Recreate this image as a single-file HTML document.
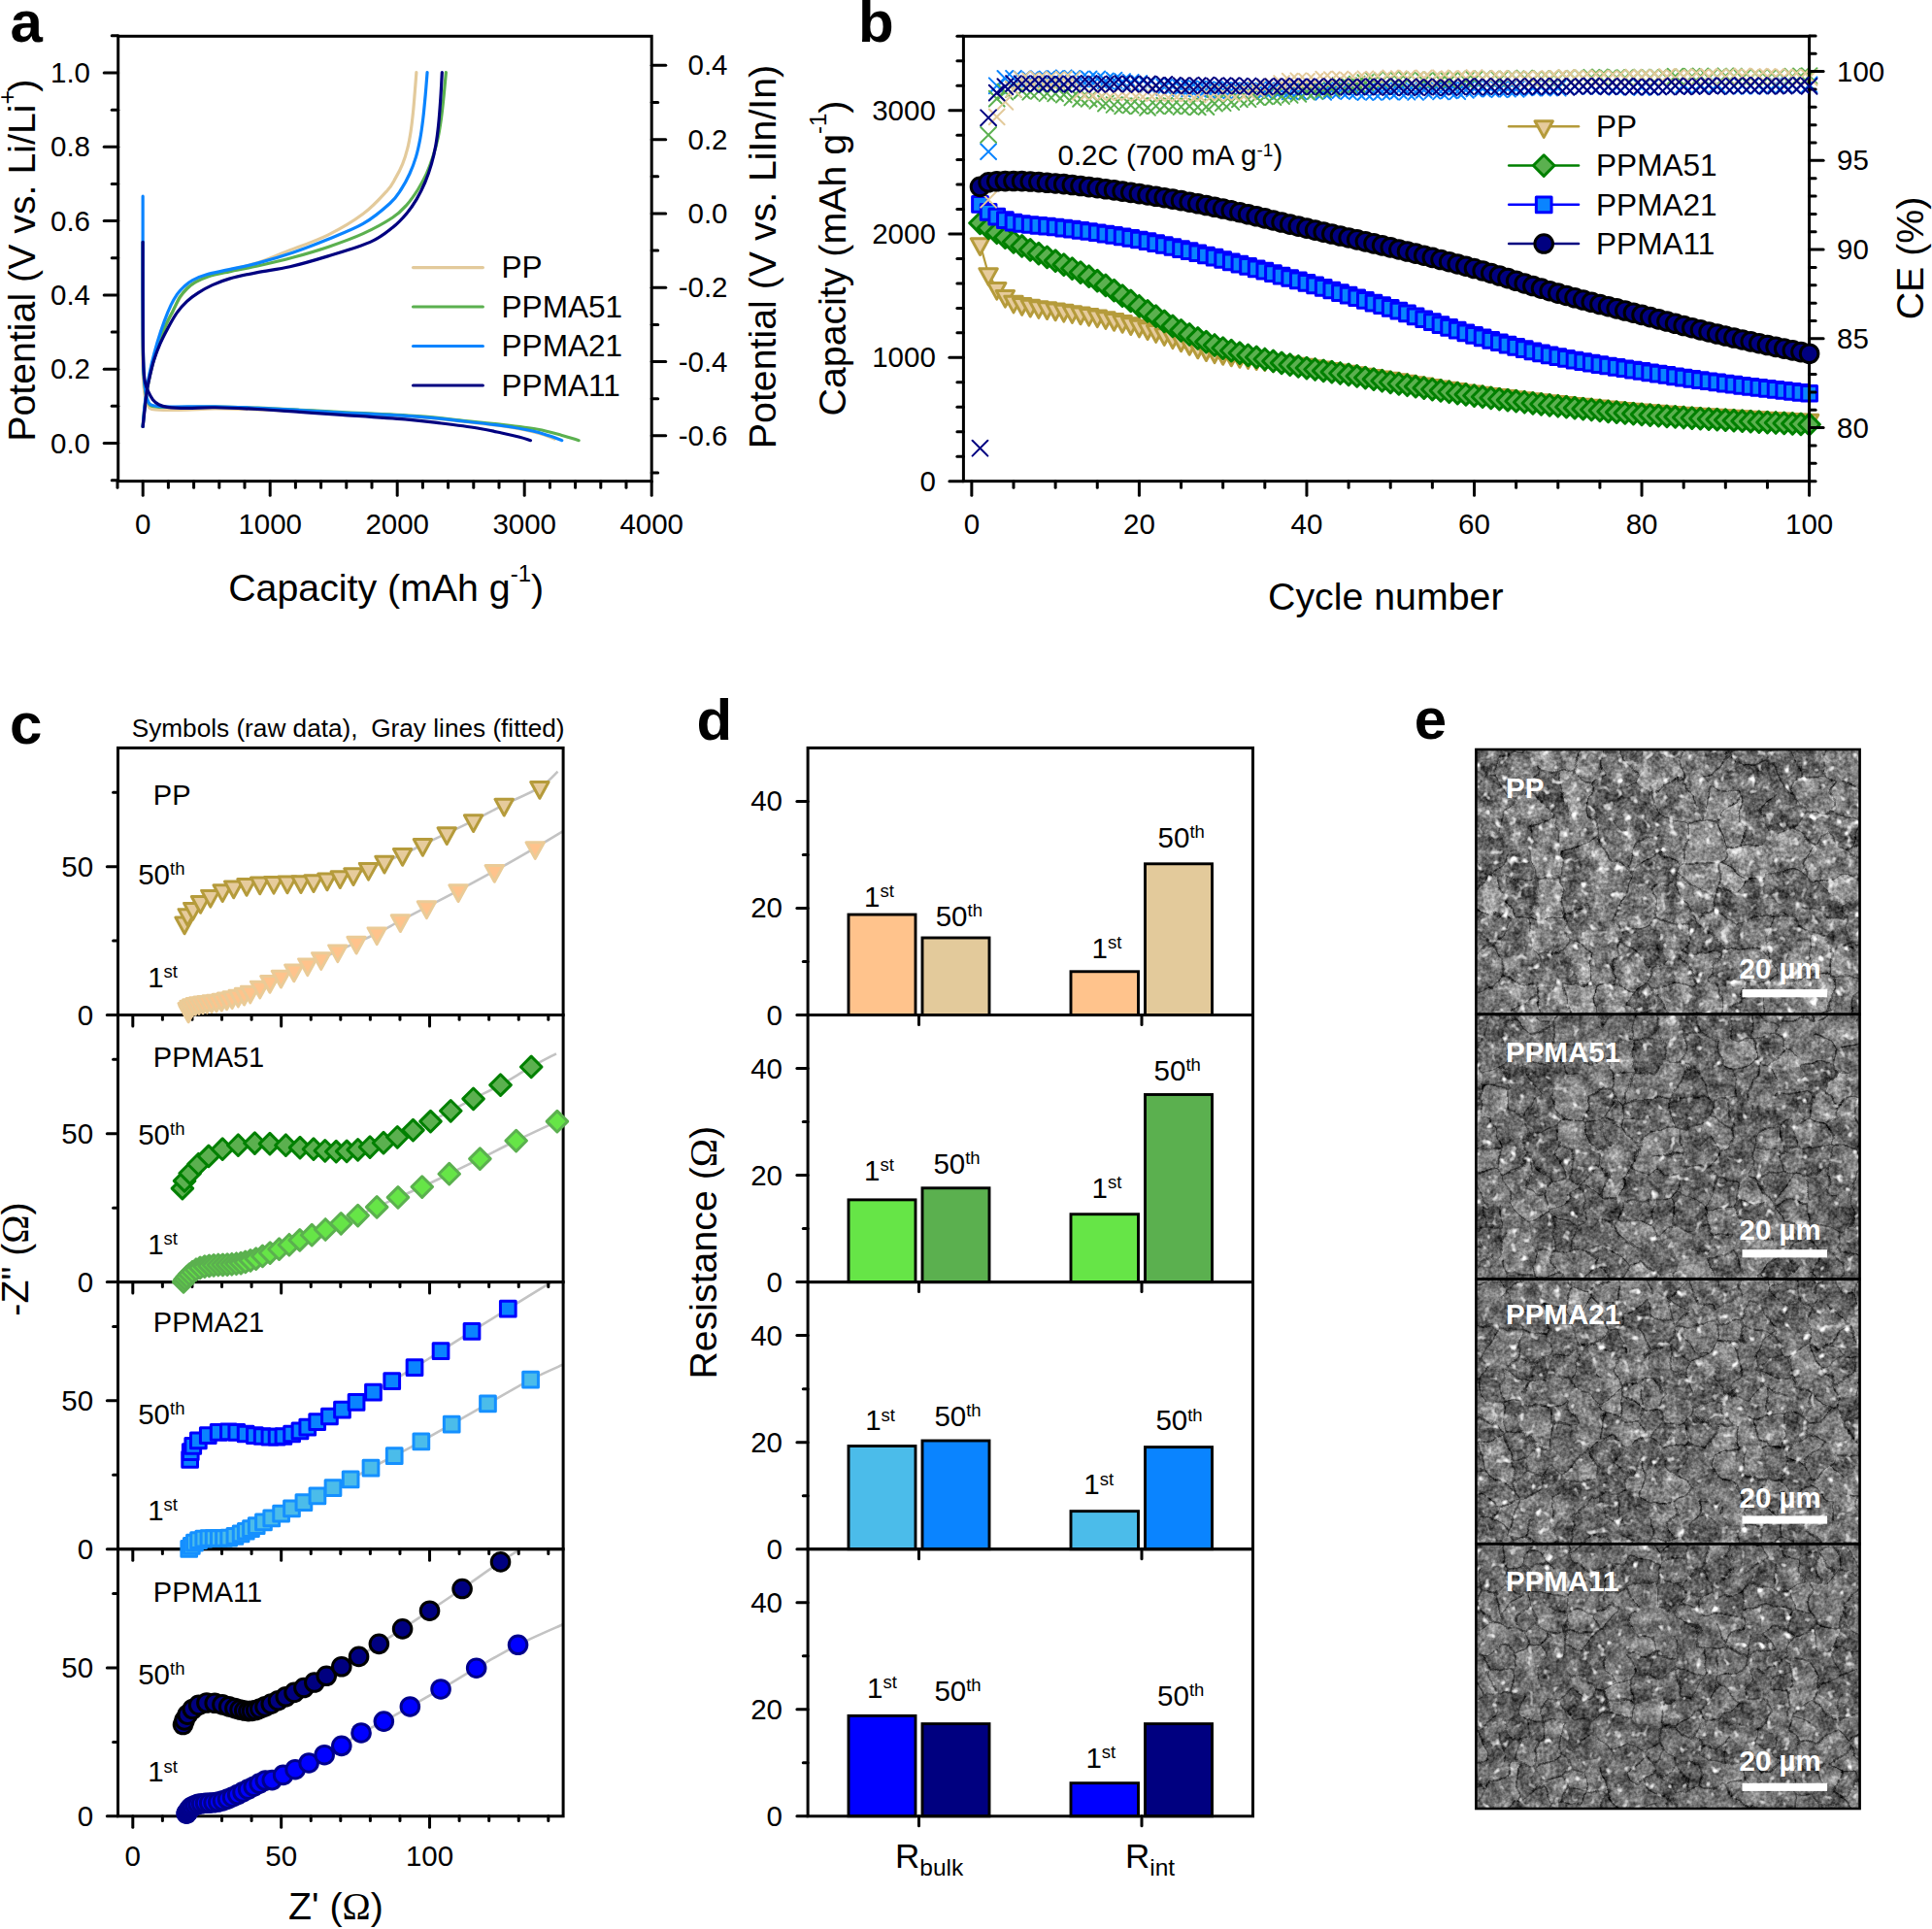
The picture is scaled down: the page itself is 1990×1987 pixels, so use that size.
<!DOCTYPE html>
<html lang="en"><head><meta charset="utf-8"><title>Figure</title>
<style>html,body{margin:0;padding:0;background:#fff}svg{display:block}text{font-family:"Liberation Sans", Arial, Helvetica, sans-serif}</style>
</head><body>
<svg width="1990" height="1987" viewBox="0 0 1990 1987">
<rect width="1990" height="1987" fill="#fff"/>
<g id="pa">
<path d="M147.14 249.35C147.14 258.06 147.17 285.64 147.14 301.61C147.12 317.58 147.02 333.55 147 345.16C146.98 356.77 146.9 363.79 147 371.29C147.1 378.79 147.17 383.87 147.58 390.16C147.99 396.45 148.38 404 149.47 409.03C150.56 414.06 151.77 418.17 154.11 420.35C156.46 422.53 157.14 421.8 163.55 422.09C169.96 422.38 182.9 422.29 192.58 422.09C202.26 421.9 209.51 420.98 221.61 420.93C233.71 420.88 250.64 421.37 265.16 421.8C279.67 422.24 294.19 422.92 308.71 423.54C323.22 424.17 332.09 424.62 352.25 425.58C372.42 426.54 408.5 427.87 429.69 429.32C450.88 430.77 464.89 432.73 479.38 434.29C493.87 435.84 506.29 437.2 516.65 438.63C527 440.06 534.24 441.33 541.49 442.86C548.74 444.39 555.16 446.27 560.12 447.83C565.09 449.38 569.44 451.45 571.3 452.17" fill="none" stroke="#E3CA9B" stroke-width="3.2" stroke-linecap="round" stroke-linejoin="round"/>
<path d="M147.14 439.51C147.46 436.13 148.19 426.21 149.03 419.19C149.88 412.17 150.89 404.67 152.23 397.42C153.56 390.16 155.13 382.9 157.02 375.64C158.9 368.38 161.25 360.64 163.55 353.87C165.85 347.09 168.39 340.56 170.81 335C173.22 329.43 175.64 325.2 178.06 320.48C180.48 315.76 182.9 310.51 185.32 306.69C187.74 302.87 189.92 300.28 192.58 297.55C195.24 294.81 197.66 292.56 201.29 290.29C204.92 288.01 208.55 285.93 214.35 283.9C220.16 281.87 227.66 280.27 236.13 278.1C244.59 275.92 255.48 273.93 265.16 270.84C274.84 267.74 282.09 264.31 294.19 259.52C306.29 254.72 324.43 248.63 337.74 242.1C351.04 235.56 363.87 227.93 374.03 220.32C384.19 212.71 393.14 202.61 398.71 196.45C404.27 190.29 404.76 187.98 407.42 183.39C410.08 178.79 412.62 173.95 414.68 168.87C416.73 163.79 418.35 158.47 419.76 152.9C421.16 147.34 422.13 141.77 423.1 135.48C424.06 129.19 424.86 121.93 425.56 115.16C426.27 108.39 426.75 101.61 427.31 94.84C427.86 88.06 428.64 77.9 428.9 74.52" fill="none" stroke="#E3CA9B" stroke-width="3.2" stroke-linecap="round" stroke-linejoin="round"/>
<path d="M147.14 249.35C147.14 258.06 147.12 285.64 147.14 301.61C147.17 317.58 147.22 333.55 147.29 345.16C147.36 356.77 147.39 363.79 147.58 371.29C147.77 378.79 147.97 384.23 148.45 390.16C148.94 396.09 149.54 402.38 150.48 406.85C151.43 411.33 152.18 414.96 154.11 417.01C156.05 419.07 158.1 418.78 162.1 419.19C166.09 419.6 168.14 419.5 178.06 419.48C187.98 419.46 207.1 418.92 221.61 419.04C236.13 419.17 250.64 419.67 265.16 420.21C279.67 420.74 294.19 421.51 308.71 422.24C323.22 422.96 332.09 423.48 352.25 424.56C372.42 425.64 408.5 427.2 429.69 428.7C450.88 430.19 464.89 432.11 479.38 433.54C493.87 434.97 504.22 435.82 516.65 437.27C529.07 438.72 543.56 440.37 553.91 442.24C564.27 444.1 571.72 446.54 578.76 448.45C585.8 450.35 593.25 452.8 596.15 453.66" fill="none" stroke="#5BB04F" stroke-width="3.2" stroke-linecap="round" stroke-linejoin="round"/>
<path d="M147.14 439.51C147.46 436.13 148.19 426.21 149.03 419.19C149.88 412.17 150.89 404.67 152.23 397.42C153.56 390.16 155.13 382.9 157.02 375.64C158.9 368.38 161.25 360.64 163.55 353.87C165.85 347.09 168.39 340.56 170.81 335C173.22 329.43 175.64 325.32 178.06 320.48C180.48 315.64 182.9 309.84 185.32 305.97C187.74 302.1 189.92 299.8 192.58 297.26C195.24 294.72 197.66 292.78 201.29 290.72C204.92 288.67 208.55 286.73 214.35 284.92C220.16 283.1 227.66 281.65 236.13 279.84C244.59 278.02 254.27 276.45 265.16 274.03C276.05 271.61 289.35 268.59 301.45 265.32C313.55 262.06 325.64 258.55 337.74 254.43C349.84 250.32 362.9 245.71 374.03 240.64C385.16 235.58 397.02 228.98 404.52 224.03C412.02 219.08 414.68 215.8 419.03 210.97C423.39 206.13 427.26 200.32 430.64 195C434.03 189.68 436.81 184.59 439.35 179.03C441.89 173.47 443.95 167.66 445.89 161.61C447.82 155.56 449.52 149.51 450.97 142.74C452.42 135.97 453.56 128.47 454.6 120.97C455.64 113.47 456.41 105.48 457.21 97.74C458.01 90 459.02 78.39 459.39 74.52" fill="none" stroke="#5BB04F" stroke-width="3.2" stroke-linecap="round" stroke-linejoin="round"/>
<path d="M147.14 202.18C147.14 218.75 147.12 277.78 147.14 301.61C147.17 325.44 147.22 333.55 147.29 345.16C147.36 356.77 147.39 363.79 147.58 371.29C147.77 378.79 147.97 384.35 148.45 390.16C148.94 395.96 149.54 401.82 150.48 406.13C151.43 410.43 152.18 413.94 154.11 416C156.05 418.05 158.1 417.96 162.1 418.46C166.09 418.97 168.14 418.97 178.06 419.04C187.98 419.12 207.1 418.68 221.61 418.9C236.13 419.12 250.64 419.75 265.16 420.35C279.67 420.96 294.19 421.75 308.71 422.53C323.22 423.3 332.09 423.89 352.25 425C372.42 426.11 408.5 427.67 429.69 429.19C450.88 430.72 464.89 432.61 479.38 434.16C493.87 435.71 505.26 436.92 516.65 438.51C528.03 440.1 539.42 441.97 547.7 443.73C555.98 445.49 561.16 447.41 566.34 449.07C571.51 450.72 576.69 452.9 578.76 453.66" fill="none" stroke="#0A84FF" stroke-width="3.2" stroke-linecap="round" stroke-linejoin="round"/>
<path d="M147.14 439.51C147.46 435.88 148.23 425 149.03 417.74C149.83 410.48 150.73 403.22 151.93 395.96C153.14 388.71 154.6 381.45 156.29 374.19C157.98 366.93 159.92 359.67 162.1 352.42C164.27 345.16 167.06 336.93 169.35 330.64C171.65 324.35 173.71 319.27 175.89 314.68C178.06 310.08 180.12 306.33 182.42 303.06C184.72 299.8 187.02 297.5 189.68 295.08C192.34 292.66 194.51 290.6 198.39 288.55C202.26 286.49 206.61 284.56 212.9 282.74C219.19 280.93 227.42 279.6 236.13 277.66C244.84 275.72 254.27 274.03 265.16 271.13C276.05 268.22 289.35 264.35 301.45 260.24C313.55 256.13 325.64 251.41 337.74 246.45C349.84 241.49 363.38 236.64 374.03 230.48C384.67 224.33 395.08 215.43 401.61 209.51C408.15 203.6 409.84 200.08 413.23 195C416.61 189.92 419.39 184.59 421.93 179.03C424.48 173.47 426.65 167.66 428.47 161.61C430.28 155.56 431.61 149.27 432.82 142.74C434.03 136.21 434.83 129.92 435.73 122.42C436.62 114.92 437.47 105.73 438.19 97.74C438.92 89.76 439.77 78.39 440.08 74.52" fill="none" stroke="#0A84FF" stroke-width="3.2" stroke-linecap="round" stroke-linejoin="round"/>
<path d="M147.14 249.35C147.14 258.06 147.12 285.64 147.14 301.61C147.17 317.58 147.22 334.27 147.29 345.16C147.36 356.05 147.44 360.64 147.58 366.93C147.73 373.22 147.85 378.42 148.16 382.9C148.48 387.38 148.72 390.4 149.47 393.79C150.22 397.17 151.33 400.25 152.66 403.22C153.99 406.2 155.64 409.39 157.45 411.64C159.27 413.89 161.08 415.44 163.55 416.72C166.02 418 167.42 418.73 172.26 419.34C177.1 419.94 184.35 420.28 192.58 420.35C200.81 420.42 209.51 419.58 221.61 419.77C233.71 419.96 250.64 420.74 265.16 421.51C279.67 422.29 294.19 423.45 308.71 424.42C323.22 425.38 334.16 426.07 352.25 427.32C370.35 428.57 400.22 430.47 417.27 431.93C434.31 433.38 442.11 434.51 454.53 436.02C466.96 437.54 481.45 439.34 491.8 440.99C502.15 442.65 509.4 444.41 516.65 445.96C523.89 447.52 530.31 449.03 535.28 450.31C540.25 451.59 544.6 453.11 546.46 453.66" fill="none" stroke="#000080" stroke-width="3.2" stroke-linecap="round" stroke-linejoin="round"/>
<path d="M147.14 439.51C147.46 436.61 148.35 428.14 149.03 422.09C149.71 416.04 150.36 408.79 151.21 403.22C152.06 397.66 152.9 394.03 154.11 388.71C155.32 383.38 156.65 377.09 158.47 371.29C160.28 365.48 162.58 359.43 165 353.87C167.42 348.3 170.08 343.22 172.98 337.9C175.89 332.58 179.15 326.53 182.42 321.93C185.68 317.34 188.95 313.71 192.58 310.32C196.21 306.93 199.84 304.39 204.19 301.61C208.55 298.83 213.39 296.05 218.71 293.63C224.03 291.21 228.39 289.27 236.13 287.1C243.87 284.92 254.76 282.62 265.16 280.56C275.56 278.51 286.45 277.54 298.55 274.76C310.64 271.97 323.95 268.1 337.74 263.87C351.53 259.64 370.16 254.3 381.29 249.35C392.42 244.41 398.22 239.14 404.52 234.19C410.81 229.24 414.92 224.51 419.03 219.67C423.14 214.84 426.05 210.48 429.19 205.16C432.34 199.84 435.36 193.79 437.9 187.74C440.44 181.69 442.62 175.16 444.43 168.87C446.25 162.58 447.58 156.77 448.79 150C450 143.22 450.85 136.45 451.69 128.22C452.54 120 453.27 109.6 453.87 100.64C454.47 91.69 455.08 78.87 455.32 74.52" fill="none" stroke="#000080" stroke-width="3.2" stroke-linecap="round" stroke-linejoin="round"/>
<rect x="121.7" y="37.3" width="549.5" height="458.35" fill="none" stroke="#000" stroke-width="3"/>
<line x1="107.2" y1="456.5" x2="121.7" y2="456.5" stroke="#000" stroke-width="3" stroke-linecap="round"/>
<text x="93" y="466.6" font-size="29.5" text-anchor="end">0.0</text>
<line x1="107.2" y1="380.2" x2="121.7" y2="380.2" stroke="#000" stroke-width="3" stroke-linecap="round"/>
<text x="93" y="390.3" font-size="29.5" text-anchor="end">0.2</text>
<line x1="107.2" y1="303.9" x2="121.7" y2="303.9" stroke="#000" stroke-width="3" stroke-linecap="round"/>
<text x="93" y="314" font-size="29.5" text-anchor="end">0.4</text>
<line x1="107.2" y1="227.6" x2="121.7" y2="227.6" stroke="#000" stroke-width="3" stroke-linecap="round"/>
<text x="93" y="237.7" font-size="29.5" text-anchor="end">0.6</text>
<line x1="107.2" y1="151.3" x2="121.7" y2="151.3" stroke="#000" stroke-width="3" stroke-linecap="round"/>
<text x="93" y="161.4" font-size="29.5" text-anchor="end">0.8</text>
<line x1="107.2" y1="75" x2="121.7" y2="75" stroke="#000" stroke-width="3" stroke-linecap="round"/>
<text x="93" y="85.1" font-size="29.5" text-anchor="end">1.0</text>
<line x1="115.2" y1="494.65" x2="121.7" y2="494.65" stroke="#000" stroke-width="3" stroke-linecap="round"/>
<line x1="115.2" y1="418.35" x2="121.7" y2="418.35" stroke="#000" stroke-width="3" stroke-linecap="round"/>
<line x1="115.2" y1="342.05" x2="121.7" y2="342.05" stroke="#000" stroke-width="3" stroke-linecap="round"/>
<line x1="115.2" y1="265.75" x2="121.7" y2="265.75" stroke="#000" stroke-width="3" stroke-linecap="round"/>
<line x1="115.2" y1="189.45" x2="121.7" y2="189.45" stroke="#000" stroke-width="3" stroke-linecap="round"/>
<line x1="115.2" y1="113.15" x2="121.7" y2="113.15" stroke="#000" stroke-width="3" stroke-linecap="round"/>
<line x1="115.2" y1="36.85" x2="121.7" y2="36.85" stroke="#000" stroke-width="3" stroke-linecap="round"/>
<line x1="147.2" y1="495.65" x2="147.2" y2="510.15" stroke="#000" stroke-width="3" stroke-linecap="round"/>
<text x="147.2" y="550" font-size="29.5" text-anchor="middle">0</text>
<line x1="278.2" y1="495.65" x2="278.2" y2="510.15" stroke="#000" stroke-width="3" stroke-linecap="round"/>
<text x="278.2" y="550" font-size="29.5" text-anchor="middle">1000</text>
<line x1="409.2" y1="495.65" x2="409.2" y2="510.15" stroke="#000" stroke-width="3" stroke-linecap="round"/>
<text x="409.2" y="550" font-size="29.5" text-anchor="middle">2000</text>
<line x1="540.2" y1="495.65" x2="540.2" y2="510.15" stroke="#000" stroke-width="3" stroke-linecap="round"/>
<text x="540.2" y="550" font-size="29.5" text-anchor="middle">3000</text>
<line x1="671.2" y1="495.65" x2="671.2" y2="510.15" stroke="#000" stroke-width="3" stroke-linecap="round"/>
<text x="671.2" y="550" font-size="29.5" text-anchor="middle">4000</text>
<line x1="121" y1="495.65" x2="121" y2="502.15" stroke="#000" stroke-width="3" stroke-linecap="round"/>
<line x1="173.4" y1="495.65" x2="173.4" y2="502.15" stroke="#000" stroke-width="3" stroke-linecap="round"/>
<line x1="199.6" y1="495.65" x2="199.6" y2="502.15" stroke="#000" stroke-width="3" stroke-linecap="round"/>
<line x1="225.8" y1="495.65" x2="225.8" y2="502.15" stroke="#000" stroke-width="3" stroke-linecap="round"/>
<line x1="252" y1="495.65" x2="252" y2="502.15" stroke="#000" stroke-width="3" stroke-linecap="round"/>
<line x1="304.4" y1="495.65" x2="304.4" y2="502.15" stroke="#000" stroke-width="3" stroke-linecap="round"/>
<line x1="330.6" y1="495.65" x2="330.6" y2="502.15" stroke="#000" stroke-width="3" stroke-linecap="round"/>
<line x1="356.8" y1="495.65" x2="356.8" y2="502.15" stroke="#000" stroke-width="3" stroke-linecap="round"/>
<line x1="383" y1="495.65" x2="383" y2="502.15" stroke="#000" stroke-width="3" stroke-linecap="round"/>
<line x1="435.4" y1="495.65" x2="435.4" y2="502.15" stroke="#000" stroke-width="3" stroke-linecap="round"/>
<line x1="461.6" y1="495.65" x2="461.6" y2="502.15" stroke="#000" stroke-width="3" stroke-linecap="round"/>
<line x1="487.8" y1="495.65" x2="487.8" y2="502.15" stroke="#000" stroke-width="3" stroke-linecap="round"/>
<line x1="514" y1="495.65" x2="514" y2="502.15" stroke="#000" stroke-width="3" stroke-linecap="round"/>
<line x1="566.4" y1="495.65" x2="566.4" y2="502.15" stroke="#000" stroke-width="3" stroke-linecap="round"/>
<line x1="592.6" y1="495.65" x2="592.6" y2="502.15" stroke="#000" stroke-width="3" stroke-linecap="round"/>
<line x1="618.8" y1="495.65" x2="618.8" y2="502.15" stroke="#000" stroke-width="3" stroke-linecap="round"/>
<line x1="645" y1="495.65" x2="645" y2="502.15" stroke="#000" stroke-width="3" stroke-linecap="round"/>
<line x1="671.2" y1="67.37" x2="685.7" y2="67.37" stroke="#000" stroke-width="3" stroke-linecap="round"/>
<text x="749.5" y="77.47" font-size="29.5" text-anchor="end">0.4</text>
<line x1="671.2" y1="143.67" x2="685.7" y2="143.67" stroke="#000" stroke-width="3" stroke-linecap="round"/>
<text x="749.5" y="153.77" font-size="29.5" text-anchor="end">0.2</text>
<line x1="671.2" y1="219.97" x2="685.7" y2="219.97" stroke="#000" stroke-width="3" stroke-linecap="round"/>
<text x="749.5" y="230.07" font-size="29.5" text-anchor="end">0.0</text>
<line x1="671.2" y1="296.27" x2="685.7" y2="296.27" stroke="#000" stroke-width="3" stroke-linecap="round"/>
<text x="749.5" y="306.37" font-size="29.5" text-anchor="end">-0.2</text>
<line x1="671.2" y1="372.57" x2="685.7" y2="372.57" stroke="#000" stroke-width="3" stroke-linecap="round"/>
<text x="749.5" y="382.67" font-size="29.5" text-anchor="end">-0.4</text>
<line x1="671.2" y1="448.87" x2="685.7" y2="448.87" stroke="#000" stroke-width="3" stroke-linecap="round"/>
<text x="749.5" y="458.97" font-size="29.5" text-anchor="end">-0.6</text>
<line x1="671.2" y1="105.52" x2="677.7" y2="105.52" stroke="#000" stroke-width="3" stroke-linecap="round"/>
<line x1="671.2" y1="181.82" x2="677.7" y2="181.82" stroke="#000" stroke-width="3" stroke-linecap="round"/>
<line x1="671.2" y1="258.12" x2="677.7" y2="258.12" stroke="#000" stroke-width="3" stroke-linecap="round"/>
<line x1="671.2" y1="334.42" x2="677.7" y2="334.42" stroke="#000" stroke-width="3" stroke-linecap="round"/>
<line x1="671.2" y1="410.72" x2="677.7" y2="410.72" stroke="#000" stroke-width="3" stroke-linecap="round"/>
<line x1="671.2" y1="487.02" x2="677.7" y2="487.02" stroke="#000" stroke-width="3" stroke-linecap="round"/>
<text x="397.7" y="618.7" font-size="39.3" text-anchor="middle">Capacity (mAh g<tspan font-size="24" dy="-19.6">-1</tspan><tspan dy="19.6" font-size="39.3">)</tspan></text>
<text x="36.1" y="268.2" font-size="39.3" text-anchor="middle" transform="rotate(-90 36.1 268.2)">Potential (V vs. Li/Li<tspan font-size="25" dy="-20.2">+</tspan><tspan dy="20.2" dx="-1.8" font-size="39.3">)</tspan></text>
<text x="799.3" y="264.5" font-size="39.3" text-anchor="middle" transform="rotate(-90 799.3 264.5)">Potential (V vs. LiIn/In)</text>
<line x1="425.5" y1="275.6" x2="497.4" y2="275.6" stroke="#E3CA9B" stroke-width="3.1" stroke-linecap="round"/>
<text x="516.5" y="286.4" font-size="31.6">PP</text>
<line x1="425.5" y1="316.05" x2="497.4" y2="316.05" stroke="#5BB04F" stroke-width="3.1" stroke-linecap="round"/>
<text x="516.5" y="326.85" font-size="31.6">PPMA51</text>
<line x1="425.5" y1="356.5" x2="497.4" y2="356.5" stroke="#0A84FF" stroke-width="3.1" stroke-linecap="round"/>
<text x="516.5" y="367.3" font-size="31.6">PPMA21</text>
<line x1="425.5" y1="396.95" x2="497.4" y2="396.95" stroke="#000080" stroke-width="3.1" stroke-linecap="round"/>
<text x="516.5" y="407.75" font-size="31.6">PPMA11</text>
<text x="10.6" y="42.7" font-size="60" font-weight="bold">a</text>
</g>
<defs>
<path id="mT" d="M-9.2 -5.6H9.2L0 11.1Z" fill="#E6CB9C" stroke="#B59B3B" stroke-width="3" stroke-linejoin="round"/>
<path id="mD" d="M0 -10.8L10.8 0L0 10.8L-10.8 0Z" fill="#5BB04F" stroke="#008000" stroke-width="3" stroke-linejoin="round"/>
<rect id="mS" x="-7.85" y="-7.85" width="15.7" height="15.7" fill="#0A84FF" stroke="#0000FF" stroke-width="3" stroke-linejoin="round"/>
<circle id="mC" r="9.3" fill="#000080" stroke="#000" stroke-width="3"/>
<path id="xT" d="M-7.9 -7.9L7.9 7.9M-7.9 7.9L7.9 -7.9" fill="none" stroke="#E3CA9B" stroke-width="2" stroke-linecap="round"/>
<path id="xG" d="M-7.9 -7.9L7.9 7.9M-7.9 7.9L7.9 -7.9" fill="none" stroke="#5BB04F" stroke-width="2" stroke-linecap="round"/>
<path id="xB" d="M-7.9 -7.9L7.9 7.9M-7.9 7.9L7.9 -7.9" fill="none" stroke="#0A84FF" stroke-width="2" stroke-linecap="round"/>
<path id="xN" d="M-7.9 -7.9L7.9 7.9M-7.9 7.9L7.9 -7.9" fill="none" stroke="#000080" stroke-width="2" stroke-linecap="round"/>
</defs>
<g id="pb">
<polyline points="1009.48,251.45 1018.11,282.26 1026.73,297.03 1035.36,305.05 1043.99,310.78 1052.62,313.21 1061.24,314.86 1069.87,316.26 1078.5,317.45 1087.12,318.68 1095.75,319.97 1104.38,321.26 1113.01,322.58 1121.63,324 1130.26,325.55 1138.89,327.27 1147.52,329.16 1156.14,331.2 1164.77,333.39 1173.4,335.74 1182.03,338.33 1190.65,341.22 1199.28,344.3 1207.91,347.47 1216.54,350.63 1225.16,354.07 1233.79,357.6 1242.42,360.44 1251.05,362.48 1259.67,364.2 1268.3,365.69 1276.93,367.06 1285.56,368.29 1294.18,369.39 1302.81,370.44 1311.44,371.51 1320.07,372.6 1328.69,373.68 1337.32,374.79 1345.95,375.97 1354.58,377.26 1363.2,378.65 1371.83,380.09 1380.46,381.54 1389.09,382.97 1397.71,384.37 1406.34,385.78 1414.97,387.18 1423.6,388.58 1432.22,389.97 1440.85,391.38 1449.48,392.8 1458.11,394.24 1466.74,395.68 1475.36,397.1 1483.99,398.51 1492.62,399.89 1501.24,401.22 1509.87,402.5 1518.5,403.72 1527.13,404.89 1535.76,406.03 1544.38,407.14 1553.01,408.22 1561.64,409.26 1570.26,410.29 1578.89,411.29 1587.52,412.27 1596.15,413.23 1604.78,414.17 1613.4,415.09 1622.03,416.01 1630.66,416.91 1639.28,417.8 1647.91,418.67 1656.54,419.51 1665.17,420.33 1673.8,421.11 1682.42,421.86 1691.05,422.57 1699.68,423.25 1708.3,423.9 1716.93,424.53 1725.56,425.14 1734.19,425.73 1742.82,426.3 1751.44,426.85 1760.07,427.39 1768.7,427.91 1777.32,428.43 1785.95,428.93 1794.58,429.42 1803.21,429.89 1811.84,430.36 1820.46,430.82 1829.09,431.26 1837.72,431.69 1846.35,432.1 1854.97,432.5 1863.6,432.88" fill="none" stroke="#B59B3B" stroke-width="2.2"/>
<use href="#mT" x="1009.48" y="251.45"/>
<use href="#mT" x="1018.11" y="282.26"/>
<use href="#mT" x="1026.73" y="297.03"/>
<use href="#mT" x="1035.36" y="305.05"/>
<use href="#mT" x="1043.99" y="310.78"/>
<use href="#mT" x="1052.62" y="313.21"/>
<use href="#mT" x="1061.24" y="314.86"/>
<use href="#mT" x="1069.87" y="316.26"/>
<use href="#mT" x="1078.5" y="317.45"/>
<use href="#mT" x="1087.12" y="318.68"/>
<use href="#mT" x="1095.75" y="319.97"/>
<use href="#mT" x="1104.38" y="321.26"/>
<use href="#mT" x="1113.01" y="322.58"/>
<use href="#mT" x="1121.63" y="324"/>
<use href="#mT" x="1130.26" y="325.55"/>
<use href="#mT" x="1138.89" y="327.27"/>
<use href="#mT" x="1147.52" y="329.16"/>
<use href="#mT" x="1156.14" y="331.2"/>
<use href="#mT" x="1164.77" y="333.39"/>
<use href="#mT" x="1173.4" y="335.74"/>
<use href="#mT" x="1182.03" y="338.33"/>
<use href="#mT" x="1190.65" y="341.22"/>
<use href="#mT" x="1199.28" y="344.3"/>
<use href="#mT" x="1207.91" y="347.47"/>
<use href="#mT" x="1216.54" y="350.63"/>
<use href="#mT" x="1225.16" y="354.07"/>
<use href="#mT" x="1233.79" y="357.6"/>
<use href="#mT" x="1242.42" y="360.44"/>
<use href="#mT" x="1251.05" y="362.48"/>
<use href="#mT" x="1259.67" y="364.2"/>
<use href="#mT" x="1268.3" y="365.69"/>
<use href="#mT" x="1276.93" y="367.06"/>
<use href="#mT" x="1285.56" y="368.29"/>
<use href="#mT" x="1294.18" y="369.39"/>
<use href="#mT" x="1302.81" y="370.44"/>
<use href="#mT" x="1311.44" y="371.51"/>
<use href="#mT" x="1320.07" y="372.6"/>
<use href="#mT" x="1328.69" y="373.68"/>
<use href="#mT" x="1337.32" y="374.79"/>
<use href="#mT" x="1345.95" y="375.97"/>
<use href="#mT" x="1354.58" y="377.26"/>
<use href="#mT" x="1363.2" y="378.65"/>
<use href="#mT" x="1371.83" y="380.09"/>
<use href="#mT" x="1380.46" y="381.54"/>
<use href="#mT" x="1389.09" y="382.97"/>
<use href="#mT" x="1397.71" y="384.37"/>
<use href="#mT" x="1406.34" y="385.78"/>
<use href="#mT" x="1414.97" y="387.18"/>
<use href="#mT" x="1423.6" y="388.58"/>
<use href="#mT" x="1432.22" y="389.97"/>
<use href="#mT" x="1440.85" y="391.38"/>
<use href="#mT" x="1449.48" y="392.8"/>
<use href="#mT" x="1458.11" y="394.24"/>
<use href="#mT" x="1466.74" y="395.68"/>
<use href="#mT" x="1475.36" y="397.1"/>
<use href="#mT" x="1483.99" y="398.51"/>
<use href="#mT" x="1492.62" y="399.89"/>
<use href="#mT" x="1501.24" y="401.22"/>
<use href="#mT" x="1509.87" y="402.5"/>
<use href="#mT" x="1518.5" y="403.72"/>
<use href="#mT" x="1527.13" y="404.89"/>
<use href="#mT" x="1535.76" y="406.03"/>
<use href="#mT" x="1544.38" y="407.14"/>
<use href="#mT" x="1553.01" y="408.22"/>
<use href="#mT" x="1561.64" y="409.26"/>
<use href="#mT" x="1570.26" y="410.29"/>
<use href="#mT" x="1578.89" y="411.29"/>
<use href="#mT" x="1587.52" y="412.27"/>
<use href="#mT" x="1596.15" y="413.23"/>
<use href="#mT" x="1604.78" y="414.17"/>
<use href="#mT" x="1613.4" y="415.09"/>
<use href="#mT" x="1622.03" y="416.01"/>
<use href="#mT" x="1630.66" y="416.91"/>
<use href="#mT" x="1639.28" y="417.8"/>
<use href="#mT" x="1647.91" y="418.67"/>
<use href="#mT" x="1656.54" y="419.51"/>
<use href="#mT" x="1665.17" y="420.33"/>
<use href="#mT" x="1673.8" y="421.11"/>
<use href="#mT" x="1682.42" y="421.86"/>
<use href="#mT" x="1691.05" y="422.57"/>
<use href="#mT" x="1699.68" y="423.25"/>
<use href="#mT" x="1708.3" y="423.9"/>
<use href="#mT" x="1716.93" y="424.53"/>
<use href="#mT" x="1725.56" y="425.14"/>
<use href="#mT" x="1734.19" y="425.73"/>
<use href="#mT" x="1742.82" y="426.3"/>
<use href="#mT" x="1751.44" y="426.85"/>
<use href="#mT" x="1760.07" y="427.39"/>
<use href="#mT" x="1768.7" y="427.91"/>
<use href="#mT" x="1777.32" y="428.43"/>
<use href="#mT" x="1785.95" y="428.93"/>
<use href="#mT" x="1794.58" y="429.42"/>
<use href="#mT" x="1803.21" y="429.89"/>
<use href="#mT" x="1811.84" y="430.36"/>
<use href="#mT" x="1820.46" y="430.82"/>
<use href="#mT" x="1829.09" y="431.26"/>
<use href="#mT" x="1837.72" y="431.69"/>
<use href="#mT" x="1846.35" y="432.1"/>
<use href="#mT" x="1854.97" y="432.5"/>
<use href="#mT" x="1863.6" y="432.88"/>
<polyline points="1009.48,229.81 1018.11,234.82 1026.73,239.74 1035.36,244.64 1043.99,249.29 1052.62,253.44 1061.24,257.31 1069.87,261.04 1078.5,264.77 1087.12,268.64 1095.75,272.58 1104.38,276.52 1113.01,280.53 1121.63,284.7 1130.26,289.14 1138.89,293.97 1147.52,299.18 1156.14,304.57 1164.77,309.98 1173.4,315.24 1182.03,320.45 1190.65,325.72 1199.28,330.91 1207.91,335.83 1216.54,340.32 1225.16,344.46 1233.79,348.42 1242.42,352.12 1251.05,355.51 1259.67,358.53 1268.3,361.2 1276.93,363.62 1285.56,365.85 1294.18,367.95 1302.81,369.99 1311.44,371.97 1320.07,373.87 1328.69,375.69 1337.32,377.41 1345.95,379.02 1354.58,380.5 1363.2,381.86 1371.83,383.17 1380.46,384.49 1389.09,385.9 1397.71,387.42 1406.34,389.03 1414.97,390.65 1423.6,392.26 1432.22,393.79 1440.85,395.27 1449.48,396.74 1458.11,398.18 1466.74,399.61 1475.36,401.02 1483.99,402.39 1492.62,403.74 1501.24,405.05 1509.87,406.32 1518.5,407.54 1527.13,408.73 1535.76,409.89 1544.38,411.02 1553.01,412.12 1561.64,413.2 1570.26,414.25 1578.89,415.28 1587.52,416.29 1596.15,417.27 1604.78,418.24 1613.4,419.19 1622.03,420.14 1630.66,421.08 1639.28,422 1647.91,422.9 1656.54,423.78 1665.17,424.62 1673.8,425.42 1682.42,426.18 1691.05,426.9 1699.68,427.57 1708.3,428.21 1716.93,428.83 1725.56,429.42 1734.19,429.99 1742.82,430.54 1751.44,431.07 1760.07,431.6 1768.7,432.12 1777.32,432.63 1785.95,433.13 1794.58,433.63 1803.21,434.11 1811.84,434.59 1820.46,435.05 1829.09,435.51 1837.72,435.95 1846.35,436.38 1854.97,436.8 1863.6,437.21" fill="none" stroke="#008000" stroke-width="2.2"/>
<use href="#mD" x="1009.48" y="229.81"/>
<use href="#mD" x="1018.11" y="234.82"/>
<use href="#mD" x="1026.73" y="239.74"/>
<use href="#mD" x="1035.36" y="244.64"/>
<use href="#mD" x="1043.99" y="249.29"/>
<use href="#mD" x="1052.62" y="253.44"/>
<use href="#mD" x="1061.24" y="257.31"/>
<use href="#mD" x="1069.87" y="261.04"/>
<use href="#mD" x="1078.5" y="264.77"/>
<use href="#mD" x="1087.12" y="268.64"/>
<use href="#mD" x="1095.75" y="272.58"/>
<use href="#mD" x="1104.38" y="276.52"/>
<use href="#mD" x="1113.01" y="280.53"/>
<use href="#mD" x="1121.63" y="284.7"/>
<use href="#mD" x="1130.26" y="289.14"/>
<use href="#mD" x="1138.89" y="293.97"/>
<use href="#mD" x="1147.52" y="299.18"/>
<use href="#mD" x="1156.14" y="304.57"/>
<use href="#mD" x="1164.77" y="309.98"/>
<use href="#mD" x="1173.4" y="315.24"/>
<use href="#mD" x="1182.03" y="320.45"/>
<use href="#mD" x="1190.65" y="325.72"/>
<use href="#mD" x="1199.28" y="330.91"/>
<use href="#mD" x="1207.91" y="335.83"/>
<use href="#mD" x="1216.54" y="340.32"/>
<use href="#mD" x="1225.16" y="344.46"/>
<use href="#mD" x="1233.79" y="348.42"/>
<use href="#mD" x="1242.42" y="352.12"/>
<use href="#mD" x="1251.05" y="355.51"/>
<use href="#mD" x="1259.67" y="358.53"/>
<use href="#mD" x="1268.3" y="361.2"/>
<use href="#mD" x="1276.93" y="363.62"/>
<use href="#mD" x="1285.56" y="365.85"/>
<use href="#mD" x="1294.18" y="367.95"/>
<use href="#mD" x="1302.81" y="369.99"/>
<use href="#mD" x="1311.44" y="371.97"/>
<use href="#mD" x="1320.07" y="373.87"/>
<use href="#mD" x="1328.69" y="375.69"/>
<use href="#mD" x="1337.32" y="377.41"/>
<use href="#mD" x="1345.95" y="379.02"/>
<use href="#mD" x="1354.58" y="380.5"/>
<use href="#mD" x="1363.2" y="381.86"/>
<use href="#mD" x="1371.83" y="383.17"/>
<use href="#mD" x="1380.46" y="384.49"/>
<use href="#mD" x="1389.09" y="385.9"/>
<use href="#mD" x="1397.71" y="387.42"/>
<use href="#mD" x="1406.34" y="389.03"/>
<use href="#mD" x="1414.97" y="390.65"/>
<use href="#mD" x="1423.6" y="392.26"/>
<use href="#mD" x="1432.22" y="393.79"/>
<use href="#mD" x="1440.85" y="395.27"/>
<use href="#mD" x="1449.48" y="396.74"/>
<use href="#mD" x="1458.11" y="398.18"/>
<use href="#mD" x="1466.74" y="399.61"/>
<use href="#mD" x="1475.36" y="401.02"/>
<use href="#mD" x="1483.99" y="402.39"/>
<use href="#mD" x="1492.62" y="403.74"/>
<use href="#mD" x="1501.24" y="405.05"/>
<use href="#mD" x="1509.87" y="406.32"/>
<use href="#mD" x="1518.5" y="407.54"/>
<use href="#mD" x="1527.13" y="408.73"/>
<use href="#mD" x="1535.76" y="409.89"/>
<use href="#mD" x="1544.38" y="411.02"/>
<use href="#mD" x="1553.01" y="412.12"/>
<use href="#mD" x="1561.64" y="413.2"/>
<use href="#mD" x="1570.26" y="414.25"/>
<use href="#mD" x="1578.89" y="415.28"/>
<use href="#mD" x="1587.52" y="416.29"/>
<use href="#mD" x="1596.15" y="417.27"/>
<use href="#mD" x="1604.78" y="418.24"/>
<use href="#mD" x="1613.4" y="419.19"/>
<use href="#mD" x="1622.03" y="420.14"/>
<use href="#mD" x="1630.66" y="421.08"/>
<use href="#mD" x="1639.28" y="422"/>
<use href="#mD" x="1647.91" y="422.9"/>
<use href="#mD" x="1656.54" y="423.78"/>
<use href="#mD" x="1665.17" y="424.62"/>
<use href="#mD" x="1673.8" y="425.42"/>
<use href="#mD" x="1682.42" y="426.18"/>
<use href="#mD" x="1691.05" y="426.9"/>
<use href="#mD" x="1699.68" y="427.57"/>
<use href="#mD" x="1708.3" y="428.21"/>
<use href="#mD" x="1716.93" y="428.83"/>
<use href="#mD" x="1725.56" y="429.42"/>
<use href="#mD" x="1734.19" y="429.99"/>
<use href="#mD" x="1742.82" y="430.54"/>
<use href="#mD" x="1751.44" y="431.07"/>
<use href="#mD" x="1760.07" y="431.6"/>
<use href="#mD" x="1768.7" y="432.12"/>
<use href="#mD" x="1777.32" y="432.63"/>
<use href="#mD" x="1785.95" y="433.13"/>
<use href="#mD" x="1794.58" y="433.63"/>
<use href="#mD" x="1803.21" y="434.11"/>
<use href="#mD" x="1811.84" y="434.59"/>
<use href="#mD" x="1820.46" y="435.05"/>
<use href="#mD" x="1829.09" y="435.51"/>
<use href="#mD" x="1837.72" y="435.95"/>
<use href="#mD" x="1846.35" y="436.38"/>
<use href="#mD" x="1854.97" y="436.8"/>
<use href="#mD" x="1863.6" y="437.21"/>
<polyline points="1009.48,210.45 1018.11,218.47 1026.73,223.06 1035.36,226.65 1043.99,229.17 1052.62,230.52 1061.24,231.51 1069.87,232.31 1078.5,233.09 1087.12,234.01 1095.75,235.07 1104.38,236.16 1113.01,237.3 1121.63,238.49 1130.26,239.74 1138.89,241.05 1147.52,242.42 1156.14,243.87 1164.77,245.39 1173.4,246.99 1182.03,248.72 1190.65,250.56 1199.28,252.5 1207.91,254.51 1216.54,256.54 1225.16,258.62 1233.79,260.77 1242.42,262.98 1251.05,265.22 1259.67,267.49 1268.3,269.78 1276.93,272.1 1285.56,274.44 1294.18,276.8 1302.81,279.19 1311.44,281.6 1320.07,284.03 1328.69,286.48 1337.32,288.95 1345.95,291.43 1354.58,293.93 1363.2,296.46 1371.83,299 1380.46,301.57 1389.09,304.16 1397.71,306.77 1406.34,309.4 1414.97,312.05 1423.6,314.72 1432.22,317.4 1440.85,320.15 1449.48,322.97 1458.11,325.85 1466.74,328.76 1475.36,331.67 1483.99,334.57 1492.62,337.41 1501.24,340.18 1509.87,342.86 1518.5,345.41 1527.13,347.89 1535.76,350.34 1544.38,352.75 1553.01,355.12 1561.64,357.43 1570.26,359.68 1578.89,361.83 1587.52,363.9 1596.15,365.85 1604.78,367.69 1613.4,369.42 1622.03,371.07 1630.66,372.64 1639.28,374.14 1647.91,375.6 1656.54,377.01 1665.17,378.39 1673.8,379.75 1682.42,381.11 1691.05,382.46 1699.68,383.82 1708.3,385.15 1716.93,386.47 1725.56,387.78 1734.19,389.06 1742.82,390.31 1751.44,391.55 1760.07,392.75 1768.7,393.92 1777.32,395.07 1785.95,396.18 1794.58,397.28 1803.21,398.36 1811.84,399.41 1820.46,400.45 1829.09,401.46 1837.72,402.44 1846.35,403.41 1854.97,404.34 1863.6,405.25" fill="none" stroke="#0000FF" stroke-width="2.2"/>
<use href="#mS" x="1009.48" y="210.45"/>
<use href="#mS" x="1018.11" y="218.47"/>
<use href="#mS" x="1026.73" y="223.06"/>
<use href="#mS" x="1035.36" y="226.65"/>
<use href="#mS" x="1043.99" y="229.17"/>
<use href="#mS" x="1052.62" y="230.52"/>
<use href="#mS" x="1061.24" y="231.51"/>
<use href="#mS" x="1069.87" y="232.31"/>
<use href="#mS" x="1078.5" y="233.09"/>
<use href="#mS" x="1087.12" y="234.01"/>
<use href="#mS" x="1095.75" y="235.07"/>
<use href="#mS" x="1104.38" y="236.16"/>
<use href="#mS" x="1113.01" y="237.3"/>
<use href="#mS" x="1121.63" y="238.49"/>
<use href="#mS" x="1130.26" y="239.74"/>
<use href="#mS" x="1138.89" y="241.05"/>
<use href="#mS" x="1147.52" y="242.42"/>
<use href="#mS" x="1156.14" y="243.87"/>
<use href="#mS" x="1164.77" y="245.39"/>
<use href="#mS" x="1173.4" y="246.99"/>
<use href="#mS" x="1182.03" y="248.72"/>
<use href="#mS" x="1190.65" y="250.56"/>
<use href="#mS" x="1199.28" y="252.5"/>
<use href="#mS" x="1207.91" y="254.51"/>
<use href="#mS" x="1216.54" y="256.54"/>
<use href="#mS" x="1225.16" y="258.62"/>
<use href="#mS" x="1233.79" y="260.77"/>
<use href="#mS" x="1242.42" y="262.98"/>
<use href="#mS" x="1251.05" y="265.22"/>
<use href="#mS" x="1259.67" y="267.49"/>
<use href="#mS" x="1268.3" y="269.78"/>
<use href="#mS" x="1276.93" y="272.1"/>
<use href="#mS" x="1285.56" y="274.44"/>
<use href="#mS" x="1294.18" y="276.8"/>
<use href="#mS" x="1302.81" y="279.19"/>
<use href="#mS" x="1311.44" y="281.6"/>
<use href="#mS" x="1320.07" y="284.03"/>
<use href="#mS" x="1328.69" y="286.48"/>
<use href="#mS" x="1337.32" y="288.95"/>
<use href="#mS" x="1345.95" y="291.43"/>
<use href="#mS" x="1354.58" y="293.93"/>
<use href="#mS" x="1363.2" y="296.46"/>
<use href="#mS" x="1371.83" y="299"/>
<use href="#mS" x="1380.46" y="301.57"/>
<use href="#mS" x="1389.09" y="304.16"/>
<use href="#mS" x="1397.71" y="306.77"/>
<use href="#mS" x="1406.34" y="309.4"/>
<use href="#mS" x="1414.97" y="312.05"/>
<use href="#mS" x="1423.6" y="314.72"/>
<use href="#mS" x="1432.22" y="317.4"/>
<use href="#mS" x="1440.85" y="320.15"/>
<use href="#mS" x="1449.48" y="322.97"/>
<use href="#mS" x="1458.11" y="325.85"/>
<use href="#mS" x="1466.74" y="328.76"/>
<use href="#mS" x="1475.36" y="331.67"/>
<use href="#mS" x="1483.99" y="334.57"/>
<use href="#mS" x="1492.62" y="337.41"/>
<use href="#mS" x="1501.24" y="340.18"/>
<use href="#mS" x="1509.87" y="342.86"/>
<use href="#mS" x="1518.5" y="345.41"/>
<use href="#mS" x="1527.13" y="347.89"/>
<use href="#mS" x="1535.76" y="350.34"/>
<use href="#mS" x="1544.38" y="352.75"/>
<use href="#mS" x="1553.01" y="355.12"/>
<use href="#mS" x="1561.64" y="357.43"/>
<use href="#mS" x="1570.26" y="359.68"/>
<use href="#mS" x="1578.89" y="361.83"/>
<use href="#mS" x="1587.52" y="363.9"/>
<use href="#mS" x="1596.15" y="365.85"/>
<use href="#mS" x="1604.78" y="367.69"/>
<use href="#mS" x="1613.4" y="369.42"/>
<use href="#mS" x="1622.03" y="371.07"/>
<use href="#mS" x="1630.66" y="372.64"/>
<use href="#mS" x="1639.28" y="374.14"/>
<use href="#mS" x="1647.91" y="375.6"/>
<use href="#mS" x="1656.54" y="377.01"/>
<use href="#mS" x="1665.17" y="378.39"/>
<use href="#mS" x="1673.8" y="379.75"/>
<use href="#mS" x="1682.42" y="381.11"/>
<use href="#mS" x="1691.05" y="382.46"/>
<use href="#mS" x="1699.68" y="383.82"/>
<use href="#mS" x="1708.3" y="385.15"/>
<use href="#mS" x="1716.93" y="386.47"/>
<use href="#mS" x="1725.56" y="387.78"/>
<use href="#mS" x="1734.19" y="389.06"/>
<use href="#mS" x="1742.82" y="390.31"/>
<use href="#mS" x="1751.44" y="391.55"/>
<use href="#mS" x="1760.07" y="392.75"/>
<use href="#mS" x="1768.7" y="393.92"/>
<use href="#mS" x="1777.32" y="395.07"/>
<use href="#mS" x="1785.95" y="396.18"/>
<use href="#mS" x="1794.58" y="397.28"/>
<use href="#mS" x="1803.21" y="398.36"/>
<use href="#mS" x="1811.84" y="399.41"/>
<use href="#mS" x="1820.46" y="400.45"/>
<use href="#mS" x="1829.09" y="401.46"/>
<use href="#mS" x="1837.72" y="402.44"/>
<use href="#mS" x="1846.35" y="403.41"/>
<use href="#mS" x="1854.97" y="404.34"/>
<use href="#mS" x="1863.6" y="405.25"/>
<use href="#xB" x="1018.11" y="156.18"/>
<use href="#xB" x="1026.73" y="88.28"/>
<use href="#xB" x="1035.36" y="80.97"/>
<use href="#xB" x="1043.99" y="80.75"/>
<use href="#xB" x="1052.62" y="81.49"/>
<use href="#xB" x="1061.24" y="82.09"/>
<use href="#xB" x="1069.87" y="81.23"/>
<use href="#xB" x="1078.5" y="81.4"/>
<use href="#xB" x="1087.12" y="81.04"/>
<use href="#xB" x="1095.75" y="80.29"/>
<use href="#xB" x="1104.38" y="80.98"/>
<use href="#xB" x="1113.01" y="81.5"/>
<use href="#xB" x="1121.63" y="81.43"/>
<use href="#xB" x="1130.26" y="81.47"/>
<use href="#xB" x="1138.89" y="83.43"/>
<use href="#xB" x="1147.52" y="82.65"/>
<use href="#xB" x="1156.14" y="83.99"/>
<use href="#xB" x="1164.77" y="84.76"/>
<use href="#xB" x="1173.4" y="85.93"/>
<use href="#xB" x="1182.03" y="87.76"/>
<use href="#xB" x="1190.65" y="88.5"/>
<use href="#xB" x="1199.28" y="89.77"/>
<use href="#xB" x="1207.91" y="89.18"/>
<use href="#xB" x="1216.54" y="90.98"/>
<use href="#xB" x="1225.16" y="91.47"/>
<use href="#xB" x="1233.79" y="91.6"/>
<use href="#xB" x="1242.42" y="92.09"/>
<use href="#xB" x="1251.05" y="92.03"/>
<use href="#xB" x="1259.67" y="92.94"/>
<use href="#xB" x="1268.3" y="93.28"/>
<use href="#xB" x="1276.93" y="93.18"/>
<use href="#xB" x="1285.56" y="93.51"/>
<use href="#xB" x="1294.18" y="93.14"/>
<use href="#xB" x="1302.81" y="94.09"/>
<use href="#xB" x="1311.44" y="92.41"/>
<use href="#xB" x="1320.07" y="93.16"/>
<use href="#xB" x="1328.69" y="94.34"/>
<use href="#xB" x="1337.32" y="94.26"/>
<use href="#xB" x="1345.95" y="94.18"/>
<use href="#xB" x="1354.58" y="94.25"/>
<use href="#xB" x="1363.2" y="94.87"/>
<use href="#xB" x="1371.83" y="93.33"/>
<use href="#xB" x="1380.46" y="93.05"/>
<use href="#xB" x="1389.09" y="94.23"/>
<use href="#xB" x="1397.71" y="94.18"/>
<use href="#xB" x="1406.34" y="95.05"/>
<use href="#xB" x="1414.97" y="94.99"/>
<use href="#xB" x="1423.6" y="94.43"/>
<use href="#xB" x="1432.22" y="94.57"/>
<use href="#xB" x="1440.85" y="93.29"/>
<use href="#xB" x="1449.48" y="94.71"/>
<use href="#xB" x="1458.11" y="94.96"/>
<use href="#xB" x="1466.74" y="92.86"/>
<use href="#xB" x="1475.36" y="93.72"/>
<use href="#xB" x="1483.99" y="94.44"/>
<use href="#xB" x="1492.62" y="93.36"/>
<use href="#xB" x="1501.24" y="94.22"/>
<use href="#xB" x="1509.87" y="92.8"/>
<use href="#xB" x="1518.5" y="91.48"/>
<use href="#xB" x="1527.13" y="91.42"/>
<use href="#xB" x="1535.76" y="91.52"/>
<use href="#xB" x="1544.38" y="92.22"/>
<use href="#xB" x="1553.01" y="91.73"/>
<use href="#xB" x="1561.64" y="91.9"/>
<use href="#xB" x="1570.26" y="90.31"/>
<use href="#xB" x="1578.89" y="90.6"/>
<use href="#xB" x="1587.52" y="89.83"/>
<use href="#xB" x="1596.15" y="90.64"/>
<use href="#xB" x="1604.78" y="90.72"/>
<use href="#xB" x="1613.4" y="89.31"/>
<use href="#xB" x="1622.03" y="88.8"/>
<use href="#xB" x="1630.66" y="88.98"/>
<use href="#xB" x="1639.28" y="88.96"/>
<use href="#xB" x="1647.91" y="88.82"/>
<use href="#xB" x="1656.54" y="88.88"/>
<use href="#xB" x="1665.17" y="89.9"/>
<use href="#xB" x="1673.8" y="89.16"/>
<use href="#xB" x="1682.42" y="89.41"/>
<use href="#xB" x="1691.05" y="90.03"/>
<use href="#xB" x="1699.68" y="89.94"/>
<use href="#xB" x="1708.3" y="89.29"/>
<use href="#xB" x="1716.93" y="89.25"/>
<use href="#xB" x="1725.56" y="88.21"/>
<use href="#xB" x="1734.19" y="87.55"/>
<use href="#xB" x="1742.82" y="88.59"/>
<use href="#xB" x="1751.44" y="87.44"/>
<use href="#xB" x="1760.07" y="87.26"/>
<use href="#xB" x="1768.7" y="87.27"/>
<use href="#xB" x="1777.32" y="88.51"/>
<use href="#xB" x="1785.95" y="88.77"/>
<use href="#xB" x="1794.58" y="88.71"/>
<use href="#xB" x="1803.21" y="88.73"/>
<use href="#xB" x="1811.84" y="88.67"/>
<use href="#xB" x="1820.46" y="87.72"/>
<use href="#xB" x="1829.09" y="87.08"/>
<use href="#xB" x="1837.72" y="87.19"/>
<use href="#xB" x="1846.35" y="87.97"/>
<use href="#xB" x="1854.97" y="87.58"/>
<use href="#xB" x="1863.6" y="87.25"/>
<use href="#xG" x="1018.11" y="138.93"/>
<use href="#xG" x="1026.73" y="101.68"/>
<use href="#xG" x="1035.36" y="94.7"/>
<use href="#xG" x="1043.99" y="92.22"/>
<use href="#xG" x="1052.62" y="93.37"/>
<use href="#xG" x="1061.24" y="94.76"/>
<use href="#xG" x="1069.87" y="93.96"/>
<use href="#xG" x="1078.5" y="96.2"/>
<use href="#xG" x="1087.12" y="96.41"/>
<use href="#xG" x="1095.75" y="97.52"/>
<use href="#xG" x="1104.38" y="100.48"/>
<use href="#xG" x="1113.01" y="101.87"/>
<use href="#xG" x="1121.63" y="101.9"/>
<use href="#xG" x="1130.26" y="103.86"/>
<use href="#xG" x="1138.89" y="106.56"/>
<use href="#xG" x="1147.52" y="108"/>
<use href="#xG" x="1156.14" y="109.32"/>
<use href="#xG" x="1164.77" y="108.46"/>
<use href="#xG" x="1173.4" y="109.15"/>
<use href="#xG" x="1182.03" y="110.83"/>
<use href="#xG" x="1190.65" y="109.05"/>
<use href="#xG" x="1199.28" y="108.6"/>
<use href="#xG" x="1207.91" y="109.36"/>
<use href="#xG" x="1216.54" y="110.04"/>
<use href="#xG" x="1225.16" y="109.41"/>
<use href="#xG" x="1233.79" y="110.33"/>
<use href="#xG" x="1242.42" y="110.1"/>
<use href="#xG" x="1251.05" y="106.61"/>
<use href="#xG" x="1259.67" y="106.25"/>
<use href="#xG" x="1268.3" y="105.12"/>
<use href="#xG" x="1276.93" y="102.38"/>
<use href="#xG" x="1285.56" y="102.21"/>
<use href="#xG" x="1294.18" y="100.04"/>
<use href="#xG" x="1302.81" y="99.28"/>
<use href="#xG" x="1311.44" y="100.05"/>
<use href="#xG" x="1320.07" y="99.09"/>
<use href="#xG" x="1328.69" y="97.99"/>
<use href="#xG" x="1337.32" y="96.9"/>
<use href="#xG" x="1345.95" y="94.61"/>
<use href="#xG" x="1354.58" y="93.99"/>
<use href="#xG" x="1363.2" y="92.16"/>
<use href="#xG" x="1371.83" y="91.47"/>
<use href="#xG" x="1380.46" y="88.01"/>
<use href="#xG" x="1389.09" y="88.04"/>
<use href="#xG" x="1397.71" y="86.55"/>
<use href="#xG" x="1406.34" y="85.07"/>
<use href="#xG" x="1414.97" y="83.12"/>
<use href="#xG" x="1423.6" y="83.45"/>
<use href="#xG" x="1432.22" y="81.7"/>
<use href="#xG" x="1440.85" y="82.6"/>
<use href="#xG" x="1449.48" y="82.39"/>
<use href="#xG" x="1458.11" y="82.3"/>
<use href="#xG" x="1466.74" y="83.5"/>
<use href="#xG" x="1475.36" y="82.35"/>
<use href="#xG" x="1483.99" y="82.95"/>
<use href="#xG" x="1492.62" y="83.35"/>
<use href="#xG" x="1501.24" y="81.24"/>
<use href="#xG" x="1509.87" y="82.78"/>
<use href="#xG" x="1518.5" y="81.93"/>
<use href="#xG" x="1527.13" y="81.19"/>
<use href="#xG" x="1535.76" y="81.52"/>
<use href="#xG" x="1544.38" y="82.02"/>
<use href="#xG" x="1553.01" y="81.42"/>
<use href="#xG" x="1561.64" y="81.23"/>
<use href="#xG" x="1570.26" y="80.54"/>
<use href="#xG" x="1578.89" y="82.18"/>
<use href="#xG" x="1587.52" y="80.91"/>
<use href="#xG" x="1596.15" y="81.61"/>
<use href="#xG" x="1604.78" y="81.44"/>
<use href="#xG" x="1613.4" y="80.07"/>
<use href="#xG" x="1622.03" y="80.65"/>
<use href="#xG" x="1630.66" y="80.42"/>
<use href="#xG" x="1639.28" y="79.82"/>
<use href="#xG" x="1647.91" y="79.34"/>
<use href="#xG" x="1656.54" y="80.46"/>
<use href="#xG" x="1665.17" y="79.94"/>
<use href="#xG" x="1673.8" y="80.14"/>
<use href="#xG" x="1682.42" y="80.06"/>
<use href="#xG" x="1691.05" y="79.53"/>
<use href="#xG" x="1699.68" y="80.08"/>
<use href="#xG" x="1708.3" y="79.82"/>
<use href="#xG" x="1716.93" y="79.9"/>
<use href="#xG" x="1725.56" y="78.65"/>
<use href="#xG" x="1734.19" y="79.22"/>
<use href="#xG" x="1742.82" y="78.71"/>
<use href="#xG" x="1751.44" y="78.48"/>
<use href="#xG" x="1760.07" y="80.19"/>
<use href="#xG" x="1768.7" y="79.36"/>
<use href="#xG" x="1777.32" y="78.33"/>
<use href="#xG" x="1785.95" y="78.55"/>
<use href="#xG" x="1794.58" y="80.31"/>
<use href="#xG" x="1803.21" y="80.31"/>
<use href="#xG" x="1811.84" y="79.44"/>
<use href="#xG" x="1820.46" y="80.35"/>
<use href="#xG" x="1829.09" y="79.89"/>
<use href="#xG" x="1837.72" y="80.28"/>
<use href="#xG" x="1846.35" y="78.72"/>
<use href="#xG" x="1854.97" y="78.4"/>
<use href="#xG" x="1863.6" y="78.09"/>
<use href="#xT" x="1018.11" y="205.72"/>
<use href="#xT" x="1026.73" y="120.39"/>
<use href="#xT" x="1035.36" y="104.8"/>
<use href="#xT" x="1043.99" y="91.95"/>
<use href="#xT" x="1052.62" y="81.75"/>
<use href="#xT" x="1061.24" y="83.39"/>
<use href="#xT" x="1069.87" y="81.78"/>
<use href="#xT" x="1078.5" y="83"/>
<use href="#xT" x="1087.12" y="82.8"/>
<use href="#xT" x="1095.75" y="81.7"/>
<use href="#xT" x="1104.38" y="82.04"/>
<use href="#xT" x="1113.01" y="94.53"/>
<use href="#xT" x="1121.63" y="94.31"/>
<use href="#xT" x="1130.26" y="94.4"/>
<use href="#xT" x="1138.89" y="94.97"/>
<use href="#xT" x="1147.52" y="95.42"/>
<use href="#xT" x="1156.14" y="95.24"/>
<use href="#xT" x="1164.77" y="94.42"/>
<use href="#xT" x="1173.4" y="96.05"/>
<use href="#xT" x="1182.03" y="94.98"/>
<use href="#xT" x="1190.65" y="95.38"/>
<use href="#xT" x="1199.28" y="96.54"/>
<use href="#xT" x="1207.91" y="96.12"/>
<use href="#xT" x="1216.54" y="95.76"/>
<use href="#xT" x="1225.16" y="96.26"/>
<use href="#xT" x="1233.79" y="97.43"/>
<use href="#xT" x="1242.42" y="95.47"/>
<use href="#xT" x="1251.05" y="95.75"/>
<use href="#xT" x="1259.67" y="94.94"/>
<use href="#xT" x="1268.3" y="96.23"/>
<use href="#xT" x="1276.93" y="95.13"/>
<use href="#xT" x="1285.56" y="94.8"/>
<use href="#xT" x="1294.18" y="91.78"/>
<use href="#xT" x="1302.81" y="90.77"/>
<use href="#xT" x="1311.44" y="88.73"/>
<use href="#xT" x="1320.07" y="86.03"/>
<use href="#xT" x="1328.69" y="83.7"/>
<use href="#xT" x="1337.32" y="83.28"/>
<use href="#xT" x="1345.95" y="83.96"/>
<use href="#xT" x="1354.58" y="83.73"/>
<use href="#xT" x="1363.2" y="81.64"/>
<use href="#xT" x="1371.83" y="82.09"/>
<use href="#xT" x="1380.46" y="81.57"/>
<use href="#xT" x="1389.09" y="82.76"/>
<use href="#xT" x="1397.71" y="82.72"/>
<use href="#xT" x="1406.34" y="81.24"/>
<use href="#xT" x="1414.97" y="81.73"/>
<use href="#xT" x="1423.6" y="82.43"/>
<use href="#xT" x="1432.22" y="80.45"/>
<use href="#xT" x="1440.85" y="81.06"/>
<use href="#xT" x="1449.48" y="80.64"/>
<use href="#xT" x="1458.11" y="82.17"/>
<use href="#xT" x="1466.74" y="80.43"/>
<use href="#xT" x="1475.36" y="82.12"/>
<use href="#xT" x="1483.99" y="80.32"/>
<use href="#xT" x="1492.62" y="81.18"/>
<use href="#xT" x="1501.24" y="81.39"/>
<use href="#xT" x="1509.87" y="80.87"/>
<use href="#xT" x="1518.5" y="80"/>
<use href="#xT" x="1527.13" y="81.4"/>
<use href="#xT" x="1535.76" y="81.65"/>
<use href="#xT" x="1544.38" y="80.73"/>
<use href="#xT" x="1553.01" y="81.31"/>
<use href="#xT" x="1561.64" y="81.55"/>
<use href="#xT" x="1570.26" y="81.39"/>
<use href="#xT" x="1578.89" y="81.59"/>
<use href="#xT" x="1587.52" y="81.21"/>
<use href="#xT" x="1596.15" y="80.92"/>
<use href="#xT" x="1604.78" y="80.89"/>
<use href="#xT" x="1613.4" y="79.85"/>
<use href="#xT" x="1622.03" y="80.84"/>
<use href="#xT" x="1630.66" y="80.33"/>
<use href="#xT" x="1639.28" y="81"/>
<use href="#xT" x="1647.91" y="80.58"/>
<use href="#xT" x="1656.54" y="81.26"/>
<use href="#xT" x="1665.17" y="80.71"/>
<use href="#xT" x="1673.8" y="81.18"/>
<use href="#xT" x="1682.42" y="79.55"/>
<use href="#xT" x="1691.05" y="79.91"/>
<use href="#xT" x="1699.68" y="80.66"/>
<use href="#xT" x="1708.3" y="79.99"/>
<use href="#xT" x="1716.93" y="78.93"/>
<use href="#xT" x="1725.56" y="80.71"/>
<use href="#xT" x="1734.19" y="79.09"/>
<use href="#xT" x="1742.82" y="79.9"/>
<use href="#xT" x="1751.44" y="79.71"/>
<use href="#xT" x="1760.07" y="78.92"/>
<use href="#xT" x="1768.7" y="79.85"/>
<use href="#xT" x="1777.32" y="79.55"/>
<use href="#xT" x="1785.95" y="79.1"/>
<use href="#xT" x="1794.58" y="78.41"/>
<use href="#xT" x="1803.21" y="79.77"/>
<use href="#xT" x="1811.84" y="78.65"/>
<use href="#xT" x="1820.46" y="78.88"/>
<use href="#xT" x="1829.09" y="78.99"/>
<use href="#xT" x="1837.72" y="79.45"/>
<use href="#xT" x="1846.35" y="79.53"/>
<use href="#xT" x="1854.97" y="80.13"/>
<use href="#xT" x="1863.6" y="79.92"/>
<rect x="992.4" y="37.3" width="871.2" height="458.35" fill="none" stroke="#000" stroke-width="3"/>
<line x1="1863.6" y1="440.6" x2="1878.1" y2="440.6" stroke="#000" stroke-width="3" stroke-linecap="round"/>
<text x="1892" y="450.7" font-size="29.5">80</text>
<line x1="1863.6" y1="348.85" x2="1878.1" y2="348.85" stroke="#000" stroke-width="3" stroke-linecap="round"/>
<text x="1892" y="358.95" font-size="29.5">85</text>
<line x1="1863.6" y1="257.1" x2="1878.1" y2="257.1" stroke="#000" stroke-width="3" stroke-linecap="round"/>
<text x="1892" y="267.2" font-size="29.5">90</text>
<line x1="1863.6" y1="165.35" x2="1878.1" y2="165.35" stroke="#000" stroke-width="3" stroke-linecap="round"/>
<text x="1892" y="175.45" font-size="29.5">95</text>
<line x1="1863.6" y1="73.6" x2="1878.1" y2="73.6" stroke="#000" stroke-width="3" stroke-linecap="round"/>
<text x="1892" y="83.7" font-size="29.5">100</text>
<line x1="1863.6" y1="495.65" x2="1870.1" y2="495.65" stroke="#000" stroke-width="3" stroke-linecap="round"/>
<line x1="1863.6" y1="477.3" x2="1870.1" y2="477.3" stroke="#000" stroke-width="3" stroke-linecap="round"/>
<line x1="1863.6" y1="458.95" x2="1870.1" y2="458.95" stroke="#000" stroke-width="3" stroke-linecap="round"/>
<line x1="1863.6" y1="422.25" x2="1870.1" y2="422.25" stroke="#000" stroke-width="3" stroke-linecap="round"/>
<line x1="1863.6" y1="403.9" x2="1870.1" y2="403.9" stroke="#000" stroke-width="3" stroke-linecap="round"/>
<line x1="1863.6" y1="385.55" x2="1870.1" y2="385.55" stroke="#000" stroke-width="3" stroke-linecap="round"/>
<line x1="1863.6" y1="367.2" x2="1870.1" y2="367.2" stroke="#000" stroke-width="3" stroke-linecap="round"/>
<line x1="1863.6" y1="330.5" x2="1870.1" y2="330.5" stroke="#000" stroke-width="3" stroke-linecap="round"/>
<line x1="1863.6" y1="312.15" x2="1870.1" y2="312.15" stroke="#000" stroke-width="3" stroke-linecap="round"/>
<line x1="1863.6" y1="293.8" x2="1870.1" y2="293.8" stroke="#000" stroke-width="3" stroke-linecap="round"/>
<line x1="1863.6" y1="275.45" x2="1870.1" y2="275.45" stroke="#000" stroke-width="3" stroke-linecap="round"/>
<line x1="1863.6" y1="238.75" x2="1870.1" y2="238.75" stroke="#000" stroke-width="3" stroke-linecap="round"/>
<line x1="1863.6" y1="220.4" x2="1870.1" y2="220.4" stroke="#000" stroke-width="3" stroke-linecap="round"/>
<line x1="1863.6" y1="202.05" x2="1870.1" y2="202.05" stroke="#000" stroke-width="3" stroke-linecap="round"/>
<line x1="1863.6" y1="183.7" x2="1870.1" y2="183.7" stroke="#000" stroke-width="3" stroke-linecap="round"/>
<line x1="1863.6" y1="147" x2="1870.1" y2="147" stroke="#000" stroke-width="3" stroke-linecap="round"/>
<line x1="1863.6" y1="128.65" x2="1870.1" y2="128.65" stroke="#000" stroke-width="3" stroke-linecap="round"/>
<line x1="1863.6" y1="110.3" x2="1870.1" y2="110.3" stroke="#000" stroke-width="3" stroke-linecap="round"/>
<line x1="1863.6" y1="91.95" x2="1870.1" y2="91.95" stroke="#000" stroke-width="3" stroke-linecap="round"/>
<line x1="1863.6" y1="55.25" x2="1870.1" y2="55.25" stroke="#000" stroke-width="3" stroke-linecap="round"/>
<line x1="1863.6" y1="36.9" x2="1870.1" y2="36.9" stroke="#000" stroke-width="3" stroke-linecap="round"/>
<polyline points="1009.48,192.37 1018.11,187.79 1026.73,186.77 1035.36,186.58 1043.99,186.52 1052.62,186.67 1061.24,187.06 1069.87,187.62 1078.5,188.28 1087.12,188.94 1095.75,189.67 1104.38,190.55 1113.01,191.54 1121.63,192.58 1130.26,193.65 1138.89,194.74 1147.52,195.89 1156.14,197.1 1164.77,198.35 1173.4,199.63 1182.03,200.94 1190.65,202.29 1199.28,203.69 1207.91,205.13 1216.54,206.63 1225.16,208.2 1233.79,209.82 1242.42,211.51 1251.05,213.25 1259.67,215.04 1268.3,216.89 1276.93,218.81 1285.56,220.79 1294.18,222.82 1302.81,224.87 1311.44,226.94 1320.07,229.02 1328.69,231.09 1337.32,233.14 1345.95,235.15 1354.58,237.13 1363.2,239.1 1371.83,241.04 1380.46,242.99 1389.09,244.93 1397.71,246.88 1406.34,248.85 1414.97,250.83 1423.6,252.84 1432.22,254.89 1440.85,256.96 1449.48,259.03 1458.11,261.12 1466.74,263.23 1475.36,265.36 1483.99,267.52 1492.62,269.71 1501.24,271.94 1509.87,274.21 1518.5,276.53 1527.13,278.93 1535.76,281.43 1544.38,284.01 1553.01,286.63 1561.64,289.28 1570.26,291.94 1578.89,294.57 1587.52,297.16 1596.15,299.69 1604.78,302.12 1613.4,304.48 1622.03,306.79 1630.66,309.05 1639.28,311.29 1647.91,313.5 1656.54,315.69 1665.17,317.86 1673.8,320.04 1682.42,322.22 1691.05,324.4 1699.68,326.61 1708.3,328.83 1716.93,331.06 1725.56,333.29 1734.19,335.5 1742.82,337.69 1751.44,339.85 1760.07,341.97 1768.7,344.04 1777.32,346.05 1785.95,348.01 1794.58,349.95 1803.21,351.85 1811.84,353.72 1820.46,355.56 1829.09,357.37 1837.72,359.15 1846.35,360.88 1854.97,362.59 1863.6,364.26" fill="none" stroke="#000080" stroke-width="2.2"/>
<use href="#mC" x="1009.48" y="192.37"/>
<use href="#mC" x="1018.11" y="187.79"/>
<use href="#mC" x="1026.73" y="186.77"/>
<use href="#mC" x="1035.36" y="186.58"/>
<use href="#mC" x="1043.99" y="186.52"/>
<use href="#mC" x="1052.62" y="186.67"/>
<use href="#mC" x="1061.24" y="187.06"/>
<use href="#mC" x="1069.87" y="187.62"/>
<use href="#mC" x="1078.5" y="188.28"/>
<use href="#mC" x="1087.12" y="188.94"/>
<use href="#mC" x="1095.75" y="189.67"/>
<use href="#mC" x="1104.38" y="190.55"/>
<use href="#mC" x="1113.01" y="191.54"/>
<use href="#mC" x="1121.63" y="192.58"/>
<use href="#mC" x="1130.26" y="193.65"/>
<use href="#mC" x="1138.89" y="194.74"/>
<use href="#mC" x="1147.52" y="195.89"/>
<use href="#mC" x="1156.14" y="197.1"/>
<use href="#mC" x="1164.77" y="198.35"/>
<use href="#mC" x="1173.4" y="199.63"/>
<use href="#mC" x="1182.03" y="200.94"/>
<use href="#mC" x="1190.65" y="202.29"/>
<use href="#mC" x="1199.28" y="203.69"/>
<use href="#mC" x="1207.91" y="205.13"/>
<use href="#mC" x="1216.54" y="206.63"/>
<use href="#mC" x="1225.16" y="208.2"/>
<use href="#mC" x="1233.79" y="209.82"/>
<use href="#mC" x="1242.42" y="211.51"/>
<use href="#mC" x="1251.05" y="213.25"/>
<use href="#mC" x="1259.67" y="215.04"/>
<use href="#mC" x="1268.3" y="216.89"/>
<use href="#mC" x="1276.93" y="218.81"/>
<use href="#mC" x="1285.56" y="220.79"/>
<use href="#mC" x="1294.18" y="222.82"/>
<use href="#mC" x="1302.81" y="224.87"/>
<use href="#mC" x="1311.44" y="226.94"/>
<use href="#mC" x="1320.07" y="229.02"/>
<use href="#mC" x="1328.69" y="231.09"/>
<use href="#mC" x="1337.32" y="233.14"/>
<use href="#mC" x="1345.95" y="235.15"/>
<use href="#mC" x="1354.58" y="237.13"/>
<use href="#mC" x="1363.2" y="239.1"/>
<use href="#mC" x="1371.83" y="241.04"/>
<use href="#mC" x="1380.46" y="242.99"/>
<use href="#mC" x="1389.09" y="244.93"/>
<use href="#mC" x="1397.71" y="246.88"/>
<use href="#mC" x="1406.34" y="248.85"/>
<use href="#mC" x="1414.97" y="250.83"/>
<use href="#mC" x="1423.6" y="252.84"/>
<use href="#mC" x="1432.22" y="254.89"/>
<use href="#mC" x="1440.85" y="256.96"/>
<use href="#mC" x="1449.48" y="259.03"/>
<use href="#mC" x="1458.11" y="261.12"/>
<use href="#mC" x="1466.74" y="263.23"/>
<use href="#mC" x="1475.36" y="265.36"/>
<use href="#mC" x="1483.99" y="267.52"/>
<use href="#mC" x="1492.62" y="269.71"/>
<use href="#mC" x="1501.24" y="271.94"/>
<use href="#mC" x="1509.87" y="274.21"/>
<use href="#mC" x="1518.5" y="276.53"/>
<use href="#mC" x="1527.13" y="278.93"/>
<use href="#mC" x="1535.76" y="281.43"/>
<use href="#mC" x="1544.38" y="284.01"/>
<use href="#mC" x="1553.01" y="286.63"/>
<use href="#mC" x="1561.64" y="289.28"/>
<use href="#mC" x="1570.26" y="291.94"/>
<use href="#mC" x="1578.89" y="294.57"/>
<use href="#mC" x="1587.52" y="297.16"/>
<use href="#mC" x="1596.15" y="299.69"/>
<use href="#mC" x="1604.78" y="302.12"/>
<use href="#mC" x="1613.4" y="304.48"/>
<use href="#mC" x="1622.03" y="306.79"/>
<use href="#mC" x="1630.66" y="309.05"/>
<use href="#mC" x="1639.28" y="311.29"/>
<use href="#mC" x="1647.91" y="313.5"/>
<use href="#mC" x="1656.54" y="315.69"/>
<use href="#mC" x="1665.17" y="317.86"/>
<use href="#mC" x="1673.8" y="320.04"/>
<use href="#mC" x="1682.42" y="322.22"/>
<use href="#mC" x="1691.05" y="324.4"/>
<use href="#mC" x="1699.68" y="326.61"/>
<use href="#mC" x="1708.3" y="328.83"/>
<use href="#mC" x="1716.93" y="331.06"/>
<use href="#mC" x="1725.56" y="333.29"/>
<use href="#mC" x="1734.19" y="335.5"/>
<use href="#mC" x="1742.82" y="337.69"/>
<use href="#mC" x="1751.44" y="339.85"/>
<use href="#mC" x="1760.07" y="341.97"/>
<use href="#mC" x="1768.7" y="344.04"/>
<use href="#mC" x="1777.32" y="346.05"/>
<use href="#mC" x="1785.95" y="348.01"/>
<use href="#mC" x="1794.58" y="349.95"/>
<use href="#mC" x="1803.21" y="351.85"/>
<use href="#mC" x="1811.84" y="353.72"/>
<use href="#mC" x="1820.46" y="355.56"/>
<use href="#mC" x="1829.09" y="357.37"/>
<use href="#mC" x="1837.72" y="359.15"/>
<use href="#mC" x="1846.35" y="360.88"/>
<use href="#mC" x="1854.97" y="362.59"/>
<use href="#mC" x="1863.6" y="364.26"/>
<use href="#xN" x="1009.48" y="461.7"/>
<use href="#xN" x="1018.11" y="121.31"/>
<use href="#xN" x="1026.73" y="95.62"/>
<use href="#xN" x="1035.36" y="89.2"/>
<use href="#xN" x="1043.99" y="86.03"/>
<use href="#xN" x="1052.62" y="86.28"/>
<use href="#xN" x="1061.24" y="86.75"/>
<use href="#xN" x="1069.87" y="86.11"/>
<use href="#xN" x="1078.5" y="86.83"/>
<use href="#xN" x="1087.12" y="86.29"/>
<use href="#xN" x="1095.75" y="86.87"/>
<use href="#xN" x="1104.38" y="86.89"/>
<use href="#xN" x="1113.01" y="86.45"/>
<use href="#xN" x="1121.63" y="85.91"/>
<use href="#xN" x="1130.26" y="87"/>
<use href="#xN" x="1138.89" y="86.92"/>
<use href="#xN" x="1147.52" y="86.41"/>
<use href="#xN" x="1156.14" y="86.04"/>
<use href="#xN" x="1164.77" y="86.7"/>
<use href="#xN" x="1173.4" y="87.09"/>
<use href="#xN" x="1182.03" y="86.38"/>
<use href="#xN" x="1190.65" y="87.88"/>
<use href="#xN" x="1199.28" y="86.84"/>
<use href="#xN" x="1207.91" y="87.82"/>
<use href="#xN" x="1216.54" y="88.18"/>
<use href="#xN" x="1225.16" y="88.36"/>
<use href="#xN" x="1233.79" y="88.22"/>
<use href="#xN" x="1242.42" y="87.6"/>
<use href="#xN" x="1251.05" y="88.65"/>
<use href="#xN" x="1259.67" y="88.16"/>
<use href="#xN" x="1268.3" y="88.17"/>
<use href="#xN" x="1276.93" y="88.66"/>
<use href="#xN" x="1285.56" y="88.5"/>
<use href="#xN" x="1294.18" y="89.31"/>
<use href="#xN" x="1302.81" y="89.42"/>
<use href="#xN" x="1311.44" y="89.3"/>
<use href="#xN" x="1320.07" y="88.7"/>
<use href="#xN" x="1328.69" y="89.17"/>
<use href="#xN" x="1337.32" y="89.43"/>
<use href="#xN" x="1345.95" y="89.12"/>
<use href="#xN" x="1354.58" y="89.4"/>
<use href="#xN" x="1363.2" y="89.7"/>
<use href="#xN" x="1371.83" y="89.05"/>
<use href="#xN" x="1380.46" y="89.26"/>
<use href="#xN" x="1389.09" y="89.98"/>
<use href="#xN" x="1397.71" y="89.55"/>
<use href="#xN" x="1406.34" y="89.66"/>
<use href="#xN" x="1414.97" y="89.17"/>
<use href="#xN" x="1423.6" y="89.4"/>
<use href="#xN" x="1432.22" y="90.06"/>
<use href="#xN" x="1440.85" y="89.04"/>
<use href="#xN" x="1449.48" y="90.3"/>
<use href="#xN" x="1458.11" y="89.85"/>
<use href="#xN" x="1466.74" y="89.33"/>
<use href="#xN" x="1475.36" y="90.2"/>
<use href="#xN" x="1483.99" y="89.68"/>
<use href="#xN" x="1492.62" y="90.32"/>
<use href="#xN" x="1501.24" y="89.36"/>
<use href="#xN" x="1509.87" y="89.19"/>
<use href="#xN" x="1518.5" y="89.44"/>
<use href="#xN" x="1527.13" y="88.96"/>
<use href="#xN" x="1535.76" y="89.75"/>
<use href="#xN" x="1544.38" y="89.15"/>
<use href="#xN" x="1553.01" y="89.26"/>
<use href="#xN" x="1561.64" y="89.25"/>
<use href="#xN" x="1570.26" y="89.39"/>
<use href="#xN" x="1578.89" y="88.79"/>
<use href="#xN" x="1587.52" y="88.61"/>
<use href="#xN" x="1596.15" y="89.27"/>
<use href="#xN" x="1604.78" y="88.96"/>
<use href="#xN" x="1613.4" y="89.81"/>
<use href="#xN" x="1622.03" y="88.84"/>
<use href="#xN" x="1630.66" y="88.89"/>
<use href="#xN" x="1639.28" y="88.36"/>
<use href="#xN" x="1647.91" y="88.58"/>
<use href="#xN" x="1656.54" y="89.34"/>
<use href="#xN" x="1665.17" y="89.16"/>
<use href="#xN" x="1673.8" y="88.72"/>
<use href="#xN" x="1682.42" y="89.63"/>
<use href="#xN" x="1691.05" y="88.96"/>
<use href="#xN" x="1699.68" y="89.36"/>
<use href="#xN" x="1708.3" y="89.41"/>
<use href="#xN" x="1716.93" y="89.46"/>
<use href="#xN" x="1725.56" y="88.39"/>
<use href="#xN" x="1734.19" y="89.3"/>
<use href="#xN" x="1742.82" y="89.09"/>
<use href="#xN" x="1751.44" y="88.85"/>
<use href="#xN" x="1760.07" y="88.11"/>
<use href="#xN" x="1768.7" y="89.24"/>
<use href="#xN" x="1777.32" y="88.67"/>
<use href="#xN" x="1785.95" y="88.49"/>
<use href="#xN" x="1794.58" y="87.97"/>
<use href="#xN" x="1803.21" y="88.04"/>
<use href="#xN" x="1811.84" y="87.94"/>
<use href="#xN" x="1820.46" y="88.77"/>
<use href="#xN" x="1829.09" y="88.53"/>
<use href="#xN" x="1837.72" y="88.58"/>
<use href="#xN" x="1846.35" y="87.78"/>
<use href="#xN" x="1854.97" y="87.64"/>
<use href="#xN" x="1863.6" y="88.79"/>
<line x1="977.9" y1="495.65" x2="992.4" y2="495.65" stroke="#000" stroke-width="3" stroke-linecap="round"/>
<text x="963.8" y="505.75" font-size="29.5" text-anchor="end">0</text>
<line x1="977.9" y1="368.33" x2="992.4" y2="368.33" stroke="#000" stroke-width="3" stroke-linecap="round"/>
<text x="963.8" y="378.43" font-size="29.5" text-anchor="end">1000</text>
<line x1="977.9" y1="241.01" x2="992.4" y2="241.01" stroke="#000" stroke-width="3" stroke-linecap="round"/>
<text x="963.8" y="251.11" font-size="29.5" text-anchor="end">2000</text>
<line x1="977.9" y1="113.69" x2="992.4" y2="113.69" stroke="#000" stroke-width="3" stroke-linecap="round"/>
<text x="963.8" y="123.79" font-size="29.5" text-anchor="end">3000</text>
<line x1="985.9" y1="470.19" x2="992.4" y2="470.19" stroke="#000" stroke-width="3" stroke-linecap="round"/>
<line x1="985.9" y1="444.72" x2="992.4" y2="444.72" stroke="#000" stroke-width="3" stroke-linecap="round"/>
<line x1="985.9" y1="419.26" x2="992.4" y2="419.26" stroke="#000" stroke-width="3" stroke-linecap="round"/>
<line x1="985.9" y1="393.79" x2="992.4" y2="393.79" stroke="#000" stroke-width="3" stroke-linecap="round"/>
<line x1="985.9" y1="342.87" x2="992.4" y2="342.87" stroke="#000" stroke-width="3" stroke-linecap="round"/>
<line x1="985.9" y1="317.4" x2="992.4" y2="317.4" stroke="#000" stroke-width="3" stroke-linecap="round"/>
<line x1="985.9" y1="291.94" x2="992.4" y2="291.94" stroke="#000" stroke-width="3" stroke-linecap="round"/>
<line x1="985.9" y1="266.47" x2="992.4" y2="266.47" stroke="#000" stroke-width="3" stroke-linecap="round"/>
<line x1="985.9" y1="215.55" x2="992.4" y2="215.55" stroke="#000" stroke-width="3" stroke-linecap="round"/>
<line x1="985.9" y1="190.08" x2="992.4" y2="190.08" stroke="#000" stroke-width="3" stroke-linecap="round"/>
<line x1="985.9" y1="164.62" x2="992.4" y2="164.62" stroke="#000" stroke-width="3" stroke-linecap="round"/>
<line x1="985.9" y1="139.15" x2="992.4" y2="139.15" stroke="#000" stroke-width="3" stroke-linecap="round"/>
<line x1="985.9" y1="88.23" x2="992.4" y2="88.23" stroke="#000" stroke-width="3" stroke-linecap="round"/>
<line x1="985.9" y1="62.76" x2="992.4" y2="62.76" stroke="#000" stroke-width="3" stroke-linecap="round"/>
<line x1="985.9" y1="37.3" x2="992.4" y2="37.3" stroke="#000" stroke-width="3" stroke-linecap="round"/>
<line x1="1000.85" y1="495.65" x2="1000.85" y2="510.15" stroke="#000" stroke-width="3" stroke-linecap="round"/>
<text x="1000.85" y="550" font-size="29.5" text-anchor="middle">0</text>
<line x1="1173.4" y1="495.65" x2="1173.4" y2="510.15" stroke="#000" stroke-width="3" stroke-linecap="round"/>
<text x="1173.4" y="550" font-size="29.5" text-anchor="middle">20</text>
<line x1="1345.95" y1="495.65" x2="1345.95" y2="510.15" stroke="#000" stroke-width="3" stroke-linecap="round"/>
<text x="1345.95" y="550" font-size="29.5" text-anchor="middle">40</text>
<line x1="1518.5" y1="495.65" x2="1518.5" y2="510.15" stroke="#000" stroke-width="3" stroke-linecap="round"/>
<text x="1518.5" y="550" font-size="29.5" text-anchor="middle">60</text>
<line x1="1691.05" y1="495.65" x2="1691.05" y2="510.15" stroke="#000" stroke-width="3" stroke-linecap="round"/>
<text x="1691.05" y="550" font-size="29.5" text-anchor="middle">80</text>
<line x1="1863.6" y1="495.65" x2="1863.6" y2="510.15" stroke="#000" stroke-width="3" stroke-linecap="round"/>
<text x="1863.6" y="550" font-size="29.5" text-anchor="middle">100</text>
<line x1="1043.99" y1="495.65" x2="1043.99" y2="502.15" stroke="#000" stroke-width="3" stroke-linecap="round"/>
<line x1="1087.12" y1="495.65" x2="1087.12" y2="502.15" stroke="#000" stroke-width="3" stroke-linecap="round"/>
<line x1="1130.26" y1="495.65" x2="1130.26" y2="502.15" stroke="#000" stroke-width="3" stroke-linecap="round"/>
<line x1="1216.54" y1="495.65" x2="1216.54" y2="502.15" stroke="#000" stroke-width="3" stroke-linecap="round"/>
<line x1="1259.67" y1="495.65" x2="1259.67" y2="502.15" stroke="#000" stroke-width="3" stroke-linecap="round"/>
<line x1="1302.81" y1="495.65" x2="1302.81" y2="502.15" stroke="#000" stroke-width="3" stroke-linecap="round"/>
<line x1="1389.09" y1="495.65" x2="1389.09" y2="502.15" stroke="#000" stroke-width="3" stroke-linecap="round"/>
<line x1="1432.22" y1="495.65" x2="1432.22" y2="502.15" stroke="#000" stroke-width="3" stroke-linecap="round"/>
<line x1="1475.36" y1="495.65" x2="1475.36" y2="502.15" stroke="#000" stroke-width="3" stroke-linecap="round"/>
<line x1="1561.64" y1="495.65" x2="1561.64" y2="502.15" stroke="#000" stroke-width="3" stroke-linecap="round"/>
<line x1="1604.78" y1="495.65" x2="1604.78" y2="502.15" stroke="#000" stroke-width="3" stroke-linecap="round"/>
<line x1="1647.91" y1="495.65" x2="1647.91" y2="502.15" stroke="#000" stroke-width="3" stroke-linecap="round"/>
<line x1="1734.19" y1="495.65" x2="1734.19" y2="502.15" stroke="#000" stroke-width="3" stroke-linecap="round"/>
<line x1="1777.32" y1="495.65" x2="1777.32" y2="502.15" stroke="#000" stroke-width="3" stroke-linecap="round"/>
<line x1="1820.46" y1="495.65" x2="1820.46" y2="502.15" stroke="#000" stroke-width="3" stroke-linecap="round"/>
<text x="1427.3" y="628" font-size="39.3" text-anchor="middle">Cycle number</text>
<text x="870.5" y="266" font-size="39.3" text-anchor="middle" transform="rotate(-90 870.5 266)">Capacity (mAh g<tspan font-size="24" dy="-19.6">-1</tspan><tspan dy="19.6" font-size="39.3">)</tspan></text>
<text x="1980.5" y="266" font-size="39.3" text-anchor="middle" transform="rotate(-90 1980.5 266)">CE (%)</text>
<text x="1089.5" y="169.8" font-size="29.5">0.2C (700 mA  g<tspan font-size="19" dy="-9.3">-1</tspan><tspan dy="9.3" font-size="29.5">)</tspan></text>
<line x1="1554.2" y1="130.3" x2="1626" y2="130.3" stroke="#B59B3B" stroke-width="2.6" stroke-linecap="round"/>
<use href="#mT" x="1590.2" y="130.3"/>
<text x="1644" y="141.1" font-size="31.6">PP</text>
<line x1="1554.2" y1="170.55" x2="1626" y2="170.55" stroke="#008000" stroke-width="2.6" stroke-linecap="round"/>
<use href="#mD" x="1590.2" y="170.55"/>
<text x="1644" y="181.35" font-size="31.6">PPMA51</text>
<line x1="1554.2" y1="210.8" x2="1626" y2="210.8" stroke="#0000FF" stroke-width="2.6" stroke-linecap="round"/>
<use href="#mS" x="1590.2" y="210.8"/>
<text x="1644" y="221.6" font-size="31.6">PPMA21</text>
<line x1="1554.2" y1="251.05" x2="1626" y2="251.05" stroke="#000080" stroke-width="2.6" stroke-linecap="round"/>
<use href="#mC" x="1590.2" y="251.05"/>
<text x="1644" y="261.85" font-size="31.6">PPMA11</text>
<text x="883.9" y="43" font-size="60" font-weight="bold">b</text>
</g>
<defs>
<path id="cT50" d="M-9.2 -5.6H9.2L0 11.1Z" fill="#E6CB9C" stroke="#B59B3B" stroke-width="3" stroke-linejoin="round"/>
<path id="cT1" d="M-9.2 -5.6H9.2L0 11.1Z" fill="#FFC38C" stroke="#EACB97" stroke-width="3" stroke-linejoin="round"/>
<path id="cD50" d="M0 -10.8L10.8 0L0 10.8L-10.8 0Z" fill="#5BB04F" stroke="#008000" stroke-width="3" stroke-linejoin="round"/>
<path id="cD1" d="M0 -10.8L10.8 0L0 10.8L-10.8 0Z" fill="#66E547" stroke="#5BB04F" stroke-width="3" stroke-linejoin="round"/>
<rect id="cS50" x="-7.85" y="-7.85" width="15.7" height="15.7" fill="#0A84FF" stroke="#0000FF" stroke-width="3" stroke-linejoin="round"/>
<rect id="cS1" x="-7.85" y="-7.85" width="15.7" height="15.7" fill="#4BBCEA" stroke="#1590FF" stroke-width="3" stroke-linejoin="round"/>
<circle id="cC50" r="9.3" fill="#000080" stroke="#000" stroke-width="3"/>
<circle id="cC1" r="9.3" fill="#0000FF" stroke="#00008B" stroke-width="3"/>
</defs>
<g id="pc">
<defs>
<clipPath id="clc0"><rect x="121.5" y="770.4" width="458.6" height="275.1"/></clipPath>
<clipPath id="clc1"><rect x="121.5" y="1045.5" width="458.6" height="275.1"/></clipPath>
<clipPath id="clc2"><rect x="121.5" y="1320.6" width="458.6" height="275.1"/></clipPath>
<clipPath id="clc3"><rect x="121.5" y="1595.7" width="458.6" height="275.1"/></clipPath>
</defs>
<path d="M193.17 942.24C194.1 941.2 196.53 938.2 198.76 936.02C200.98 933.85 203.52 931.37 206.52 929.19C209.52 927.02 212.99 924.95 216.77 922.98C220.55 921.01 225.21 918.94 229.19 917.39C233.18 915.84 236.54 914.7 240.68 913.66C244.82 912.63 249.53 911.85 254.04 911.18C258.54 910.51 263.04 909.99 267.7 909.63C272.36 909.27 277.28 909.16 281.99 909.01C286.7 908.85 291.3 908.8 295.96 908.7C300.62 908.59 305.43 908.59 309.94 908.39C314.44 908.18 318.48 907.92 322.98 907.45C327.48 906.99 332.4 906.26 336.96 905.59C341.51 904.92 345.81 904.3 350.31 903.42C354.81 902.54 359.11 901.71 363.98 900.31C368.84 898.91 374.17 897.1 379.5 895.03C384.83 892.96 390.11 890.37 395.96 887.89C401.81 885.4 408.02 883.07 414.6 880.12C421.17 877.17 427.8 873.81 435.4 870.19C443.01 866.56 451.55 862.53 460.25 858.39C468.94 854.24 477.74 850.26 487.58 845.34C497.41 840.42 507.87 834.58 519.25 828.88C530.64 823.19 546.69 816.87 555.9 811.18C565.11 805.49 571.43 797.46 574.53 794.72" fill="none" stroke="#C3C3C3" stroke-width="2.6" clip-path="url(#clc0)"/>
<path d="M193.17 1039.13C193.48 1038.77 194.25 1037.58 195.03 1036.96C195.81 1036.34 196.79 1035.87 197.83 1035.4C198.86 1034.94 200.05 1034.52 201.24 1034.16C202.43 1033.8 203.67 1033.49 204.97 1033.23C206.26 1032.97 207.61 1032.82 209.01 1032.61C210.4 1032.4 211.85 1032.19 213.35 1031.99C214.86 1031.78 216.41 1031.57 218.01 1031.37C219.62 1031.16 221.27 1031 222.98 1030.75C224.69 1030.49 226.5 1030.18 228.26 1029.81C230.02 1029.45 231.73 1028.99 233.54 1028.57C235.35 1028.16 237.16 1027.8 239.13 1027.33C241.1 1026.86 243.27 1026.35 245.34 1025.78C247.41 1025.21 249.48 1024.59 251.55 1023.91C253.62 1023.24 255.07 1022.93 257.76 1021.74C260.46 1020.55 264.34 1018.53 267.7 1016.77C271.07 1015.01 274.33 1012.99 277.95 1011.18C281.57 1009.37 285.3 1007.82 289.44 1005.9C293.58 1003.99 298.24 1001.76 302.8 999.69C307.35 997.62 312.11 995.55 316.77 993.48C321.43 991.41 325.57 989.6 330.75 987.27C335.92 984.94 341.77 982.25 347.83 979.5C353.88 976.76 360.35 973.81 367.08 970.81C373.81 967.81 380.64 965.22 388.2 961.49C395.76 957.76 403.88 952.95 412.42 948.45C420.96 943.94 429.5 939.65 439.44 934.47C449.38 929.3 460.4 923.6 472.05 917.39C483.7 911.18 496.12 904.55 509.32 897.2C522.52 889.86 539.23 880.28 551.24 873.29C563.25 866.3 576.35 858.28 581.37 855.28" fill="none" stroke="#C3C3C3" stroke-width="2.6" clip-path="url(#clc0)"/>
<path d="M190.06 1216.34C190.99 1215.04 193.27 1211.42 195.65 1208.57C198.03 1205.72 201.14 1202.2 204.35 1199.25C207.56 1196.3 210.77 1193.46 214.91 1190.87C219.05 1188.28 224.12 1185.59 229.19 1183.73C234.27 1181.86 239.8 1180.72 245.34 1179.69C250.88 1178.65 256.99 1177.77 262.42 1177.52C267.86 1177.26 272.62 1177.77 277.95 1178.14C283.28 1178.5 289.23 1179.02 294.41 1179.69C299.59 1180.36 304.24 1181.5 309.01 1182.17C313.77 1182.85 318.69 1183.21 322.98 1183.73C327.28 1184.24 330.9 1184.87 334.78 1185.28C338.66 1185.69 342.55 1186.11 346.27 1186.21C350 1186.31 353.42 1186.21 357.14 1185.9C360.87 1185.59 364.65 1185.07 368.63 1184.35C372.62 1183.62 376.66 1182.74 381.06 1181.55C385.46 1180.36 390.32 1178.91 395.03 1177.2C399.74 1175.5 404.24 1173.48 409.32 1171.3C414.39 1169.13 419.77 1166.85 425.47 1164.16C431.16 1161.47 437.01 1158.47 443.48 1155.16C449.95 1151.84 456.94 1148.17 464.29 1144.29C471.64 1140.4 479.04 1136.31 487.58 1131.86C496.12 1127.41 505.59 1123.06 515.53 1117.58C525.47 1112.09 537.63 1104.33 547.2 1098.94C556.78 1093.56 568.69 1087.56 572.98 1085.28" fill="none" stroke="#C3C3C3" stroke-width="2.6" clip-path="url(#clc1)"/>
<path d="M190.59 1317.81C190.93 1317.38 191.88 1316.08 192.66 1315.22C193.44 1314.36 194.3 1313.49 195.25 1312.63C196.2 1311.76 197.24 1310.85 198.36 1310.04C199.49 1309.22 200.69 1308.45 201.99 1307.76C203.29 1307.06 204.67 1306.41 206.14 1305.89C207.61 1305.37 209.25 1304.99 210.8 1304.64C212.36 1304.3 213.91 1304.04 215.47 1303.82C217.02 1303.59 218.58 1303.44 220.13 1303.3C221.69 1303.16 223.25 1303.07 224.8 1302.99C226.36 1302.9 227.91 1302.85 229.47 1302.78C231.02 1302.71 232.58 1302.66 234.13 1302.57C235.69 1302.48 237.24 1302.4 238.8 1302.26C240.35 1302.12 241.91 1301.95 243.46 1301.74C245.02 1301.53 246.57 1301.31 248.13 1301.02C249.68 1300.72 251.15 1300.41 252.79 1299.98C254.44 1299.55 256.16 1298.99 257.98 1298.42C259.79 1297.85 261.61 1297.3 263.68 1296.56C265.75 1295.81 268 1294.97 270.42 1293.97C272.84 1292.96 275.34 1291.75 278.2 1290.54C281.05 1289.33 284.24 1288.09 287.53 1286.71C290.81 1285.33 294.35 1283.81 297.9 1282.25C301.44 1280.69 304.89 1279.05 308.78 1277.38C312.67 1275.7 316.82 1274.01 321.22 1272.19C325.63 1270.38 330.21 1268.48 335.22 1266.49C340.23 1264.5 345.72 1262.68 351.29 1260.27C356.86 1257.86 362.48 1254.87 368.63 1252.05C374.78 1249.23 381.31 1246.46 388.2 1243.35C395.08 1240.25 402.17 1236.88 409.94 1233.42C417.7 1229.95 425.98 1226.58 434.78 1222.55C443.58 1218.51 452.8 1214.01 462.73 1209.19C472.67 1204.38 482.92 1199.36 494.41 1193.66C505.9 1187.97 518.43 1181.45 531.68 1175.03C544.93 1168.61 565.63 1159.04 573.91 1155.16C582.19 1151.27 580.12 1152.31 581.37 1151.74" fill="none" stroke="#C3C3C3" stroke-width="2.6" clip-path="url(#clc1)"/>
<path d="M196.27 1495.65C196.69 1494.62 197.41 1491.41 198.76 1489.44C200.1 1487.47 201.76 1485.66 204.35 1483.85C206.94 1482.04 210.82 1479.97 214.29 1478.57C217.75 1477.17 221.64 1476.09 225.16 1475.47C228.67 1474.84 232.3 1474.84 235.4 1474.84C238.51 1474.84 240.84 1475.1 243.79 1475.47C246.74 1475.83 250 1476.5 253.11 1477.02C256.21 1477.54 259.58 1478.16 262.42 1478.57C265.27 1478.99 267.6 1479.24 270.19 1479.5C272.77 1479.76 275.47 1480.02 277.95 1480.12C280.43 1480.23 282.76 1480.23 285.09 1480.12C287.42 1480.02 289.34 1480.02 291.93 1479.5C294.51 1478.99 297.77 1477.95 300.62 1477.02C303.47 1476.09 306.31 1475.05 309.01 1473.91C311.7 1472.77 313.82 1471.74 316.77 1470.19C319.72 1468.63 322.93 1466.46 326.71 1464.6C330.49 1462.73 335.14 1461.08 339.44 1459.01C343.74 1456.94 347.88 1454.61 352.48 1452.17C357.09 1449.74 361.75 1447.41 367.08 1444.41C372.41 1441.41 378.36 1437.78 384.47 1434.16C390.58 1430.54 396.64 1426.92 403.73 1422.67C410.82 1418.43 418.63 1413.87 427.02 1408.7C435.4 1403.52 444.2 1397.83 454.04 1391.61C463.87 1385.4 474.48 1378.67 486.02 1371.43C497.57 1364.18 507.4 1357.97 523.29 1348.14C539.18 1338.3 571.69 1318.37 581.37 1312.42" fill="none" stroke="#C3C3C3" stroke-width="2.6" clip-path="url(#clc2)"/>
<path d="M197.33 1592.29C197.84 1591.78 199.23 1590.13 200.44 1589.18C201.65 1588.23 203.03 1587.28 204.58 1586.59C206.14 1585.9 208.04 1585.38 209.77 1585.04C211.49 1584.69 213.22 1584.6 214.95 1584.52C216.68 1584.43 218.41 1584.52 220.13 1584.52C221.86 1584.52 223.59 1584.52 225.32 1584.52C227.05 1584.52 228.77 1584.57 230.5 1584.52C232.23 1584.47 233.79 1584.55 235.69 1584.21C237.59 1583.86 239.83 1583.17 241.91 1582.44C243.98 1581.72 246.23 1580.72 248.13 1579.85C250.03 1578.99 251.58 1578.12 253.31 1577.26C255.04 1576.4 256.68 1575.62 258.5 1574.67C260.31 1573.72 262.04 1572.68 264.2 1571.56C266.36 1570.43 268.86 1569.22 271.46 1567.93C274.05 1566.63 276.73 1565.25 279.75 1563.78C282.78 1562.31 286.14 1560.76 289.6 1559.12C293.06 1557.47 296.6 1555.83 300.49 1553.93C304.38 1552.03 308.52 1549.87 312.93 1547.71C317.34 1545.55 321.91 1543.48 326.93 1540.97C331.94 1538.47 337.29 1535.53 343 1532.68C348.7 1529.83 354.64 1527.29 361.14 1523.86C367.64 1520.44 374.48 1516.14 381.99 1512.11C389.5 1508.08 397.57 1504.24 406.21 1499.69C414.86 1495.13 424.02 1490.22 433.85 1484.78C443.69 1479.35 453.78 1473.55 465.22 1467.08C476.66 1460.61 488.92 1453.62 502.48 1445.96C516.05 1438.3 533.44 1427.95 546.58 1421.12C559.73 1414.29 575.57 1407.66 581.37 1404.97" fill="none" stroke="#C3C3C3" stroke-width="2.6" clip-path="url(#clc2)"/>
<path d="M190.07 1771.91C190.59 1770.96 191.8 1768.11 193.18 1766.21C194.56 1764.3 196.46 1762.14 198.36 1760.5C200.26 1758.86 202.16 1757.43 204.58 1756.36C207 1755.28 210.11 1754.42 212.88 1754.07C215.64 1753.73 218.49 1753.99 221.17 1754.28C223.85 1754.58 226.53 1755.23 228.95 1755.84C231.37 1756.44 233.53 1757.27 235.69 1757.91C237.85 1758.55 240.01 1759.16 241.91 1759.67C243.81 1760.19 245.45 1760.62 247.09 1761.02C248.73 1761.42 250.29 1761.8 251.76 1762.06C253.23 1762.32 254.61 1762.52 255.9 1762.58C257.2 1762.63 258.24 1762.54 259.53 1762.37C260.83 1762.2 262.3 1761.94 263.68 1761.54C265.06 1761.14 266.27 1760.59 267.83 1759.98C269.38 1759.38 271.11 1758.72 273.01 1757.91C274.91 1757.1 276.99 1756.15 279.23 1755.11C281.48 1754.07 283.98 1752.92 286.49 1751.69C289 1750.46 291.5 1749.13 294.27 1747.75C297.03 1746.37 299.97 1744.93 303.08 1743.4C306.19 1741.86 309.47 1740.25 312.93 1738.52C316.39 1736.79 319.93 1735.07 323.82 1733.03C327.7 1730.99 331.59 1729 336.26 1726.29C340.92 1723.58 346.26 1720.06 351.81 1716.75C357.36 1713.43 363.14 1710.3 369.57 1706.4C375.99 1702.5 382.87 1698.12 390.37 1693.35C397.88 1688.59 405.9 1683.52 414.6 1677.83C423.29 1672.13 432.3 1666.08 442.55 1659.19C452.8 1652.31 463.92 1644.91 476.09 1636.52C488.25 1628.14 502.23 1617.78 515.53 1608.88C528.83 1599.98 549.17 1587.4 555.9 1583.11" fill="none" stroke="#C3C3C3" stroke-width="2.6" clip-path="url(#clc3)"/>
<path d="M192.37 1867.71C192.47 1867.56 192.72 1867.19 192.97 1866.83C193.21 1866.48 193.5 1866.05 193.83 1865.58C194.16 1865.11 194.52 1864.57 194.92 1863.99C195.32 1863.41 195.65 1862.64 196.22 1862.09C196.8 1861.54 197.55 1861.12 198.36 1860.69C199.17 1860.27 200.14 1859.93 201.1 1859.53C202.06 1859.13 203.04 1858.57 204.14 1858.28C205.24 1857.99 206.46 1857.95 207.7 1857.79C208.93 1857.62 210.21 1857.4 211.54 1857.29C212.88 1857.18 214.27 1857.21 215.7 1857.13C217.13 1857.05 218.61 1856.99 220.12 1856.81C221.63 1856.63 223.19 1856.38 224.76 1856.04C226.33 1855.7 227.93 1855.26 229.55 1854.77C231.17 1854.28 232.83 1853.74 234.49 1853.1C236.15 1852.47 237.82 1851.73 239.53 1850.97C241.23 1850.22 242.96 1849.43 244.71 1848.58C246.46 1847.73 248.21 1846.8 250.02 1845.89C251.83 1844.98 253.68 1844.07 255.56 1843.12C257.43 1842.17 259.33 1841.18 261.27 1840.18C263.2 1839.18 265.16 1838.14 267.17 1837.11C269.17 1836.08 271.12 1834.58 273.3 1834C275.48 1833.42 277.21 1834.53 280.27 1833.6C283.33 1832.67 287.7 1830.23 291.67 1828.41C295.65 1826.6 299.71 1824.78 304.12 1822.71C308.52 1820.64 313.1 1818.48 318.11 1815.97C323.12 1813.47 328.57 1810.62 334.18 1807.68C339.8 1804.74 345.5 1802.13 351.81 1798.35C358.12 1794.56 364.79 1789.17 372.05 1784.97C379.31 1780.77 386.96 1777.67 395.34 1773.17C403.73 1768.66 412.58 1763.49 422.36 1757.95C432.14 1752.41 442.65 1746.56 454.04 1739.94C465.42 1733.31 477.43 1725.81 490.68 1718.2C503.93 1710.59 518.43 1701.89 533.54 1694.29C548.65 1686.68 573.4 1676.17 581.37 1672.55" fill="none" stroke="#C3C3C3" stroke-width="2.6" clip-path="url(#clc3)"/>
<rect x="121.5" y="770.4" width="458.6" height="275.1" fill="none" stroke="#000" stroke-width="3"/>
<line x1="110.3" y1="1045.5" x2="121.5" y2="1045.5" stroke="#000" stroke-width="3" stroke-linecap="round"/>
<text x="96.2" y="1055.5" font-size="29.5" text-anchor="end">0</text>
<line x1="110.3" y1="892.67" x2="121.5" y2="892.67" stroke="#000" stroke-width="3" stroke-linecap="round"/>
<text x="96.2" y="902.67" font-size="29.5" text-anchor="end">50</text>
<line x1="116.6" y1="969.08" x2="121.5" y2="969.08" stroke="#000" stroke-width="3" stroke-linecap="round"/>
<line x1="116.6" y1="816.25" x2="121.5" y2="816.25" stroke="#000" stroke-width="3" stroke-linecap="round"/>
<line x1="136.8" y1="1045.5" x2="136.8" y2="1057" stroke="#000" stroke-width="3" stroke-linecap="round"/>
<line x1="167.37" y1="1045.5" x2="167.37" y2="1050.3" stroke="#000" stroke-width="3" stroke-linecap="round"/>
<line x1="197.95" y1="1045.5" x2="197.95" y2="1050.3" stroke="#000" stroke-width="3" stroke-linecap="round"/>
<line x1="228.52" y1="1045.5" x2="228.52" y2="1050.3" stroke="#000" stroke-width="3" stroke-linecap="round"/>
<line x1="259.09" y1="1045.5" x2="259.09" y2="1050.3" stroke="#000" stroke-width="3" stroke-linecap="round"/>
<line x1="289.67" y1="1045.5" x2="289.67" y2="1057" stroke="#000" stroke-width="3" stroke-linecap="round"/>
<line x1="320.24" y1="1045.5" x2="320.24" y2="1050.3" stroke="#000" stroke-width="3" stroke-linecap="round"/>
<line x1="350.81" y1="1045.5" x2="350.81" y2="1050.3" stroke="#000" stroke-width="3" stroke-linecap="round"/>
<line x1="381.38" y1="1045.5" x2="381.38" y2="1050.3" stroke="#000" stroke-width="3" stroke-linecap="round"/>
<line x1="411.96" y1="1045.5" x2="411.96" y2="1050.3" stroke="#000" stroke-width="3" stroke-linecap="round"/>
<line x1="442.53" y1="1045.5" x2="442.53" y2="1057" stroke="#000" stroke-width="3" stroke-linecap="round"/>
<line x1="473.1" y1="1045.5" x2="473.1" y2="1050.3" stroke="#000" stroke-width="3" stroke-linecap="round"/>
<line x1="503.68" y1="1045.5" x2="503.68" y2="1050.3" stroke="#000" stroke-width="3" stroke-linecap="round"/>
<line x1="534.25" y1="1045.5" x2="534.25" y2="1050.3" stroke="#000" stroke-width="3" stroke-linecap="round"/>
<line x1="564.82" y1="1045.5" x2="564.82" y2="1050.3" stroke="#000" stroke-width="3" stroke-linecap="round"/>
<text x="157.8" y="828.9" font-size="29">PP</text>
<text x="142.2" y="911.2" font-size="29.5">50<tspan font-size="18.5" dy="-10.1">th</tspan></text>
<text x="152.2" y="1016.8" font-size="29.5">1<tspan font-size="18.5" dy="-9.7">st</tspan></text>
<rect x="121.5" y="1045.5" width="458.6" height="275.1" fill="none" stroke="#000" stroke-width="3"/>
<line x1="110.3" y1="1320.6" x2="121.5" y2="1320.6" stroke="#000" stroke-width="3" stroke-linecap="round"/>
<text x="96.2" y="1330.6" font-size="29.5" text-anchor="end">0</text>
<line x1="110.3" y1="1167.77" x2="121.5" y2="1167.77" stroke="#000" stroke-width="3" stroke-linecap="round"/>
<text x="96.2" y="1177.77" font-size="29.5" text-anchor="end">50</text>
<line x1="116.6" y1="1244.18" x2="121.5" y2="1244.18" stroke="#000" stroke-width="3" stroke-linecap="round"/>
<line x1="116.6" y1="1091.35" x2="121.5" y2="1091.35" stroke="#000" stroke-width="3" stroke-linecap="round"/>
<line x1="136.8" y1="1320.6" x2="136.8" y2="1332.1" stroke="#000" stroke-width="3" stroke-linecap="round"/>
<line x1="167.37" y1="1320.6" x2="167.37" y2="1325.4" stroke="#000" stroke-width="3" stroke-linecap="round"/>
<line x1="197.95" y1="1320.6" x2="197.95" y2="1325.4" stroke="#000" stroke-width="3" stroke-linecap="round"/>
<line x1="228.52" y1="1320.6" x2="228.52" y2="1325.4" stroke="#000" stroke-width="3" stroke-linecap="round"/>
<line x1="259.09" y1="1320.6" x2="259.09" y2="1325.4" stroke="#000" stroke-width="3" stroke-linecap="round"/>
<line x1="289.67" y1="1320.6" x2="289.67" y2="1332.1" stroke="#000" stroke-width="3" stroke-linecap="round"/>
<line x1="320.24" y1="1320.6" x2="320.24" y2="1325.4" stroke="#000" stroke-width="3" stroke-linecap="round"/>
<line x1="350.81" y1="1320.6" x2="350.81" y2="1325.4" stroke="#000" stroke-width="3" stroke-linecap="round"/>
<line x1="381.38" y1="1320.6" x2="381.38" y2="1325.4" stroke="#000" stroke-width="3" stroke-linecap="round"/>
<line x1="411.96" y1="1320.6" x2="411.96" y2="1325.4" stroke="#000" stroke-width="3" stroke-linecap="round"/>
<line x1="442.53" y1="1320.6" x2="442.53" y2="1332.1" stroke="#000" stroke-width="3" stroke-linecap="round"/>
<line x1="473.1" y1="1320.6" x2="473.1" y2="1325.4" stroke="#000" stroke-width="3" stroke-linecap="round"/>
<line x1="503.68" y1="1320.6" x2="503.68" y2="1325.4" stroke="#000" stroke-width="3" stroke-linecap="round"/>
<line x1="534.25" y1="1320.6" x2="534.25" y2="1325.4" stroke="#000" stroke-width="3" stroke-linecap="round"/>
<line x1="564.82" y1="1320.6" x2="564.82" y2="1325.4" stroke="#000" stroke-width="3" stroke-linecap="round"/>
<text x="157.8" y="1098.94" font-size="29">PPMA51</text>
<text x="142.2" y="1179.07" font-size="29.5">50<tspan font-size="18.5" dy="-10.1">th</tspan></text>
<text x="152.2" y="1291.8" font-size="29.5">1<tspan font-size="18.5" dy="-9.7">st</tspan></text>
<rect x="121.5" y="1320.6" width="458.6" height="275.1" fill="none" stroke="#000" stroke-width="3"/>
<line x1="110.3" y1="1595.7" x2="121.5" y2="1595.7" stroke="#000" stroke-width="3" stroke-linecap="round"/>
<text x="96.2" y="1605.7" font-size="29.5" text-anchor="end">0</text>
<line x1="110.3" y1="1442.87" x2="121.5" y2="1442.87" stroke="#000" stroke-width="3" stroke-linecap="round"/>
<text x="96.2" y="1452.87" font-size="29.5" text-anchor="end">50</text>
<line x1="116.6" y1="1519.28" x2="121.5" y2="1519.28" stroke="#000" stroke-width="3" stroke-linecap="round"/>
<line x1="116.6" y1="1366.45" x2="121.5" y2="1366.45" stroke="#000" stroke-width="3" stroke-linecap="round"/>
<line x1="136.8" y1="1595.7" x2="136.8" y2="1607.2" stroke="#000" stroke-width="3" stroke-linecap="round"/>
<line x1="167.37" y1="1595.7" x2="167.37" y2="1600.5" stroke="#000" stroke-width="3" stroke-linecap="round"/>
<line x1="197.95" y1="1595.7" x2="197.95" y2="1600.5" stroke="#000" stroke-width="3" stroke-linecap="round"/>
<line x1="228.52" y1="1595.7" x2="228.52" y2="1600.5" stroke="#000" stroke-width="3" stroke-linecap="round"/>
<line x1="259.09" y1="1595.7" x2="259.09" y2="1600.5" stroke="#000" stroke-width="3" stroke-linecap="round"/>
<line x1="289.67" y1="1595.7" x2="289.67" y2="1607.2" stroke="#000" stroke-width="3" stroke-linecap="round"/>
<line x1="320.24" y1="1595.7" x2="320.24" y2="1600.5" stroke="#000" stroke-width="3" stroke-linecap="round"/>
<line x1="350.81" y1="1595.7" x2="350.81" y2="1600.5" stroke="#000" stroke-width="3" stroke-linecap="round"/>
<line x1="381.38" y1="1595.7" x2="381.38" y2="1600.5" stroke="#000" stroke-width="3" stroke-linecap="round"/>
<line x1="411.96" y1="1595.7" x2="411.96" y2="1600.5" stroke="#000" stroke-width="3" stroke-linecap="round"/>
<line x1="442.53" y1="1595.7" x2="442.53" y2="1607.2" stroke="#000" stroke-width="3" stroke-linecap="round"/>
<line x1="473.1" y1="1595.7" x2="473.1" y2="1600.5" stroke="#000" stroke-width="3" stroke-linecap="round"/>
<line x1="503.68" y1="1595.7" x2="503.68" y2="1600.5" stroke="#000" stroke-width="3" stroke-linecap="round"/>
<line x1="534.25" y1="1595.7" x2="534.25" y2="1600.5" stroke="#000" stroke-width="3" stroke-linecap="round"/>
<line x1="564.82" y1="1595.7" x2="564.82" y2="1600.5" stroke="#000" stroke-width="3" stroke-linecap="round"/>
<text x="157.8" y="1372.05" font-size="29">PPMA21</text>
<text x="142.2" y="1466.77" font-size="29.5">50<tspan font-size="18.5" dy="-10.1">th</tspan></text>
<text x="152.2" y="1565.53" font-size="29.5">1<tspan font-size="18.5" dy="-9.7">st</tspan></text>
<rect x="121.5" y="1595.7" width="458.6" height="275.1" fill="none" stroke="#000" stroke-width="3"/>
<line x1="110.3" y1="1870.8" x2="121.5" y2="1870.8" stroke="#000" stroke-width="3" stroke-linecap="round"/>
<text x="96.2" y="1880.8" font-size="29.5" text-anchor="end">0</text>
<line x1="110.3" y1="1717.97" x2="121.5" y2="1717.97" stroke="#000" stroke-width="3" stroke-linecap="round"/>
<text x="96.2" y="1727.97" font-size="29.5" text-anchor="end">50</text>
<line x1="116.6" y1="1794.38" x2="121.5" y2="1794.38" stroke="#000" stroke-width="3" stroke-linecap="round"/>
<line x1="116.6" y1="1641.55" x2="121.5" y2="1641.55" stroke="#000" stroke-width="3" stroke-linecap="round"/>
<line x1="136.8" y1="1870.8" x2="136.8" y2="1882.3" stroke="#000" stroke-width="3" stroke-linecap="round"/>
<line x1="167.37" y1="1870.8" x2="167.37" y2="1875.6" stroke="#000" stroke-width="3" stroke-linecap="round"/>
<line x1="197.95" y1="1870.8" x2="197.95" y2="1875.6" stroke="#000" stroke-width="3" stroke-linecap="round"/>
<line x1="228.52" y1="1870.8" x2="228.52" y2="1875.6" stroke="#000" stroke-width="3" stroke-linecap="round"/>
<line x1="259.09" y1="1870.8" x2="259.09" y2="1875.6" stroke="#000" stroke-width="3" stroke-linecap="round"/>
<line x1="289.67" y1="1870.8" x2="289.67" y2="1882.3" stroke="#000" stroke-width="3" stroke-linecap="round"/>
<line x1="320.24" y1="1870.8" x2="320.24" y2="1875.6" stroke="#000" stroke-width="3" stroke-linecap="round"/>
<line x1="350.81" y1="1870.8" x2="350.81" y2="1875.6" stroke="#000" stroke-width="3" stroke-linecap="round"/>
<line x1="381.38" y1="1870.8" x2="381.38" y2="1875.6" stroke="#000" stroke-width="3" stroke-linecap="round"/>
<line x1="411.96" y1="1870.8" x2="411.96" y2="1875.6" stroke="#000" stroke-width="3" stroke-linecap="round"/>
<line x1="442.53" y1="1870.8" x2="442.53" y2="1882.3" stroke="#000" stroke-width="3" stroke-linecap="round"/>
<line x1="473.1" y1="1870.8" x2="473.1" y2="1875.6" stroke="#000" stroke-width="3" stroke-linecap="round"/>
<line x1="503.68" y1="1870.8" x2="503.68" y2="1875.6" stroke="#000" stroke-width="3" stroke-linecap="round"/>
<line x1="534.25" y1="1870.8" x2="534.25" y2="1875.6" stroke="#000" stroke-width="3" stroke-linecap="round"/>
<line x1="564.82" y1="1870.8" x2="564.82" y2="1875.6" stroke="#000" stroke-width="3" stroke-linecap="round"/>
<text x="157.8" y="1649.88" font-size="29">PPMA11</text>
<text x="142.2" y="1735.28" font-size="29.5">50<tspan font-size="18.5" dy="-10.1">th</tspan></text>
<text x="152.2" y="1835.28" font-size="29.5">1<tspan font-size="18.5" dy="-9.7">st</tspan></text>
<use href="#cT1" x="194.1" y="1041.61"/>
<use href="#cT1" x="193.17" y="1039.13"/>
<use href="#cT1" x="195.03" y="1036.96"/>
<use href="#cT1" x="197.83" y="1035.4"/>
<use href="#cT1" x="201.24" y="1034.16"/>
<use href="#cT1" x="204.97" y="1033.23"/>
<use href="#cT1" x="209.01" y="1032.61"/>
<use href="#cT1" x="213.35" y="1031.99"/>
<use href="#cT1" x="218.01" y="1031.37"/>
<use href="#cT1" x="222.98" y="1030.75"/>
<use href="#cT1" x="228.26" y="1029.81"/>
<use href="#cT1" x="233.54" y="1028.57"/>
<use href="#cT1" x="239.13" y="1027.33"/>
<use href="#cT1" x="245.34" y="1025.78"/>
<use href="#cT1" x="251.55" y="1023.91"/>
<use href="#cT1" x="257.76" y="1021.74"/>
<use href="#cT1" x="267.7" y="1016.77"/>
<use href="#cT1" x="277.95" y="1011.18"/>
<use href="#cT1" x="289.44" y="1005.9"/>
<use href="#cT1" x="302.8" y="999.69"/>
<use href="#cT1" x="316.77" y="993.48"/>
<use href="#cT1" x="330.75" y="987.27"/>
<use href="#cT1" x="347.83" y="979.5"/>
<use href="#cT1" x="367.08" y="970.81"/>
<use href="#cT1" x="388.2" y="961.49"/>
<use href="#cT1" x="412.42" y="948.45"/>
<use href="#cT1" x="439.44" y="934.47"/>
<use href="#cT1" x="472.05" y="917.39"/>
<use href="#cT1" x="509.32" y="897.2"/>
<use href="#cT1" x="551.24" y="873.29"/>
<use href="#cT50" x="190.06" y="950.62"/>
<use href="#cT50" x="193.17" y="942.24"/>
<use href="#cT50" x="198.76" y="936.02"/>
<use href="#cT50" x="206.52" y="929.19"/>
<use href="#cT50" x="216.77" y="922.98"/>
<use href="#cT50" x="229.19" y="917.39"/>
<use href="#cT50" x="240.68" y="913.66"/>
<use href="#cT50" x="254.04" y="911.18"/>
<use href="#cT50" x="267.7" y="909.63"/>
<use href="#cT50" x="281.99" y="909.01"/>
<use href="#cT50" x="295.96" y="908.7"/>
<use href="#cT50" x="309.94" y="908.39"/>
<use href="#cT50" x="322.98" y="907.45"/>
<use href="#cT50" x="336.96" y="905.59"/>
<use href="#cT50" x="350.31" y="903.42"/>
<use href="#cT50" x="363.98" y="900.31"/>
<use href="#cT50" x="379.5" y="895.03"/>
<use href="#cT50" x="395.96" y="887.89"/>
<use href="#cT50" x="414.6" y="880.12"/>
<use href="#cT50" x="435.4" y="870.19"/>
<use href="#cT50" x="460.25" y="858.39"/>
<use href="#cT50" x="487.58" y="845.34"/>
<use href="#cT50" x="519.25" y="828.88"/>
<use href="#cT50" x="555.9" y="811.18"/>
<use href="#cD1" x="189.03" y="1320.4"/>
<use href="#cD1" x="190.59" y="1317.81"/>
<use href="#cD1" x="192.66" y="1315.22"/>
<use href="#cD1" x="195.25" y="1312.63"/>
<use href="#cD1" x="198.36" y="1310.04"/>
<use href="#cD1" x="201.99" y="1307.76"/>
<use href="#cD1" x="206.14" y="1305.89"/>
<use href="#cD1" x="210.8" y="1304.64"/>
<use href="#cD1" x="215.47" y="1303.82"/>
<use href="#cD1" x="220.13" y="1303.3"/>
<use href="#cD1" x="224.8" y="1302.99"/>
<use href="#cD1" x="229.47" y="1302.78"/>
<use href="#cD1" x="234.13" y="1302.57"/>
<use href="#cD1" x="238.8" y="1302.26"/>
<use href="#cD1" x="243.46" y="1301.74"/>
<use href="#cD1" x="248.13" y="1301.02"/>
<use href="#cD1" x="252.79" y="1299.98"/>
<use href="#cD1" x="257.98" y="1298.42"/>
<use href="#cD1" x="263.68" y="1296.56"/>
<use href="#cD1" x="270.42" y="1293.97"/>
<use href="#cD1" x="278.2" y="1290.54"/>
<use href="#cD1" x="287.53" y="1286.71"/>
<use href="#cD1" x="297.9" y="1282.25"/>
<use href="#cD1" x="308.78" y="1277.38"/>
<use href="#cD1" x="321.22" y="1272.19"/>
<use href="#cD1" x="335.22" y="1266.49"/>
<use href="#cD1" x="351.29" y="1260.27"/>
<use href="#cD1" x="368.63" y="1252.05"/>
<use href="#cD1" x="388.2" y="1243.35"/>
<use href="#cD1" x="409.94" y="1233.42"/>
<use href="#cD1" x="434.78" y="1222.55"/>
<use href="#cD1" x="462.73" y="1209.19"/>
<use href="#cD1" x="494.41" y="1193.66"/>
<use href="#cD1" x="531.68" y="1175.03"/>
<use href="#cD1" x="573.91" y="1155.16"/>
<use href="#cD50" x="187.89" y="1224.1"/>
<use href="#cD50" x="190.06" y="1216.34"/>
<use href="#cD50" x="195.65" y="1208.57"/>
<use href="#cD50" x="204.35" y="1199.25"/>
<use href="#cD50" x="214.91" y="1190.87"/>
<use href="#cD50" x="229.19" y="1183.73"/>
<use href="#cD50" x="245.34" y="1179.69"/>
<use href="#cD50" x="262.42" y="1177.52"/>
<use href="#cD50" x="277.95" y="1178.14"/>
<use href="#cD50" x="294.41" y="1179.69"/>
<use href="#cD50" x="309.01" y="1182.17"/>
<use href="#cD50" x="322.98" y="1183.73"/>
<use href="#cD50" x="334.78" y="1185.28"/>
<use href="#cD50" x="346.27" y="1186.21"/>
<use href="#cD50" x="357.14" y="1185.9"/>
<use href="#cD50" x="368.63" y="1184.35"/>
<use href="#cD50" x="381.06" y="1181.55"/>
<use href="#cD50" x="395.03" y="1177.2"/>
<use href="#cD50" x="409.32" y="1171.3"/>
<use href="#cD50" x="425.47" y="1164.16"/>
<use href="#cD50" x="443.48" y="1155.16"/>
<use href="#cD50" x="464.29" y="1144.29"/>
<use href="#cD50" x="487.58" y="1131.86"/>
<use href="#cD50" x="515.53" y="1117.58"/>
<use href="#cD50" x="547.2" y="1098.94"/>
<use href="#cS1" x="194.73" y="1595.4"/>
<use href="#cS1" x="197.33" y="1592.29"/>
<use href="#cS1" x="200.44" y="1589.18"/>
<use href="#cS1" x="204.58" y="1586.59"/>
<use href="#cS1" x="209.77" y="1585.04"/>
<use href="#cS1" x="214.95" y="1584.52"/>
<use href="#cS1" x="220.13" y="1584.52"/>
<use href="#cS1" x="225.32" y="1584.52"/>
<use href="#cS1" x="230.5" y="1584.52"/>
<use href="#cS1" x="235.69" y="1584.21"/>
<use href="#cS1" x="241.91" y="1582.44"/>
<use href="#cS1" x="248.13" y="1579.85"/>
<use href="#cS1" x="253.31" y="1577.26"/>
<use href="#cS1" x="258.5" y="1574.67"/>
<use href="#cS1" x="264.2" y="1571.56"/>
<use href="#cS1" x="271.46" y="1567.93"/>
<use href="#cS1" x="279.75" y="1563.78"/>
<use href="#cS1" x="289.6" y="1559.12"/>
<use href="#cS1" x="300.49" y="1553.93"/>
<use href="#cS1" x="312.93" y="1547.71"/>
<use href="#cS1" x="326.93" y="1540.97"/>
<use href="#cS1" x="343" y="1532.68"/>
<use href="#cS1" x="361.14" y="1523.86"/>
<use href="#cS1" x="381.99" y="1512.11"/>
<use href="#cS1" x="406.21" y="1499.69"/>
<use href="#cS1" x="433.85" y="1484.78"/>
<use href="#cS1" x="465.22" y="1467.08"/>
<use href="#cS1" x="502.48" y="1445.96"/>
<use href="#cS1" x="546.58" y="1421.12"/>
<use href="#cS50" x="195.65" y="1503.42"/>
<use href="#cS50" x="196.27" y="1495.65"/>
<use href="#cS50" x="198.76" y="1489.44"/>
<use href="#cS50" x="204.35" y="1483.85"/>
<use href="#cS50" x="214.29" y="1478.57"/>
<use href="#cS50" x="225.16" y="1475.47"/>
<use href="#cS50" x="235.4" y="1474.84"/>
<use href="#cS50" x="243.79" y="1475.47"/>
<use href="#cS50" x="253.11" y="1477.02"/>
<use href="#cS50" x="262.42" y="1478.57"/>
<use href="#cS50" x="270.19" y="1479.5"/>
<use href="#cS50" x="277.95" y="1480.12"/>
<use href="#cS50" x="285.09" y="1480.12"/>
<use href="#cS50" x="291.93" y="1479.5"/>
<use href="#cS50" x="300.62" y="1477.02"/>
<use href="#cS50" x="309.01" y="1473.91"/>
<use href="#cS50" x="316.77" y="1470.19"/>
<use href="#cS50" x="326.71" y="1464.6"/>
<use href="#cS50" x="339.44" y="1459.01"/>
<use href="#cS50" x="352.48" y="1452.17"/>
<use href="#cS50" x="367.08" y="1444.41"/>
<use href="#cS50" x="384.47" y="1434.16"/>
<use href="#cS50" x="403.73" y="1422.67"/>
<use href="#cS50" x="427.02" y="1408.7"/>
<use href="#cS50" x="454.04" y="1391.61"/>
<use href="#cS50" x="486.02" y="1371.43"/>
<use href="#cS50" x="523.29" y="1348.14"/>
<use href="#cC1" x="192.1" y="1868.1"/>
<use href="#cC1" x="192.37" y="1867.71"/>
<use href="#cC1" x="192.97" y="1866.83"/>
<use href="#cC1" x="193.83" y="1865.58"/>
<use href="#cC1" x="194.92" y="1863.99"/>
<use href="#cC1" x="196.22" y="1862.09"/>
<use href="#cC1" x="198.36" y="1860.69"/>
<use href="#cC1" x="201.1" y="1859.53"/>
<use href="#cC1" x="204.14" y="1858.28"/>
<use href="#cC1" x="207.7" y="1857.79"/>
<use href="#cC1" x="211.54" y="1857.29"/>
<use href="#cC1" x="215.7" y="1857.13"/>
<use href="#cC1" x="220.12" y="1856.81"/>
<use href="#cC1" x="224.76" y="1856.04"/>
<use href="#cC1" x="229.55" y="1854.77"/>
<use href="#cC1" x="234.49" y="1853.1"/>
<use href="#cC1" x="239.53" y="1850.97"/>
<use href="#cC1" x="244.71" y="1848.58"/>
<use href="#cC1" x="250.02" y="1845.89"/>
<use href="#cC1" x="255.56" y="1843.12"/>
<use href="#cC1" x="261.27" y="1840.18"/>
<use href="#cC1" x="267.17" y="1837.11"/>
<use href="#cC1" x="273.3" y="1834"/>
<use href="#cC1" x="280.27" y="1833.6"/>
<use href="#cC1" x="291.67" y="1828.41"/>
<use href="#cC1" x="304.12" y="1822.71"/>
<use href="#cC1" x="318.11" y="1815.97"/>
<use href="#cC1" x="334.18" y="1807.68"/>
<use href="#cC1" x="351.81" y="1798.35"/>
<use href="#cC1" x="372.05" y="1784.97"/>
<use href="#cC1" x="395.34" y="1773.17"/>
<use href="#cC1" x="422.36" y="1757.95"/>
<use href="#cC1" x="454.04" y="1739.94"/>
<use href="#cC1" x="490.68" y="1718.2"/>
<use href="#cC1" x="533.54" y="1694.29"/>
<use href="#cC50" x="188.51" y="1776.57"/>
<use href="#cC50" x="190.07" y="1771.91"/>
<use href="#cC50" x="193.18" y="1766.21"/>
<use href="#cC50" x="198.36" y="1760.5"/>
<use href="#cC50" x="204.58" y="1756.36"/>
<use href="#cC50" x="212.88" y="1754.07"/>
<use href="#cC50" x="221.17" y="1754.28"/>
<use href="#cC50" x="228.95" y="1755.84"/>
<use href="#cC50" x="235.69" y="1757.91"/>
<use href="#cC50" x="241.91" y="1759.67"/>
<use href="#cC50" x="247.09" y="1761.02"/>
<use href="#cC50" x="251.76" y="1762.06"/>
<use href="#cC50" x="255.9" y="1762.58"/>
<use href="#cC50" x="259.53" y="1762.37"/>
<use href="#cC50" x="263.68" y="1761.54"/>
<use href="#cC50" x="267.83" y="1759.98"/>
<use href="#cC50" x="273.01" y="1757.91"/>
<use href="#cC50" x="279.23" y="1755.11"/>
<use href="#cC50" x="286.49" y="1751.69"/>
<use href="#cC50" x="294.27" y="1747.75"/>
<use href="#cC50" x="303.08" y="1743.4"/>
<use href="#cC50" x="312.93" y="1738.52"/>
<use href="#cC50" x="323.82" y="1733.03"/>
<use href="#cC50" x="336.26" y="1726.29"/>
<use href="#cC50" x="351.81" y="1716.75"/>
<use href="#cC50" x="369.57" y="1706.4"/>
<use href="#cC50" x="390.37" y="1693.35"/>
<use href="#cC50" x="414.6" y="1677.83"/>
<use href="#cC50" x="442.55" y="1659.19"/>
<use href="#cC50" x="476.09" y="1636.52"/>
<use href="#cC50" x="515.53" y="1608.88"/>
<text x="136.8" y="1921.5" font-size="29.5" text-anchor="middle">0</text>
<text x="289.67" y="1921.5" font-size="29.5" text-anchor="middle">50</text>
<text x="442.53" y="1921.5" font-size="29.5" text-anchor="middle">100</text>
<text x="346" y="1977" font-size="39.3" text-anchor="middle">Z' (<tspan font-family='"Liberation Serif", "DejaVu Serif", serif'>Ω</tspan>)</text>
<text x="29.2" y="1297" font-size="39.3" text-anchor="middle" transform="rotate(-90 29.2 1297)">-Z&quot; (<tspan font-family='"Liberation Serif", "DejaVu Serif", serif'>Ω</tspan>)</text>
<text x="135.7" y="759" font-size="26.2">Symbols (raw data),</text>
<text x="581.6" y="759" font-size="26.2" text-anchor="end">Gray lines (fitted)</text>
<text x="10" y="766.2" font-size="60" font-weight="bold">c</text>
</g>
<g id="pd">
<rect x="874" y="942.06" width="69" height="103.44" fill="#FFC38C" stroke="#000" stroke-width="2.9"/>
<rect x="950" y="966" width="69" height="79.5" fill="#E3CA9B" stroke="#000" stroke-width="2.9"/>
<rect x="1103" y="1000.77" width="69.5" height="44.73" fill="#FFC38C" stroke="#000" stroke-width="2.9"/>
<rect x="1179.5" y="889.79" width="69" height="155.71" fill="#E3CA9B" stroke="#000" stroke-width="2.9"/>
<rect x="832.1" y="770.4" width="458.4" height="275.1" fill="none" stroke="#000" stroke-width="3"/>
<line x1="820.9" y1="1045.5" x2="832.1" y2="1045.5" stroke="#000" stroke-width="3" stroke-linecap="round"/>
<text x="806" y="1055.5" font-size="29.5" text-anchor="end">0</text>
<line x1="820.9" y1="935.46" x2="832.1" y2="935.46" stroke="#000" stroke-width="3" stroke-linecap="round"/>
<text x="806" y="945.46" font-size="29.5" text-anchor="end">20</text>
<line x1="820.9" y1="825.42" x2="832.1" y2="825.42" stroke="#000" stroke-width="3" stroke-linecap="round"/>
<text x="806" y="835.42" font-size="29.5" text-anchor="end">40</text>
<line x1="827.3" y1="990.48" x2="832.1" y2="990.48" stroke="#000" stroke-width="3" stroke-linecap="round"/>
<line x1="827.3" y1="880.44" x2="832.1" y2="880.44" stroke="#000" stroke-width="3" stroke-linecap="round"/>
<line x1="946.5" y1="1045.5" x2="946.5" y2="1055.5" stroke="#000" stroke-width="3" stroke-linecap="round"/>
<line x1="1176" y1="1045.5" x2="1176" y2="1055.5" stroke="#000" stroke-width="3" stroke-linecap="round"/>
<text x="890" y="933.9" font-size="29.5">1<tspan font-size="18.5" dy="-9.7">st</tspan></text>
<text x="963.7" y="953.8" font-size="29.5">50<tspan font-size="18.5" dy="-9.9">th</tspan></text>
<text x="1124.6" y="987" font-size="29.5">1<tspan font-size="18.5" dy="-9.7">st</tspan></text>
<text x="1192.6" y="872.5" font-size="29.5">50<tspan font-size="18.5" dy="-9.9">th</tspan></text>
<rect x="874" y="1235.87" width="69" height="84.73" fill="#66E547" stroke="#000" stroke-width="2.9"/>
<rect x="950" y="1223.76" width="69" height="96.84" fill="#5BB04F" stroke="#000" stroke-width="2.9"/>
<rect x="1103" y="1250.72" width="69.5" height="69.88" fill="#66E547" stroke="#000" stroke-width="2.9"/>
<rect x="1179.5" y="1127.48" width="69" height="193.12" fill="#5BB04F" stroke="#000" stroke-width="2.9"/>
<rect x="832.1" y="1045.5" width="458.4" height="275.1" fill="none" stroke="#000" stroke-width="3"/>
<line x1="820.9" y1="1320.6" x2="832.1" y2="1320.6" stroke="#000" stroke-width="3" stroke-linecap="round"/>
<text x="806" y="1330.6" font-size="29.5" text-anchor="end">0</text>
<line x1="820.9" y1="1210.56" x2="832.1" y2="1210.56" stroke="#000" stroke-width="3" stroke-linecap="round"/>
<text x="806" y="1220.56" font-size="29.5" text-anchor="end">20</text>
<line x1="820.9" y1="1100.52" x2="832.1" y2="1100.52" stroke="#000" stroke-width="3" stroke-linecap="round"/>
<text x="806" y="1110.52" font-size="29.5" text-anchor="end">40</text>
<line x1="827.3" y1="1265.58" x2="832.1" y2="1265.58" stroke="#000" stroke-width="3" stroke-linecap="round"/>
<line x1="827.3" y1="1155.54" x2="832.1" y2="1155.54" stroke="#000" stroke-width="3" stroke-linecap="round"/>
<line x1="946.5" y1="1320.6" x2="946.5" y2="1330.6" stroke="#000" stroke-width="3" stroke-linecap="round"/>
<line x1="1176" y1="1320.6" x2="1176" y2="1330.6" stroke="#000" stroke-width="3" stroke-linecap="round"/>
<text x="890" y="1215.9" font-size="29.5">1<tspan font-size="18.5" dy="-9.7">st</tspan></text>
<text x="961.4" y="1209.2" font-size="29.5">50<tspan font-size="18.5" dy="-9.9">th</tspan></text>
<text x="1124.6" y="1234.1" font-size="29.5">1<tspan font-size="18.5" dy="-9.7">st</tspan></text>
<text x="1188.6" y="1113" font-size="29.5">50<tspan font-size="18.5" dy="-9.9">th</tspan></text>
<rect x="874" y="1489.51" width="69" height="106.19" fill="#4BBCEA" stroke="#000" stroke-width="2.9"/>
<rect x="950" y="1484.01" width="69" height="111.69" fill="#0A84FF" stroke="#000" stroke-width="2.9"/>
<rect x="1103" y="1556.64" width="69.5" height="39.06" fill="#4BBCEA" stroke="#000" stroke-width="2.9"/>
<rect x="1179.5" y="1490.61" width="69" height="105.09" fill="#0A84FF" stroke="#000" stroke-width="2.9"/>
<rect x="832.1" y="1320.6" width="458.4" height="275.1" fill="none" stroke="#000" stroke-width="3"/>
<line x1="820.9" y1="1595.7" x2="832.1" y2="1595.7" stroke="#000" stroke-width="3" stroke-linecap="round"/>
<text x="806" y="1605.7" font-size="29.5" text-anchor="end">0</text>
<line x1="820.9" y1="1485.66" x2="832.1" y2="1485.66" stroke="#000" stroke-width="3" stroke-linecap="round"/>
<text x="806" y="1495.66" font-size="29.5" text-anchor="end">20</text>
<line x1="820.9" y1="1375.62" x2="832.1" y2="1375.62" stroke="#000" stroke-width="3" stroke-linecap="round"/>
<text x="806" y="1385.62" font-size="29.5" text-anchor="end">40</text>
<line x1="827.3" y1="1540.68" x2="832.1" y2="1540.68" stroke="#000" stroke-width="3" stroke-linecap="round"/>
<line x1="827.3" y1="1430.64" x2="832.1" y2="1430.64" stroke="#000" stroke-width="3" stroke-linecap="round"/>
<line x1="946.5" y1="1595.7" x2="946.5" y2="1605.7" stroke="#000" stroke-width="3" stroke-linecap="round"/>
<line x1="1176" y1="1595.7" x2="1176" y2="1605.7" stroke="#000" stroke-width="3" stroke-linecap="round"/>
<text x="891.2" y="1473.4" font-size="29.5">1<tspan font-size="18.5" dy="-9.7">st</tspan></text>
<text x="962.4" y="1469.2" font-size="29.5">50<tspan font-size="18.5" dy="-9.9">th</tspan></text>
<text x="1116.3" y="1539.3" font-size="29.5">1<tspan font-size="18.5" dy="-9.7">st</tspan></text>
<text x="1190.4" y="1473.4" font-size="29.5">50<tspan font-size="18.5" dy="-9.9">th</tspan></text>
<rect x="874" y="1767.36" width="69" height="103.44" fill="#0000FF" stroke="#000" stroke-width="2.9"/>
<rect x="950" y="1775.62" width="69" height="95.18" fill="#000080" stroke="#000" stroke-width="2.9"/>
<rect x="1103" y="1836.69" width="69.5" height="34.11" fill="#0000FF" stroke="#000" stroke-width="2.9"/>
<rect x="1179.5" y="1775.62" width="69" height="95.18" fill="#000080" stroke="#000" stroke-width="2.9"/>
<rect x="832.1" y="1595.7" width="458.4" height="275.1" fill="none" stroke="#000" stroke-width="3"/>
<line x1="820.9" y1="1870.8" x2="832.1" y2="1870.8" stroke="#000" stroke-width="3" stroke-linecap="round"/>
<text x="806" y="1880.8" font-size="29.5" text-anchor="end">0</text>
<line x1="820.9" y1="1760.76" x2="832.1" y2="1760.76" stroke="#000" stroke-width="3" stroke-linecap="round"/>
<text x="806" y="1770.76" font-size="29.5" text-anchor="end">20</text>
<line x1="820.9" y1="1650.72" x2="832.1" y2="1650.72" stroke="#000" stroke-width="3" stroke-linecap="round"/>
<text x="806" y="1660.72" font-size="29.5" text-anchor="end">40</text>
<line x1="827.3" y1="1815.78" x2="832.1" y2="1815.78" stroke="#000" stroke-width="3" stroke-linecap="round"/>
<line x1="827.3" y1="1705.74" x2="832.1" y2="1705.74" stroke="#000" stroke-width="3" stroke-linecap="round"/>
<line x1="946.5" y1="1870.8" x2="946.5" y2="1880.8" stroke="#000" stroke-width="3" stroke-linecap="round"/>
<line x1="1176" y1="1870.8" x2="1176" y2="1880.8" stroke="#000" stroke-width="3" stroke-linecap="round"/>
<text x="893" y="1748.7" font-size="29.5">1<tspan font-size="18.5" dy="-9.7">st</tspan></text>
<text x="962.4" y="1751.6" font-size="29.5">50<tspan font-size="18.5" dy="-9.9">th</tspan></text>
<text x="1118.4" y="1820.7" font-size="29.5">1<tspan font-size="18.5" dy="-9.7">st</tspan></text>
<text x="1192.1" y="1756.9" font-size="29.5">50<tspan font-size="18.5" dy="-9.9">th</tspan></text>
<text x="922" y="1924" font-size="35">R<tspan font-size="24.5" dy="8">bulk</tspan></text>
<text x="1159" y="1924" font-size="35">R<tspan font-size="24.5" dy="8">int</tspan></text>
<text x="738.1" y="1290.2" font-size="39.3" text-anchor="middle" transform="rotate(-90 738.1 1290.2)">Resistance (<tspan font-family='"Liberation Serif", "DejaVu Serif", serif'>Ω</tspan>)</text>
<text x="717.5" y="762.4" font-size="60" font-weight="bold">d</text>
</g>
<g id="pe">
<defs>
<filter id="sem0" filterUnits="userSpaceOnUse" x="1520.4" y="772" width="395.2" height="272.75" color-interpolation-filters="sRGB"><feTurbulence type="fractalNoise" baseFrequency="0.045" numOctaves="2" seed="63" result="dm"/><feDisplacementMap in="SourceGraphic" in2="dm" scale="16" xChannelSelector="R" yChannelSelector="G" result="src"/><feTurbulence type="fractalNoise" baseFrequency="0.07" numOctaves="3" seed="3" result="t"/><feColorMatrix in="t" type="matrix" values="1 0 0 0 0 1 0 0 0 0 1 0 0 0 0 0 0 0 0 1" result="g"/><feComposite in="src" in2="g" operator="arithmetic" k1="0" k2="1" k3="0.6" k4="-0.3" result="a"/><feTurbulence type="fractalNoise" baseFrequency="0.3" numOctaves="2" seed="23" result="u"/><feColorMatrix in="u" type="matrix" values="0 1 0 0 0 0 1 0 0 0 0 1 0 0 0 0 0 0 0 1" result="h"/><feComposite in="a" in2="h" operator="arithmetic" k1="0" k2="1" k3="0.5" k4="-0.25" result="b"/><feTurbulence type="fractalNoise" baseFrequency="0.11" numOctaves="2" seed="43" result="s"/><feColorMatrix in="s" type="matrix" values="0 0 4.6 0 -2.8 0 0 4.6 0 -2.8 0 0 4.6 0 -2.8 0 0 0 0 1" result="sp"/><feBlend in="b" in2="sp" mode="screen"/></filter>
<clipPath id="cle0"><rect x="1520.4" y="772" width="395.2" height="272.75"/></clipPath>
<filter id="sem1" filterUnits="userSpaceOnUse" x="1520.4" y="1044.75" width="395.2" height="272.75" color-interpolation-filters="sRGB"><feTurbulence type="fractalNoise" baseFrequency="0.045" numOctaves="2" seed="68" result="dm"/><feDisplacementMap in="SourceGraphic" in2="dm" scale="16" xChannelSelector="R" yChannelSelector="G" result="src"/><feTurbulence type="fractalNoise" baseFrequency="0.07" numOctaves="3" seed="8" result="t"/><feColorMatrix in="t" type="matrix" values="1 0 0 0 0 1 0 0 0 0 1 0 0 0 0 0 0 0 0 1" result="g"/><feComposite in="src" in2="g" operator="arithmetic" k1="0" k2="1" k3="0.55" k4="-0.28" result="a"/><feTurbulence type="fractalNoise" baseFrequency="0.3" numOctaves="2" seed="28" result="u"/><feColorMatrix in="u" type="matrix" values="0 1 0 0 0 0 1 0 0 0 0 1 0 0 0 0 0 0 0 1" result="h"/><feComposite in="a" in2="h" operator="arithmetic" k1="0" k2="1" k3="0.48" k4="-0.24" result="b"/><feTurbulence type="fractalNoise" baseFrequency="0.11" numOctaves="2" seed="48" result="s"/><feColorMatrix in="s" type="matrix" values="0 0 4.6 0 -2.9 0 0 4.6 0 -2.9 0 0 4.6 0 -2.9 0 0 0 0 1" result="sp"/><feBlend in="b" in2="sp" mode="screen"/></filter>
<clipPath id="cle1"><rect x="1520.4" y="1044.75" width="395.2" height="272.75"/></clipPath>
<filter id="sem2" filterUnits="userSpaceOnUse" x="1520.4" y="1317.5" width="395.2" height="272.75" color-interpolation-filters="sRGB"><feTurbulence type="fractalNoise" baseFrequency="0.045" numOctaves="2" seed="75" result="dm"/><feDisplacementMap in="SourceGraphic" in2="dm" scale="16" xChannelSelector="R" yChannelSelector="G" result="src"/><feTurbulence type="fractalNoise" baseFrequency="0.07" numOctaves="3" seed="15" result="t"/><feColorMatrix in="t" type="matrix" values="1 0 0 0 0 1 0 0 0 0 1 0 0 0 0 0 0 0 0 1" result="g"/><feComposite in="src" in2="g" operator="arithmetic" k1="0" k2="1" k3="0.52" k4="-0.26" result="a"/><feTurbulence type="fractalNoise" baseFrequency="0.3" numOctaves="2" seed="35" result="u"/><feColorMatrix in="u" type="matrix" values="0 1 0 0 0 0 1 0 0 0 0 1 0 0 0 0 0 0 0 1" result="h"/><feComposite in="a" in2="h" operator="arithmetic" k1="0" k2="1" k3="0.48" k4="-0.24" result="b"/><feTurbulence type="fractalNoise" baseFrequency="0.11" numOctaves="2" seed="55" result="s"/><feColorMatrix in="s" type="matrix" values="0 0 4.6 0 -2.9 0 0 4.6 0 -2.9 0 0 4.6 0 -2.9 0 0 0 0 1" result="sp"/><feBlend in="b" in2="sp" mode="screen"/></filter>
<clipPath id="cle2"><rect x="1520.4" y="1317.5" width="395.2" height="272.75"/></clipPath>
<filter id="sem3" filterUnits="userSpaceOnUse" x="1520.4" y="1590.25" width="395.2" height="272.75" color-interpolation-filters="sRGB"><feTurbulence type="fractalNoise" baseFrequency="0.045" numOctaves="2" seed="83" result="dm"/><feDisplacementMap in="SourceGraphic" in2="dm" scale="16" xChannelSelector="R" yChannelSelector="G" result="src"/><feTurbulence type="fractalNoise" baseFrequency="0.07" numOctaves="3" seed="23" result="t"/><feColorMatrix in="t" type="matrix" values="1 0 0 0 0 1 0 0 0 0 1 0 0 0 0 0 0 0 0 1" result="g"/><feComposite in="src" in2="g" operator="arithmetic" k1="0" k2="1" k3="0.5" k4="-0.25" result="a"/><feTurbulence type="fractalNoise" baseFrequency="0.3" numOctaves="2" seed="43" result="u"/><feColorMatrix in="u" type="matrix" values="0 1 0 0 0 0 1 0 0 0 0 1 0 0 0 0 0 0 0 1" result="h"/><feComposite in="a" in2="h" operator="arithmetic" k1="0" k2="1" k3="0.46" k4="-0.23" result="b"/><feTurbulence type="fractalNoise" baseFrequency="0.11" numOctaves="2" seed="63" result="s"/><feColorMatrix in="s" type="matrix" values="0 0 4.6 0 -2.95 0 0 4.6 0 -2.95 0 0 4.6 0 -2.95 0 0 0 0 1" result="sp"/><feBlend in="b" in2="sp" mode="screen"/></filter>
<clipPath id="cle3"><rect x="1520.4" y="1590.25" width="395.2" height="272.75"/></clipPath>
</defs>
<rect x="1520.4" y="772" width="395.2" height="272.75" fill="#666"/>
<g clip-path="url(#cle0)"><g filter="url(#sem0)">
<rect x="1500.4" y="752" width="435.2" height="312.75" fill="#666"/>
<g transform="translate(1520.4 772)">
<polygon points="25,10 -8,-4 9,-29 43,0" fill="#5c5c5c" stroke="#5c5c5c"/>
<polygon points="91,-6 70,-49 48,0 61,17" fill="#868686" stroke="#868686"/>
<polygon points="125,-8 93,-153 70,-49 91,-6 109,1" fill="#6a6a6a" stroke="#6a6a6a"/>
<polygon points="125,-8 93,-153 95,-237 158,-11 146,-2 132,-4" fill="#828282" stroke="#828282"/>
<polygon points="211,8 182,8 176,-17 198,-44 216,-9" fill="#727272" stroke="#727272"/>
<polygon points="250,-8 312,-613 313,-597 313,-531 298,-34 261,2" fill="#636363" stroke="#636363"/>
<polygon points="261,2 298,-34 311,-4 299,10 283,18 275,18 261,3" fill="#666666" stroke="#666666"/>
<polygon points="333,-3 326,0 311,-4 298,-34 313,-531 342,-106" fill="#6c6c6c" stroke="#6c6c6c"/>
<polygon points="356,-6 342,-106 333,-3" fill="#878787" stroke="#878787"/>
<polygon points="-3,39 -196,4 -12,-2 2,32" fill="#5c5c5c" stroke="#5c5c5c"/>
<polygon points="17,24 2,32 -12,-2 -8,-4 25,10" fill="#5e5e5e" stroke="#5e5e5e"/>
<polygon points="63,21 55,40 39,51 17,24 25,10 43,0 48,0 61,17" fill="#7a7a7a" stroke="#7a7a7a"/>
<polygon points="109,1 91,-6 61,17 63,21 86,26 97,22" fill="#818181" stroke="#818181"/>
<polygon points="125,-8 109,1 97,22 117,35 130,28 132,-4" fill="#838383" stroke="#838383"/>
<polygon points="132,-4 146,-2 167,26 168,38 154,42 130,28" fill="#757575" stroke="#757575"/>
<polygon points="146,-2 167,26 182,8 176,-17 158,-11" fill="#6f6f6f" stroke="#6f6f6f"/>
<polygon points="215,27 215,28 181,47 168,38 167,26 182,8 211,8" fill="#898989" stroke="#898989"/>
<polygon points="234,28 261,3 261,2 250,-8 216,-9 211,8 215,27" fill="#747474" stroke="#747474"/>
<polygon points="244,38 234,28 261,3 275,18 268,43" fill="#6d6d6d" stroke="#6d6d6d"/>
<polygon points="307,49 320,43 299,10 283,18" fill="#616161" stroke="#616161"/>
<polygon points="334,30 323,43 320,43 299,10 311,-4 326,0" fill="#5f5f5f" stroke="#5f5f5f"/>
<polygon points="356,-6 356,-6 361,29 334,30 326,0 333,-3" fill="#606060" stroke="#606060"/>
<polygon points="361,29 372,36 378,35 392,-11 356,-6" fill="#808080" stroke="#808080"/>
<polygon points="378,35 393,38 477,22 395,-13 392,-11" fill="#808080" stroke="#808080"/>
<polygon points="17,24 2,32 -3,39 4,57 29,66 39,51" fill="#696969" stroke="#696969"/>
<polygon points="57,80 29,66 29,66 39,51 55,40 79,70" fill="#7e7e7e" stroke="#7e7e7e"/>
<polygon points="84,71 79,70 55,40 63,21 86,26 96,66" fill="#5f5f5f" stroke="#5f5f5f"/>
<polygon points="96,66 86,26 97,22 117,35 116,67" fill="#8b8b8b" stroke="#8b8b8b"/>
<polygon points="123,73 132,70 154,42 130,28 117,35 116,67" fill="#616161" stroke="#616161"/>
<polygon points="183,56 181,47 168,38 154,42 132,70 154,81" fill="#656565" stroke="#656565"/>
<polygon points="183,56 181,47 215,28 230,73 220,77 194,73" fill="#757575" stroke="#757575"/>
<polygon points="233,73 230,73 215,28 215,27 234,28 244,38" fill="#858585" stroke="#858585"/>
<polygon points="245,77 270,52 268,43 244,38 233,73" fill="#8a8a8a" stroke="#8a8a8a"/>
<polygon points="268,43 275,18 283,18 307,49 296,62 273,53 270,52" fill="#676767" stroke="#676767"/>
<polygon points="324,83 310,88 301,88 296,62 307,49 320,43 323,43 338,63" fill="#606060" stroke="#606060"/>
<polygon points="361,29 372,36 365,61 361,66 338,63 323,43 334,30" fill="#868686" stroke="#868686"/>
<polygon points="372,36 365,61 400,74 401,74 393,38 378,35" fill="#797979" stroke="#797979"/>
<polygon points="393,38 477,22 644,47 401,74" fill="#868686" stroke="#868686"/>
<polygon points="-132,100 -8,103 -5,99 -4,64 -172,94" fill="#8d8d8d" stroke="#8d8d8d"/>
<polygon points="29,66 4,57 -4,64 -5,99 24,85 29,66" fill="#757575" stroke="#757575"/>
<polygon points="57,104 57,80 29,66 24,85 34,104 56,105" fill="#747474" stroke="#747474"/>
<polygon points="84,100 57,104 57,80 79,70 84,71" fill="#7c7c7c" stroke="#7c7c7c"/>
<polygon points="84,100 84,71 96,66 116,67 123,73 122,89 112,101 91,107" fill="#7c7c7c" stroke="#7c7c7c"/>
<polygon points="122,89 154,123 163,96 154,81 132,70 123,73" fill="#777777" stroke="#777777"/>
<polygon points="183,56 154,81 163,96 187,88 194,73" fill="#6c6c6c" stroke="#6c6c6c"/>
<polygon points="194,73 220,77 215,117 209,121 192,102 187,88" fill="#797979" stroke="#797979"/>
<polygon points="245,77 260,102 253,116 251,118 215,117 220,77 230,73 233,73" fill="#8d8d8d" stroke="#8d8d8d"/>
<polygon points="245,77 260,102 275,100 273,53 270,52" fill="#909090" stroke="#909090"/>
<polygon points="296,62 301,88 292,99 275,100 273,53" fill="#717171" stroke="#717171"/>
<polygon points="324,83 310,88 340,120 349,98" fill="#878787" stroke="#878787"/>
<polygon points="324,83 349,98 362,89 361,66 338,63" fill="#7e7e7e" stroke="#7e7e7e"/>
<polygon points="361,66 365,61 400,74 389,98 384,101 383,101 362,89" fill="#686868" stroke="#686868"/>
<polygon points="400,74 389,98 542,146 895,186 2658,197 644,47 401,74" fill="#5e5e5e" stroke="#5e5e5e"/>
<polygon points="-132,100 -1,145 12,132 -8,103" fill="#5d5d5d" stroke="#5d5d5d"/>
<polygon points="-8,103 12,132 18,132 34,104 24,85 -5,99" fill="#626262" stroke="#626262"/>
<polygon points="56,105 34,104 18,132 23,135 60,132" fill="#676767" stroke="#676767"/>
<polygon points="84,100 57,104 56,105 60,132 64,135 88,132 89,131 91,107" fill="#888888" stroke="#888888"/>
<polygon points="121,133 112,101 91,107 89,131 118,135" fill="#6b6b6b" stroke="#6b6b6b"/>
<polygon points="121,133 112,101 122,89 154,123 155,128 155,130" fill="#868686" stroke="#868686"/>
<polygon points="155,128 192,102 187,88 163,96 154,123" fill="#777777" stroke="#777777"/>
<polygon points="155,130 155,128 192,102 209,121 204,132 201,135 183,142 157,133" fill="#636363" stroke="#636363"/>
<polygon points="204,132 245,149 251,141 251,118 215,117 209,121" fill="#868686" stroke="#868686"/>
<polygon points="251,141 251,118 253,116 281,133 265,146" fill="#8d8d8d" stroke="#8d8d8d"/>
<polygon points="253,116 260,102 275,100 292,99 302,125 298,133 281,133" fill="#8e8e8e" stroke="#8e8e8e"/>
<polygon points="340,127 340,120 310,88 301,88 292,99 302,125" fill="#828282" stroke="#828282"/>
<polygon points="349,98 340,120 340,127 347,138 354,138 375,126 383,101 362,89" fill="#818181" stroke="#818181"/>
<polygon points="405,144 415,142 384,101 383,101 375,126" fill="#797979" stroke="#797979"/>
<polygon points="542,146 415,142 384,101 389,98" fill="#6f6f6f" stroke="#6f6f6f"/>
<polygon points="40,173 35,176 -5,164 -1,145 12,132 18,132 23,135" fill="#919191" stroke="#919191"/>
<polygon points="60,132 23,135 40,173 54,174 59,171 64,135" fill="#5f5f5f" stroke="#5f5f5f"/>
<polygon points="64,135 59,171 91,173 93,170 88,132" fill="#8c8c8c" stroke="#8c8c8c"/>
<polygon points="118,135 89,131 88,132 93,170 114,162" fill="#6a6a6a" stroke="#6a6a6a"/>
<polygon points="142,175 157,133 155,130 121,133 118,135 114,162 138,174" fill="#7b7b7b" stroke="#7b7b7b"/>
<polygon points="142,175 153,191 180,181 186,174 183,142 157,133" fill="#777777" stroke="#777777"/>
<polygon points="183,142 186,174 219,181 225,176 226,174 201,135" fill="#797979" stroke="#797979"/>
<polygon points="201,135 226,174 241,164 245,149 204,132" fill="#7e7e7e" stroke="#7e7e7e"/>
<polygon points="241,164 245,149 251,141 265,146 288,167 270,180" fill="#666666" stroke="#666666"/>
<polygon points="265,146 281,133 298,133 298,165 288,167" fill="#6a6a6a" stroke="#6a6a6a"/>
<polygon points="329,171 306,171 298,165 298,133 302,125 340,127 347,138 336,162" fill="#646464" stroke="#646464"/>
<polygon points="336,162 380,175 382,164 354,138 347,138" fill="#5d5d5d" stroke="#5d5d5d"/>
<polygon points="382,164 405,144 375,126 354,138" fill="#8e8e8e" stroke="#8e8e8e"/>
<polygon points="382,164 405,144 415,142 542,146 895,186 676,202 519,195 380,175 380,175" fill="#6e6e6e" stroke="#6e6e6e"/>
<polygon points="-4,214 13,202 -12,173 -118,205 -44,223" fill="#616161" stroke="#616161"/>
<polygon points="-5,164 35,176 17,203 13,202 -12,173" fill="#707070" stroke="#707070"/>
<polygon points="27,214 17,203 35,176 40,173 54,174 60,209" fill="#707070" stroke="#707070"/>
<polygon points="65,214 91,204 98,195 91,173 59,171 54,174 60,209" fill="#7f7f7f" stroke="#7f7f7f"/>
<polygon points="138,174 106,197 98,195 91,173 93,170 114,162" fill="#696969" stroke="#696969"/>
<polygon points="142,175 153,191 153,198 145,206 121,210 106,197 138,174" fill="#7f7f7f" stroke="#7f7f7f"/>
<polygon points="153,191 180,181 199,214 181,227 153,198" fill="#616161" stroke="#616161"/>
<polygon points="180,181 186,174 219,181 213,209 211,212 199,214" fill="#7b7b7b" stroke="#7b7b7b"/>
<polygon points="257,211 258,208 225,176 219,181 213,209 255,212" fill="#616161" stroke="#616161"/>
<polygon points="265,202 270,180 241,164 226,174 225,176 258,208" fill="#797979" stroke="#797979"/>
<polygon points="265,202 270,180 288,167 298,165 306,171 300,210" fill="#787878" stroke="#787878"/>
<polygon points="300,210 306,171 329,171 336,183 310,229" fill="#6b6b6b" stroke="#6b6b6b"/>
<polygon points="362,191 344,189 336,183 329,171 336,162 380,175 380,175 378,182" fill="#747474" stroke="#747474"/>
<polygon points="365,206 387,204 389,199 378,182 362,191" fill="#5e5e5e" stroke="#5e5e5e"/>
<polygon points="378,182 380,175 519,195 389,199" fill="#7c7c7c" stroke="#7c7c7c"/>
<polygon points="13,245 -4,214 -44,223 -4,253" fill="#5c5c5c" stroke="#5c5c5c"/>
<polygon points="17,245 27,232 27,214 17,203 13,202 -4,214 13,245" fill="#777777" stroke="#777777"/>
<polygon points="27,232 66,241 65,214 60,209 27,214" fill="#777777" stroke="#777777"/>
<polygon points="65,214 91,204 104,239 92,246 67,243 66,241" fill="#5f5f5f" stroke="#5f5f5f"/>
<polygon points="104,239 91,204 98,195 106,197 121,210 113,239" fill="#8f8f8f" stroke="#8f8f8f"/>
<polygon points="122,244 113,239 121,210 145,206 141,238" fill="#7c7c7c" stroke="#7c7c7c"/>
<polygon points="141,238 145,206 153,198 181,227 179,241 162,249" fill="#808080" stroke="#808080"/>
<polygon points="183,245 179,241 181,227 199,214 211,212 225,239 225,240" fill="#747474" stroke="#747474"/>
<polygon points="255,212 213,209 211,212 225,239 241,237" fill="#828282" stroke="#828282"/>
<polygon points="251,248 241,237 255,212 257,211 277,238" fill="#656565" stroke="#656565"/>
<polygon points="277,238 257,211 258,208 265,202 300,210 310,229 311,233 300,241 282,240" fill="#7e7e7e" stroke="#7e7e7e"/>
<polygon points="331,240 344,233 344,189 336,183 310,229 311,233" fill="#7a7a7a" stroke="#7a7a7a"/>
<polygon points="365,206 363,231 344,233 344,189 362,191" fill="#8f8f8f" stroke="#8f8f8f"/>
<polygon points="365,206 363,231 370,234 386,233 387,204" fill="#878787" stroke="#878787"/>
<polygon points="387,204 386,233 396,238 454,235 676,202 519,195 389,199" fill="#7b7b7b" stroke="#7b7b7b"/>
<polygon points="17,245 35,267 30,286 7,283 -8,276 -4,253 13,245" fill="#747474" stroke="#747474"/>
<polygon points="17,245 27,232 66,241 67,243 62,253 35,267" fill="#838383" stroke="#838383"/>
<polygon points="62,253 67,243 92,246 97,277 84,284 70,277" fill="#878787" stroke="#878787"/>
<polygon points="126,278 123,286 97,277 92,246 104,239 113,239 122,244" fill="#8e8e8e" stroke="#8e8e8e"/>
<polygon points="126,278 158,265 162,249 141,238 122,244" fill="#888888" stroke="#888888"/>
<polygon points="205,277 197,280 158,266 158,265 162,249 179,241 183,245" fill="#5d5d5d" stroke="#5d5d5d"/>
<polygon points="207,278 219,271 225,240 183,245 205,277" fill="#858585" stroke="#858585"/>
<polygon points="252,270 251,248 241,237 225,239 225,240 219,271 247,275" fill="#787878" stroke="#787878"/>
<polygon points="267,267 282,240 277,238 251,248 252,270" fill="#8b8b8b" stroke="#8b8b8b"/>
<polygon points="267,267 282,240 300,241 295,275 273,270" fill="#747474" stroke="#747474"/>
<polygon points="298,284 337,271 331,240 311,233 300,241 295,275" fill="#797979" stroke="#797979"/>
<polygon points="337,271 344,278 351,279 366,272 370,234 363,231 344,233 331,240" fill="#8d8d8d" stroke="#8d8d8d"/>
<polygon points="386,233 396,238 385,275 366,272 370,234" fill="#7a7a7a" stroke="#7a7a7a"/>
<polygon points="385,275 390,281 454,235 396,238" fill="#666666" stroke="#666666"/>
<polygon points="35,267 62,253 70,277 39,304 30,286" fill="#808080" stroke="#808080"/>
<polygon points="39,304 64,481 84,284 70,277" fill="#5c5c5c" stroke="#5c5c5c"/>
<polygon points="84,284 97,277 123,286 140,361 93,915 64,481" fill="#707070" stroke="#707070"/>
<polygon points="126,278 123,286 140,361 169,300 158,266 158,265" fill="#878787" stroke="#878787"/>
<polygon points="158,266 169,300 197,280" fill="#7b7b7b" stroke="#7b7b7b"/>
<polygon points="270,343 279,374 283,486 279,544 207,278 219,271 247,275" fill="#646464" stroke="#646464"/>
<polygon points="267,267 252,270 247,275 270,343 273,270" fill="#6d6d6d" stroke="#6d6d6d"/>
<polygon points="273,270 295,275 298,284 279,374 270,343" fill="#8f8f8f" stroke="#8f8f8f"/>
<polygon points="298,284 337,271 344,278 283,486 279,374" fill="#5d5d5d" stroke="#5d5d5d"/>
<polygon points="385,275 390,281 411,345 351,279 366,272" fill="#868686" stroke="#868686"/>
<path d="M-8 -4L9 -29M-196 4L-3 39M2 32L-3 39M35 176L-5 164M35 176L17 203M17 203L13 202M13 202L-12 173M-12 173L-5 164M-5 99L-4 64M12 132L-8 103M12 132L18 132M34 104L18 132M-1 145L12 132M-1 145L-5 164M415 142L384 101M384 101L389 98M389 98L542 146M167 26L146 -2M23 135L40 173M390 281L385 275M396 238L385 275M351 279L366 272M366 272L385 275M13 202L-4 214M106 197L121 210M106 197L98 195M98 195L91 204M121 210L113 239M113 239L104 239M123 286L97 277M477 22L395 -13M384 101L383 101M375 126L405 144M375 126L354 138M380 175L380 175M380 175L382 164M275 100L273 53M275 100L292 99M301 88L296 62M320 43L299 10M299 10L283 18M302 125L340 127M302 125L298 133M340 127L347 138M298 165L306 171M306 171L329 171M340 120L340 127M354 138L347 138M380 175L336 162M260 102L253 116M260 102L275 100M298 133L281 133M281 133L253 116M298 165L288 167M281 133L265 146M253 116L251 118M251 118L251 141M265 146L251 141M24 85L29 66M389 98L400 74M477 22L393 38M393 38L378 35M365 61L372 36M365 61L400 74M199 214L181 227M181 227L153 198M180 181L153 191M153 198L153 191M219 181L186 174M219 181L213 209M186 174L180 181M197 280L158 266M158 265L162 249M162 249L141 238M141 238L122 244M122 244L126 278M145 206L153 198M145 206L141 238M179 241L162 249M179 241L181 227M113 239L122 244M97 277L92 246M92 246L104 239M219 271L207 278M225 240L183 245M183 245L205 277M205 277L207 278M179 241L183 245M225 239L211 212M225 239L225 240M197 280L205 277M261 3L234 28M261 3L261 2M261 2L250 -8M216 -9L211 8M211 8L215 27M311 -4L299 10M311 -4L298 -34M298 -34L261 2M283 18L275 18M275 18L261 3M167 26L168 38M215 28L181 47M215 28L215 27M362 89L349 98M349 98L324 83M361 66L338 63M338 63L324 83M383 101L362 89M340 120L349 98M365 61L361 66M310 88L324 83M320 43L323 43M323 43L338 63M307 49L296 62M270 52L268 43M270 52L245 77M268 43L244 38M244 38L233 73M233 73L245 77M273 53L270 52M260 102L245 77M215 28L230 73M230 73L233 73M215 117L220 77M215 117L251 118M230 73L220 77M396 238L386 233M366 272L370 234M370 234L386 233M288 167L270 180M245 149L251 141M245 149L241 164M270 180L241 164M29 66L39 51M39 51L17 24M9 -29L43 0M70 -49L48 0M48 0L43 0M43 0L25 10M25 10L17 24M39 51L55 40M55 40L63 21M61 17L63 21M372 36L361 29M356 -6L361 29M311 -4L326 0M323 43L334 30M326 0L334 30M334 30L361 29M84 284L70 277M70 277L39 304M67 243L62 253M70 277L62 253M66 241L27 232M60 209L65 214M27 214L27 232M91 204L65 214M91 173L98 195M91 173L59 171M59 171L54 174M54 174L60 209M17 203L27 214M40 173L54 174M336 183L329 171M306 171L300 210M310 229L300 210M300 210L265 202M241 164L226 174M226 174L225 176M225 176L258 208M258 208L265 202M387 204L365 206M380 175L378 182M519 195L389 199M370 234L363 231M363 231L365 206M336 183L344 189M344 189L362 191M344 189L344 233M344 233L363 231M55 40L79 70M79 70L57 80M97 22L109 1M97 22L117 35M130 28L117 35M130 28L132 -4M109 1L125 -8M132 -4L125 -8M86 26L97 22M86 26L63 21M91 -6L109 1M146 -2L132 -4M168 38L154 42M333 -3L356 -6M7 283L-8 276M-8 276L-4 253M-4 253L13 245M13 245L17 245M62 253L35 267M27 232L17 245M-44 223L-4 253M344 233L331 240M344 278L337 271M213 209L255 212M241 237L255 212M219 181L225 176M258 208L257 211M255 212L257 211M311 233L300 241M300 241L295 275M91 173L93 170M93 170L88 132M88 132L64 135M23 135L60 132M64 135L60 132M60 132L56 105M57 80L57 104M56 105L57 104M215 117L209 121M245 149L204 132M209 121L204 132M226 174L201 135M204 132L201 135M186 174L183 142M201 135L183 142M163 96L187 88M194 73L183 56M181 47L183 56M132 70L154 81M220 77L194 73M209 121L192 102M192 102L155 128M163 96L154 123M154 123L155 128M116 67L123 73M123 73L122 89M122 89L112 101M112 101L91 107M84 71L84 100M117 35L116 67M86 26L96 66M154 123L122 89M88 132L89 131M89 131L91 107M300 241L282 240M282 240L277 238M241 237L251 248M247 275L270 343M247 275L252 270M270 343L273 270M273 270L267 267M219 271L247 275M251 248L252 270M282 240L267 267M157 133L155 130M157 133L142 175M153 191L142 175M93 170L114 162" fill="none" stroke="#202020" stroke-width="1.9" stroke-opacity="0.62" stroke-linecap="round"/>
</g></g></g>
<rect x="1520.4" y="1044.75" width="395.2" height="272.75" fill="#666"/>
<g clip-path="url(#cle1)"><g filter="url(#sem1)">
<rect x="1500.4" y="1024.75" width="435.2" height="312.75" fill="#666"/>
<g transform="translate(1520.4 1044.75)">
<polygon points="33,8 43,9 53,-4 57,-59 50,-83 19,-3 19,-3" fill="#5b5b5b" stroke="#5b5b5b"/>
<polygon points="77,12 86,1 57,-59 53,-4" fill="#777777" stroke="#777777"/>
<polygon points="87,1 86,1 57,-59 50,-83 100,-10732 166,-2127 142,-208 107,-8" fill="#808080" stroke="#808080"/>
<polygon points="122,-2 150,-47 142,-208 107,-8" fill="#7d7d7d" stroke="#7d7d7d"/>
<polygon points="130,12 122,-2 150,-47 159,-16 130,12" fill="#5d5d5d" stroke="#5d5d5d"/>
<polygon points="189,5 200,-1 209,-14 206,-28 168,-6" fill="#6a6a6a" stroke="#6a6a6a"/>
<polygon points="209,-14 232,1 240,-6 246,-35 214,-382 206,-28" fill="#707070" stroke="#707070"/>
<polygon points="269,-8 246,-35 240,-6 264,-3" fill="#6c6c6c" stroke="#6c6c6c"/>
<polygon points="312,10 316,5 302,-42 281,-13 285,-2" fill="#626262" stroke="#626262"/>
<polygon points="346,4 338,-257 302,-42 316,5 344,6" fill="#838383" stroke="#838383"/>
<polygon points="375,-2 382,-34 349,-358 338,-257 346,4" fill="#858585" stroke="#858585"/>
<polygon points="377,1 391,8 403,-7 382,-34 375,-2" fill="#5e5e5e" stroke="#5e5e5e"/>
<polygon points="19,-3 19,-3 2,-6 -36,13 -1,34 2,32" fill="#646464" stroke="#646464"/>
<polygon points="30,34 2,32 19,-3 33,8 30,34" fill="#5a5a5a" stroke="#5a5a5a"/>
<polygon points="55,29 30,34 33,8 43,9 58,21" fill="#717171" stroke="#717171"/>
<polygon points="58,21 43,9 53,-4 77,12 77,13" fill="#7e7e7e" stroke="#7e7e7e"/>
<polygon points="77,13 77,12 86,1 87,1 112,23 109,33 85,32" fill="#6b6b6b" stroke="#6b6b6b"/>
<polygon points="112,23 87,1 107,-8 122,-2 130,12" fill="#676767" stroke="#676767"/>
<polygon points="158,25 167,-6 159,-16 130,12 145,26" fill="#6d6d6d" stroke="#6d6d6d"/>
<polygon points="189,5 189,27 161,27 158,25 167,-6 168,-6" fill="#6e6e6e" stroke="#6e6e6e"/>
<polygon points="189,5 189,27 191,29 214,21 200,-1" fill="#858585" stroke="#858585"/>
<polygon points="209,-14 232,1 233,17 215,21 214,21 200,-1" fill="#5a5a5a" stroke="#5a5a5a"/>
<polygon points="264,22 264,-3 240,-6 232,1 233,17 242,27 248,28" fill="#656565" stroke="#656565"/>
<polygon points="283,27 285,-2 281,-13 269,-8 264,-3 264,22" fill="#5a5a5a" stroke="#5a5a5a"/>
<polygon points="283,27 285,-2 312,10 308,18 285,28" fill="#727272" stroke="#727272"/>
<polygon points="308,18 320,35 334,41 348,22 344,6 316,5 312,10" fill="#7d7d7d" stroke="#7d7d7d"/>
<polygon points="348,22 344,6 346,4 375,-2 377,1 369,32" fill="#808080" stroke="#808080"/>
<polygon points="371,34 396,29 400,23 391,8 377,1 369,32" fill="#848484" stroke="#848484"/>
<polygon points="403,-7 484,0 400,23 391,8" fill="#6a6a6a" stroke="#6a6a6a"/>
<polygon points="33,47 30,34 2,32 -1,34 -2,44 5,58 24,54" fill="#727272" stroke="#727272"/>
<polygon points="55,29 30,34 30,34 33,47 54,59 59,52" fill="#7f7f7f" stroke="#7f7f7f"/>
<polygon points="55,29 59,52 80,48 85,32 77,13 58,21" fill="#7c7c7c" stroke="#7c7c7c"/>
<polygon points="85,32 109,33 115,48 104,60 94,60 80,48" fill="#696969" stroke="#696969"/>
<polygon points="145,26 130,12 130,12 112,23 109,33 115,48 133,48" fill="#7a7a7a" stroke="#7a7a7a"/>
<polygon points="164,58 142,61 133,48 145,26 158,25 161,27 166,57" fill="#828282" stroke="#828282"/>
<polygon points="166,57 161,27 189,27 191,29 195,48 182,62" fill="#5c5c5c" stroke="#5c5c5c"/>
<polygon points="213,51 195,48 191,29 214,21 215,21" fill="#787878" stroke="#787878"/>
<polygon points="220,54 242,27 233,17 215,21 213,51 220,54" fill="#696969" stroke="#696969"/>
<polygon points="248,28 242,27 220,54 238,72 254,51" fill="#686868" stroke="#686868"/>
<polygon points="287,48 285,28 283,27 264,22 248,28 254,51 267,56" fill="#838383" stroke="#838383"/>
<polygon points="287,48 285,28 308,18 320,35 301,55 291,52" fill="#696969" stroke="#696969"/>
<polygon points="337,53 334,41 320,35 301,55 312,65 336,55" fill="#868686" stroke="#868686"/>
<polygon points="337,53 334,41 348,22 369,32 371,34 369,54" fill="#797979" stroke="#797979"/>
<polygon points="372,60 380,62 404,52 396,29 371,34 369,54" fill="#747474" stroke="#747474"/>
<polygon points="5,58 -2,44 -83,84 4,71" fill="#878787" stroke="#878787"/>
<polygon points="35,73 32,75 6,73 4,71 5,58 24,54" fill="#646464" stroke="#646464"/>
<polygon points="54,59 33,47 24,54 35,73 53,65" fill="#5d5d5d" stroke="#5d5d5d"/>
<polygon points="59,52 54,59 53,65 65,83 77,85 80,83 94,60 80,48" fill="#5c5c5c" stroke="#5c5c5c"/>
<polygon points="94,60 104,60 116,83 115,85 80,83" fill="#838383" stroke="#838383"/>
<polygon points="116,83 104,60 115,48 133,48 142,61 137,80" fill="#7b7b7b" stroke="#7b7b7b"/>
<polygon points="164,58 142,61 137,80 142,86 152,91 157,89" fill="#7a7a7a" stroke="#7a7a7a"/>
<polygon points="164,58 157,89 178,89 187,82 182,62 166,57" fill="#7d7d7d" stroke="#7d7d7d"/>
<polygon points="182,62 195,48 213,51 220,54 200,87 199,87 187,82" fill="#7c7c7c" stroke="#7c7c7c"/>
<polygon points="220,54 238,72 241,84 200,87 220,54" fill="#5d5d5d" stroke="#5d5d5d"/>
<polygon points="267,85 267,56 254,51 238,72 241,84 243,87 258,86" fill="#6d6d6d" stroke="#6d6d6d"/>
<polygon points="280,87 291,52 287,48 267,56 267,85" fill="#6b6b6b" stroke="#6b6b6b"/>
<polygon points="285,92 310,87 312,84 312,65 301,55 291,52 280,87" fill="#707070" stroke="#707070"/>
<polygon points="342,78 312,84 312,65 336,55" fill="#747474" stroke="#747474"/>
<polygon points="342,78 336,55 337,53 369,54 372,60 359,79 347,82" fill="#5b5b5b" stroke="#5b5b5b"/>
<polygon points="359,79 372,93 389,82 380,62 372,60" fill="#858585" stroke="#858585"/>
<polygon points="389,82 398,86 432,80 449,75 404,52 380,62" fill="#757575" stroke="#757575"/>
<polygon points="5,102 -8,108 -273,140 -83,84 4,71 6,73" fill="#6b6b6b" stroke="#6b6b6b"/>
<polygon points="33,101 13,105 5,102 6,73 32,75" fill="#878787" stroke="#878787"/>
<polygon points="53,65 65,83 49,107 33,101 32,75 35,73" fill="#676767" stroke="#676767"/>
<polygon points="49,107 53,120 85,117 91,110 77,85 65,83" fill="#656565" stroke="#656565"/>
<polygon points="77,85 91,110 109,107 115,85 80,83" fill="#878787" stroke="#878787"/>
<polygon points="127,109 111,109 109,107 115,85 116,83 137,80 142,86 132,106" fill="#6d6d6d" stroke="#6d6d6d"/>
<polygon points="132,106 142,86 152,91 154,106 151,115" fill="#767676" stroke="#767676"/>
<polygon points="178,89 176,107 154,106 152,91 157,89" fill="#5a5a5a" stroke="#5a5a5a"/>
<polygon points="187,82 199,87 206,116 179,121 176,107 178,89" fill="#747474" stroke="#747474"/>
<polygon points="243,87 241,84 200,87 199,87 206,116 210,119 234,112 239,105" fill="#5f5f5f" stroke="#5f5f5f"/>
<polygon points="265,115 262,118 239,105 243,87 258,86" fill="#6a6a6a" stroke="#6a6a6a"/>
<polygon points="265,115 258,86 267,85 280,87 285,92 285,106" fill="#676767" stroke="#676767"/>
<polygon points="285,106 291,120 312,117 323,108 310,87 285,92" fill="#616161" stroke="#616161"/>
<polygon points="342,78 312,84 310,87 323,108 331,110 342,106 347,82" fill="#6a6a6a" stroke="#6a6a6a"/>
<polygon points="347,82 342,106 361,115 372,103 372,93 359,79" fill="#848484" stroke="#848484"/>
<polygon points="389,82 398,86 391,107 372,103 372,93" fill="#7d7d7d" stroke="#7d7d7d"/>
<polygon points="391,107 397,116 432,80 398,86" fill="#838383" stroke="#838383"/>
<polygon points="1,141 5,137 -8,108 -273,140 -300,146 -196,151" fill="#5d5d5d" stroke="#5d5d5d"/>
<polygon points="5,102 -8,108 5,137 22,136 23,135 13,105" fill="#6b6b6b" stroke="#6b6b6b"/>
<polygon points="33,101 13,105 23,135 50,131 53,120 49,107" fill="#696969" stroke="#696969"/>
<polygon points="50,131 57,147 81,143 88,135 85,117 53,120" fill="#606060" stroke="#606060"/>
<polygon points="88,135 103,141 118,137 111,109 109,107 91,110 85,117" fill="#828282" stroke="#828282"/>
<polygon points="142,132 128,143 118,137 111,109 127,109" fill="#5b5b5b" stroke="#5b5b5b"/>
<polygon points="142,132 127,109 132,106 151,115 153,128" fill="#636363" stroke="#636363"/>
<polygon points="153,128 168,134 179,121 176,107 154,106 151,115" fill="#707070" stroke="#707070"/>
<polygon points="179,121 206,116 210,119 210,145 180,142 168,134 168,134" fill="#858585" stroke="#858585"/>
<polygon points="211,147 242,129 234,112 210,119 210,145" fill="#5a5a5a" stroke="#5a5a5a"/>
<polygon points="262,118 264,133 251,140 242,129 234,112 239,105" fill="#7d7d7d" stroke="#7d7d7d"/>
<polygon points="265,115 262,118 264,133 286,137 291,120 285,106" fill="#676767" stroke="#676767"/>
<polygon points="291,120 312,117 315,140 312,143 286,138 286,137" fill="#737373" stroke="#737373"/>
<polygon points="333,135 331,110 323,108 312,117 315,140" fill="#5d5d5d" stroke="#5d5d5d"/>
<polygon points="361,115 342,106 331,110 333,135 340,141 366,134" fill="#777777" stroke="#777777"/>
<polygon points="391,140 399,129 397,116 391,107 372,103 361,115 366,134 370,137" fill="#6a6a6a" stroke="#6a6a6a"/>
<polygon points="399,129 652,79 449,75 432,80 397,116" fill="#737373" stroke="#737373"/>
<polygon points="5,164 1,141 -196,151 -2,169" fill="#7f7f7f" stroke="#7f7f7f"/>
<polygon points="5,164 22,161 22,136 5,137 1,141" fill="#858585" stroke="#858585"/>
<polygon points="50,131 23,135 22,136 22,161 29,166 56,149 57,147" fill="#767676" stroke="#767676"/>
<polygon points="57,147 56,149 57,151 77,171 92,167 81,143" fill="#5d5d5d" stroke="#5d5d5d"/>
<polygon points="88,135 103,141 96,168 92,167 81,143" fill="#6d6d6d" stroke="#6d6d6d"/>
<polygon points="107,175 130,155 128,143 118,137 103,141 96,168 106,175" fill="#666666" stroke="#666666"/>
<polygon points="142,132 128,143 130,155 140,163 150,168 160,162 168,134 168,134 153,128" fill="#7d7d7d" stroke="#7d7d7d"/>
<polygon points="180,142 168,134 160,162 175,168 184,162" fill="#7e7e7e" stroke="#7e7e7e"/>
<polygon points="211,147 215,156 210,166 184,162 180,142 210,145" fill="#757575" stroke="#757575"/>
<polygon points="239,157 215,156 211,147 242,129 251,140 249,145" fill="#6f6f6f" stroke="#6f6f6f"/>
<polygon points="239,157 246,169 270,175 277,167 249,145" fill="#616161" stroke="#616161"/>
<polygon points="249,145 251,140 264,133 286,137 286,138 283,164 277,167" fill="#696969" stroke="#696969"/>
<polygon points="291,168 316,158 312,143 286,138 283,164" fill="#717171" stroke="#717171"/>
<polygon points="333,135 340,141 335,167 328,166 316,158 312,143 315,140" fill="#747474" stroke="#747474"/>
<polygon points="362,159 336,168 335,167 340,141 366,134 370,137" fill="#5b5b5b" stroke="#5b5b5b"/>
<polygon points="390,173 365,165 362,159 370,137 391,140 400,160" fill="#787878" stroke="#787878"/>
<polygon points="-173,232 -147,228 8,196 9,195 -2,169 -196,151 -300,146 -1861,311 -481,254" fill="#676767" stroke="#676767"/>
<polygon points="22,195 9,195 -2,169 5,164 22,161 29,166 35,188 34,190" fill="#757575" stroke="#757575"/>
<polygon points="53,182 35,188 29,166 56,149 57,151" fill="#757575" stroke="#757575"/>
<polygon points="53,182 57,151 77,171 69,186" fill="#6f6f6f" stroke="#6f6f6f"/>
<polygon points="106,175 96,168 92,167 77,171 69,186 76,203 105,181" fill="#787878" stroke="#787878"/>
<polygon points="107,175 130,155 140,163 127,186" fill="#757575" stroke="#757575"/>
<polygon points="128,188 151,187 150,168 140,163 127,186" fill="#808080" stroke="#808080"/>
<polygon points="151,187 150,168 160,162 175,168 181,192 154,192" fill="#696969" stroke="#696969"/>
<polygon points="210,166 209,185 200,193 185,194 181,192 175,168 184,162" fill="#676767" stroke="#676767"/>
<polygon points="239,157 215,156 210,166 209,185 236,197 246,169" fill="#676767" stroke="#676767"/>
<polygon points="246,169 236,197 240,201 264,198 268,191 270,175" fill="#6e6e6e" stroke="#6e6e6e"/>
<polygon points="270,175 268,191 298,195 304,191 291,168 283,164 277,167" fill="#838383" stroke="#838383"/>
<polygon points="304,191 291,168 316,158 328,166 306,192" fill="#636363" stroke="#636363"/>
<polygon points="306,192 328,166 335,167 336,168 345,188 343,193 308,194" fill="#868686" stroke="#868686"/>
<polygon points="365,165 362,186 345,188 336,168 362,159" fill="#606060" stroke="#606060"/>
<polygon points="390,173 385,189 371,190 362,186 365,165" fill="#717171" stroke="#717171"/>
<polygon points="390,173 385,189 386,190 433,202 519,196 531,194 400,160" fill="#737373" stroke="#737373"/>
<polygon points="6,219 8,196 -147,228 5,220" fill="#5e5e5e" stroke="#5e5e5e"/>
<polygon points="22,195 9,195 8,196 6,219 24,220" fill="#606060" stroke="#606060"/>
<polygon points="22,195 24,220 31,226 50,216 34,190" fill="#757575" stroke="#757575"/>
<polygon points="53,182 35,188 34,190 50,216 54,218 76,205 76,203 69,186" fill="#7d7d7d" stroke="#7d7d7d"/>
<polygon points="105,181 76,203 76,205 80,208 105,217 113,213" fill="#656565" stroke="#656565"/>
<polygon points="107,175 127,186 128,188 123,214 113,213 105,181 106,175" fill="#5c5c5c" stroke="#5c5c5c"/>
<polygon points="128,188 151,187 154,192 146,215 142,221 140,221 123,214" fill="#636363" stroke="#636363"/>
<polygon points="146,215 178,214 185,194 181,192 154,192" fill="#676767" stroke="#676767"/>
<polygon points="184,231 178,214 185,194 200,193 206,217 188,232" fill="#666666" stroke="#666666"/>
<polygon points="206,217 218,225 237,217 240,201 236,197 209,185 200,193" fill="#5f5f5f" stroke="#5f5f5f"/>
<polygon points="271,210 264,198 240,201 237,217 244,228 264,230" fill="#818181" stroke="#818181"/>
<polygon points="286,214 298,195 268,191 264,198 271,210" fill="#5a5a5a" stroke="#5a5a5a"/>
<polygon points="294,227 305,228 314,212 308,194 306,192 304,191 298,195 286,214" fill="#797979" stroke="#797979"/>
<polygon points="308,194 343,193 343,215 314,212" fill="#787878" stroke="#787878"/>
<polygon points="343,216 343,215 343,193 345,188 362,186 371,190 362,217" fill="#656565" stroke="#656565"/>
<polygon points="362,217 371,190 385,189 386,190 388,218 375,224" fill="#5e5e5e" stroke="#5e5e5e"/>
<polygon points="388,218 390,219 433,202 386,190" fill="#6c6c6c" stroke="#6c6c6c"/>
<polygon points="-173,232 -147,228 5,220 9,242" fill="#5e5e5e" stroke="#5e5e5e"/>
<polygon points="17,248 23,249 31,226 24,220 6,219 5,220 9,242" fill="#5a5a5a" stroke="#5a5a5a"/>
<polygon points="28,254 23,249 31,226 50,216 54,218 61,244" fill="#868686" stroke="#868686"/>
<polygon points="64,246 78,245 81,244 80,208 76,205 54,218 61,244" fill="#5a5a5a" stroke="#5a5a5a"/>
<polygon points="100,241 81,244 80,208 105,217" fill="#5a5a5a" stroke="#5a5a5a"/>
<polygon points="123,214 140,221 135,241 127,250 101,242 100,241 105,217 113,213" fill="#5e5e5e" stroke="#5e5e5e"/>
<polygon points="140,221 135,241 158,258 169,252 171,240 142,221" fill="#7a7a7a" stroke="#7a7a7a"/>
<polygon points="142,221 171,240 184,231 178,214 146,215" fill="#818181" stroke="#818181"/>
<polygon points="207,254 188,232 206,217 218,225 216,245" fill="#818181" stroke="#818181"/>
<polygon points="216,245 218,225 237,217 244,228 239,247" fill="#5c5c5c" stroke="#5c5c5c"/>
<polygon points="270,240 270,243 243,253 239,247 244,228 264,230" fill="#757575" stroke="#757575"/>
<polygon points="294,227 285,235 270,240 264,230 271,210 286,214" fill="#737373" stroke="#737373"/>
<polygon points="294,227 305,228 317,247 297,262 285,235" fill="#7f7f7f" stroke="#7f7f7f"/>
<polygon points="341,229 317,248 317,247 305,228 314,212 343,215 343,216" fill="#7c7c7c" stroke="#7c7c7c"/>
<polygon points="341,229 357,248 367,246 372,242 375,224 362,217 343,216" fill="#6c6c6c" stroke="#6c6c6c"/>
<polygon points="372,242 400,251 404,239 390,219 388,218 375,224" fill="#707070" stroke="#707070"/>
<polygon points="404,239 519,196 433,202 390,219" fill="#666666" stroke="#666666"/>
<polygon points="-173,232 9,242 17,248 -3,266 -481,254" fill="#767676" stroke="#767676"/>
<polygon points="31,266 29,276 6,279 -3,266 17,248 23,249 28,254" fill="#777777" stroke="#777777"/>
<polygon points="31,266 61,269 64,246 61,244 28,254" fill="#707070" stroke="#707070"/>
<polygon points="61,269 62,271 86,269 78,245 64,246" fill="#848484" stroke="#848484"/>
<polygon points="100,241 81,244 78,245 86,269 95,277 101,276 101,242" fill="#797979" stroke="#797979"/>
<polygon points="127,250 126,258 105,277 101,276 101,242" fill="#7d7d7d" stroke="#7d7d7d"/>
<polygon points="127,250 126,258 141,274 150,274 158,258 135,241" fill="#686868" stroke="#686868"/>
<polygon points="169,252 188,270 173,283 155,280 150,274 158,258" fill="#7a7a7a" stroke="#7a7a7a"/>
<polygon points="169,252 171,240 184,231 188,232 207,254 205,266 201,270 188,270" fill="#656565" stroke="#656565"/>
<polygon points="205,266 244,270 243,253 239,247 216,245 207,254" fill="#878787" stroke="#878787"/>
<polygon points="270,243 243,253 244,270 247,274 264,276 276,268" fill="#686868" stroke="#686868"/>
<polygon points="285,235 297,262 292,269 291,269 276,268 270,243 270,240" fill="#7b7b7b" stroke="#7b7b7b"/>
<polygon points="328,259 317,248 317,247 297,262 292,269 317,281" fill="#5a5a5a" stroke="#5a5a5a"/>
<polygon points="341,229 317,248 328,259 343,266 347,266 357,248" fill="#626262" stroke="#626262"/>
<polygon points="367,246 379,269 365,283 347,266 357,248" fill="#5b5b5b" stroke="#5b5b5b"/>
<polygon points="367,246 379,269 402,266 400,251 372,242" fill="#676767" stroke="#676767"/>
<polygon points="31,266 29,276 52,340 59,324 62,271 61,269" fill="#656565" stroke="#656565"/>
<polygon points="62,271 59,324 95,277 86,269" fill="#5c5c5c" stroke="#5c5c5c"/>
<polygon points="141,274 126,258 105,277 122,295" fill="#707070" stroke="#707070"/>
<polygon points="155,280 134,369 122,295 141,274 150,274" fill="#616161" stroke="#616161"/>
<polygon points="188,270 201,270 218,325 206,524 173,283" fill="#838383" stroke="#838383"/>
<polygon points="218,325 247,274 244,270 205,266 201,270" fill="#808080" stroke="#808080"/>
<polygon points="276,268 264,276 342,698 342,662 329,485 291,269" fill="#808080" stroke="#808080"/>
<polygon points="326,301 329,485 291,269 292,269 317,281" fill="#707070" stroke="#707070"/>
<polygon points="343,266 326,301 317,281 328,259" fill="#838383" stroke="#838383"/>
<polygon points="343,266 347,266 365,283 370,360 342,662 329,485 326,301" fill="#646464" stroke="#646464"/>
<polygon points="402,266 404,268 370,360 365,283 379,269" fill="#676767" stroke="#676767"/>
<path d="M-36 13L2 -6M2 -6L19 -3M6 279L29 276M52 340L29 276M105 277L126 258M105 277L122 295M126 258L141 274M122 295L141 274M484 0L400 23M391 8L403 -7M338 -257L346 4M302 -42L316 5M316 5L344 6M344 6L346 4M346 4L375 -2M404 268L370 360M433 202L390 219M323 108L312 117M331 110L333 135M312 117L315 140M315 140L333 135M340 141L333 135M312 143L316 158M312 143L315 140M316 158L328 166M328 166L335 167M342 106L331 110M342 106L361 115M340 141L366 134M366 134L361 115M652 79L399 129M432 80L397 116M397 116L399 129M432 80L398 86M397 116L391 107M398 86L391 107M400 23L396 29M396 29L404 52M185 194L200 193M185 194L178 214M200 193L206 217M206 217L188 232M178 214L184 231M188 232L184 231M240 201L236 197M240 201L237 217M236 197L209 185M209 185L200 193M237 217L218 225M218 225L206 217M-196 151L1 141M1 141L5 164M-2 169L5 164M-8 108L5 137M5 137L1 141M5 137L22 136M22 136L22 161M22 161L5 164M150 -47L122 -2M107 -8L122 -2M57 -59L86 1M86 1L87 1M107 -8L87 1M168 134L160 162M160 162L175 168M175 168L184 162M209 185L210 166M184 162L210 166M-147 228L5 220M-147 228L8 196M8 196L6 219M5 220L6 219M101 276L105 277M101 276L95 277M95 277L59 324M244 270L243 253M237 217L244 228M244 228L239 247M247 274L244 270M247 274L218 325M205 266L201 270M201 270L218 325M247 274L264 276M264 276L342 698M390 219L388 218M386 190L388 218M286 138L283 164M286 138L312 143M316 158L291 168M283 164L291 168M329 485L291 269M243 253L270 243M276 268L270 243M343 215L314 212M343 215L343 193M343 193L308 194M314 212L308 194M336 168L345 188M336 168L335 167M328 166L306 192M308 194L306 192M291 168L304 191M306 192L304 191M370 137L391 140M370 137L362 159M362 159L365 165M391 140L400 160M400 160L390 173M366 134L370 137M361 115L372 103M399 129L391 140M336 168L362 159M362 186L365 165M362 186L371 190M385 189L390 173M531 194L400 160M369 32L348 22M396 29L371 34M369 32L371 34M398 86L389 82M372 103L372 93M372 93L389 82M-83 84L-2 44M-1 34L-2 44M57 -59L53 -4M86 1L77 12M53 -4L77 12M159 -16L130 12M122 -2L130 12M130 12L130 12M286 138L286 137M312 117L291 120M286 137L291 120M234 112L210 119M210 119L210 145M180 142L210 145M264 -3L269 -8M50 216L34 190M24 220L22 195M6 219L24 220M35 188L34 190M35 188L29 166M29 166L22 161M-2 169L9 195M9 242L-173 232M17 248L-3 266M-3 266L-481 254M23 249L31 226M5 220L9 242M6 279L-3 266M95 277L86 269M59 324L62 271M86 269L62 271M317 281L328 259M292 269L291 269M292 269L317 281M317 247L297 262M317 248L328 259M297 262L292 269M365 283L347 266M347 266L343 266M173 283L188 270M188 270L169 252M150 274L155 280M150 274L158 258M158 258L169 252M141 274L150 274M270 175L246 169M246 169L239 157M249 145L239 157M268 191L298 195M268 191L270 175M251 140L264 133M251 140L249 145M240 201L264 198M236 197L246 169M264 198L268 191M215 156L239 157M251 140L242 129M271 210L286 214M244 228L264 230M264 198L271 210M305 228L294 227M365 283L379 269M404 239L400 251M357 248L341 229M375 224L362 217M375 224L372 242M362 217L343 216M343 216L341 229M347 266L357 248M379 269L367 246M317 248L341 229M388 218L375 224M400 251L372 242M343 215L343 216M369 54L337 53M369 54L372 60M372 60L359 79M336 55L337 53M347 82L342 78M371 34L369 54M380 62L372 60M372 93L359 79M312 84L342 78M320 35L301 55M320 35L334 41M301 55L312 65M342 106L347 82M310 87L312 84M115 48L109 33M115 48L133 48M133 48L145 26M167 -6L158 25M145 26L158 25M210 119L206 116M206 116L179 121M168 134L179 121M133 48L142 61M142 61L137 80M137 80L116 83M215 21L233 17M215 21L213 51M233 17L242 27M213 51L220 54M195 48L213 51M195 48L191 29M214 21L215 21M200 87L241 84M200 87L220 54M241 84L238 72M238 72L220 54M77 171L57 151M77 171L69 186M57 151L53 182M69 186L53 182M29 166L56 149M56 149L57 151M54 218L76 205M54 218L50 216M76 203L76 205M76 203L69 186M-1 34L2 32M2 32L19 -3M43 9L33 8M19 -3L33 8M-2 44L5 58M281 -13L285 -2M285 -2L312 10M320 35L308 18M312 10L308 18M264 133L262 118M239 105L262 118M241 84L243 87M199 87L206 116M239 105L243 87M242 27L248 28M254 51L248 28M232 1L233 17M264 -3L264 22M285 -2L283 27M264 22L283 27M308 18L285 28M285 28L283 27M61 244L64 246M64 246L61 269M61 269L31 266M28 254L31 266M81 244L80 208M81 244L78 245M78 245L64 246M80 208L76 205M78 245L86 269M62 271L61 269M29 276L31 266M81 244L100 241M80 208L105 217M105 217L100 241M126 258L127 250M101 242L127 250M158 258L135 241M157 89L164 58M157 89L178 89M178 89L187 82M182 62L166 57M166 57L164 58M152 91L157 89M152 91L142 86M142 61L164 58M142 86L137 80M152 91L154 106M154 106L176 107M199 87L187 82M195 48L182 62M161 27L166 57M161 27L189 27M191 29L189 27M158 25L161 27M151 115L153 128M151 115L132 106M132 106L127 109M127 109L142 132M168 134L153 128M154 106L151 115M142 86L132 106M116 83L115 85M115 85L109 107M109 107L111 109M111 109L127 109M128 143L118 137M128 143L142 132M118 137L111 109M160 162L150 168M128 143L130 155M130 155L140 163M200 -1L209 -14M168 -6L189 5M189 27L189 5M232 1L209 -14M81 143L88 135M57 147L50 131M85 117L53 120M85 117L88 135M53 120L50 131M103 141L96 168M103 141L88 135M92 167L81 143M56 149L57 147M92 167L77 171M23 135L22 136M91 110L109 107M91 110L85 117M-8 108L5 102M4 71L6 73M6 73L5 102M23 135L13 105M13 105L5 102M91 110L77 85M80 83L77 85M104 60L94 60M254 51L267 56M285 28L287 48M267 56L287 48M301 55L291 52M181 192L154 192M150 168L151 187M178 214L146 215M154 192L146 215M171 240L142 221M146 215L142 221M6 73L32 75M32 75L33 101M53 120L49 107M65 83L49 107M49 107L33 101M30 34L30 34M258 86L265 115M258 86L267 85M285 92L285 106M243 87L258 86M262 118L265 115M267 56L267 85M291 52L280 87M113 213L105 181M127 186L128 188M127 186L107 175M106 175L107 175M105 217L113 213M140 221L123 214M76 203L105 181M151 187L128 188M96 168L106 175M140 163L127 186M130 155L107 175M24 54L35 73M24 54L33 47M53 65L54 59M5 58L24 54M32 75L35 73M30 34L33 47M65 83L53 65M80 48L59 52M80 48L85 32M59 52L55 29M85 32L77 13M77 13L58 21M94 60L80 48M109 33L85 32M77 12L77 13M43 9L58 21" fill="none" stroke="#202020" stroke-width="1.9" stroke-opacity="0.62" stroke-linecap="round"/>
</g></g></g>
<rect x="1520.4" y="1317.5" width="395.2" height="272.75" fill="#666"/>
<g clip-path="url(#cle2)"><g filter="url(#sem2)">
<rect x="1500.4" y="1297.5" width="435.2" height="312.75" fill="#666"/>
<g transform="translate(1520.4 1317.5)">
<polygon points="7,-131 -2,3 -1,6 23,-3 25,-41" fill="#767676" stroke="#767676"/>
<polygon points="55,0 25,-41 23,-3 31,10 46,6" fill="#6b6b6b" stroke="#6b6b6b"/>
<polygon points="67,1 94,-198 105,-32 94,1 67,1" fill="#848484" stroke="#848484"/>
<polygon points="99,8 94,1 105,-32 128,2 117,11" fill="#6d6d6d" stroke="#6d6d6d"/>
<polygon points="148,-2 143,-319 104,-858 94,-198 105,-32 128,2 146,1" fill="#777777" stroke="#777777"/>
<polygon points="178,-1 162,-184 143,-319 148,-2 176,2" fill="#686868" stroke="#686868"/>
<polygon points="178,-1 162,-184 196,-10" fill="#787878" stroke="#787878"/>
<polygon points="218,-4 220,-5 47,-2838 104,-858 143,-319 162,-184 196,-10" fill="#686868" stroke="#686868"/>
<polygon points="270,8 276,-4 258,-30 244,-8 252,4" fill="#848484" stroke="#848484"/>
<polygon points="276,-4 258,-30 331,-859 333,-346 308,-39 294,-10" fill="#5d5d5d" stroke="#5d5d5d"/>
<polygon points="325,-3 308,-39 294,-10 303,12" fill="#7f7f7f" stroke="#7f7f7f"/>
<polygon points="328,-2 344,-5 360,-38 333,-346 308,-39 325,-3" fill="#686868" stroke="#686868"/>
<polygon points="350,6 369,1 372,-15 360,-38 344,-5" fill="#6c6c6c" stroke="#6c6c6c"/>
<polygon points="31,12 31,10 23,-3 -1,6 -3,17 23,20" fill="#7c7c7c" stroke="#7c7c7c"/>
<polygon points="31,12 31,10 46,6 54,33 48,39" fill="#5f5f5f" stroke="#5f5f5f"/>
<polygon points="69,24 54,33 46,6 55,0 67,1 67,1 69,24" fill="#686868" stroke="#686868"/>
<polygon points="69,24 67,1 94,1 99,8 91,29" fill="#7d7d7d" stroke="#7d7d7d"/>
<polygon points="98,41 101,40 118,20 117,11 99,8 91,29" fill="#858585" stroke="#858585"/>
<polygon points="147,24 126,28 118,20 117,11 128,2 146,1" fill="#777777" stroke="#777777"/>
<polygon points="182,16 176,2 148,-2 146,1 147,24 153,33 179,23" fill="#7b7b7b" stroke="#7b7b7b"/>
<polygon points="196,17 218,0 218,-4 196,-10 178,-1 176,2 182,16" fill="#666666" stroke="#666666"/>
<polygon points="196,17 218,0 227,22 217,30 198,19" fill="#6c6c6c" stroke="#6c6c6c"/>
<polygon points="218,0 227,22 240,27 252,4 244,-8 220,-5 218,-4" fill="#6d6d6d" stroke="#6d6d6d"/>
<polygon points="240,27 252,4 270,8 274,19 244,33" fill="#666666" stroke="#666666"/>
<polygon points="289,25 282,26 274,19 270,8 276,-4 294,-10 303,12 302,13" fill="#7e7e7e" stroke="#7e7e7e"/>
<polygon points="322,25 331,24 328,-2 325,-3 303,12 302,13" fill="#5e5e5e" stroke="#5e5e5e"/>
<polygon points="328,-2 344,-5 350,6 349,24 343,29 331,24" fill="#6a6a6a" stroke="#6a6a6a"/>
<polygon points="350,6 369,1 375,15 366,24 349,24" fill="#646464" stroke="#646464"/>
<polygon points="372,-15 394,-4 396,-2 389,15 375,15 369,1" fill="#757575" stroke="#757575"/>
<polygon points="398,30 389,15 396,-2 530,19 439,34" fill="#727272" stroke="#727272"/>
<polygon points="3,45 -5,18 -111,21 -8,51" fill="#6a6a6a" stroke="#6a6a6a"/>
<polygon points="23,20 -3,17 -5,18 3,45 19,49" fill="#6e6e6e" stroke="#6e6e6e"/>
<polygon points="31,12 48,39 45,51 21,51 19,49 23,20" fill="#676767" stroke="#676767"/>
<polygon points="78,55 73,59 45,51 45,51 48,39 54,33 69,24" fill="#6f6f6f" stroke="#6f6f6f"/>
<polygon points="78,55 69,24 69,24 91,29 98,41 95,48" fill="#636363" stroke="#636363"/>
<polygon points="101,40 124,43 126,28 118,20" fill="#848484" stroke="#848484"/>
<polygon points="153,33 147,24 126,28 124,43 132,52 146,49 152,42" fill="#6c6c6c" stroke="#6c6c6c"/>
<polygon points="184,39 172,52 152,42 153,33 179,23" fill="#5e5e5e" stroke="#5e5e5e"/>
<polygon points="196,17 182,16 179,23 184,39 203,45 198,19" fill="#858585" stroke="#858585"/>
<polygon points="198,19 217,30 207,49 203,45" fill="#6c6c6c" stroke="#6c6c6c"/>
<polygon points="208,50 207,49 217,30 227,22 240,27 244,33 247,46 246,48" fill="#757575" stroke="#757575"/>
<polygon points="276,41 247,46 244,33 274,19 282,26" fill="#7f7f7f" stroke="#7f7f7f"/>
<polygon points="302,55 308,51 308,49 289,25 282,26 276,41 278,48" fill="#717171" stroke="#717171"/>
<polygon points="308,49 289,25 302,13 322,25" fill="#626262" stroke="#626262"/>
<polygon points="308,49 308,51 309,52 343,53 344,51 343,29 331,24 322,25" fill="#5f5f5f" stroke="#5f5f5f"/>
<polygon points="349,24 366,24 378,45 344,51 343,29" fill="#6e6e6e" stroke="#6e6e6e"/>
<polygon points="366,24 378,45 381,47 398,30 389,15 375,15" fill="#656565" stroke="#656565"/>
<polygon points="382,47 381,47 398,30 439,34 393,66" fill="#858585" stroke="#858585"/>
<polygon points="21,51 19,60 5,81 -12,76 -8,51 3,45 19,49" fill="#6b6b6b" stroke="#6b6b6b"/>
<polygon points="32,89 19,60 21,51 45,51 45,51 45,78" fill="#7d7d7d" stroke="#7d7d7d"/>
<polygon points="76,77 73,59 45,51 45,78 58,85" fill="#656565" stroke="#656565"/>
<polygon points="79,79 108,73 110,71 95,48 78,55 73,59 76,77" fill="#636363" stroke="#636363"/>
<polygon points="123,68 132,52 124,43 101,40 98,41 95,48 110,71 116,72" fill="#6e6e6e" stroke="#6e6e6e"/>
<polygon points="147,83 156,78 146,49 132,52 123,68" fill="#5a5a5a" stroke="#5a5a5a"/>
<polygon points="156,78 146,49 152,42 172,52 178,72 171,80" fill="#737373" stroke="#737373"/>
<polygon points="184,39 172,52 178,72 198,69 207,55 208,50 207,49 203,45" fill="#606060" stroke="#606060"/>
<polygon points="238,76 207,55 198,69 200,72 223,85" fill="#606060" stroke="#606060"/>
<polygon points="239,76 248,63 246,48 208,50 207,55 238,76" fill="#7e7e7e" stroke="#7e7e7e"/>
<polygon points="263,66 274,64 278,48 276,41 247,46 246,48 248,63" fill="#838383" stroke="#838383"/>
<polygon points="302,55 278,48 274,64 289,74" fill="#737373" stroke="#737373"/>
<polygon points="302,55 308,51 309,52 318,78 292,86 289,74" fill="#606060" stroke="#606060"/>
<polygon points="322,80 346,68 343,53 309,52 318,78" fill="#767676" stroke="#767676"/>
<polygon points="346,68 343,53 344,51 378,45 381,47 382,47 364,68 347,70" fill="#828282" stroke="#828282"/>
<polygon points="364,68 384,79 391,80 393,77 393,66 382,47" fill="#6d6d6d" stroke="#6d6d6d"/>
<polygon points="-52,100 -12,76 5,81 12,92 1,106" fill="#666666" stroke="#666666"/>
<polygon points="27,95 29,94 32,89 19,60 5,81 12,92" fill="#7c7c7c" stroke="#7c7c7c"/>
<polygon points="58,105 58,85 45,78 32,89 29,94 56,106" fill="#686868" stroke="#686868"/>
<polygon points="69,107 58,105 58,85 76,77 79,79 84,99" fill="#5a5a5a" stroke="#5a5a5a"/>
<polygon points="97,104 108,73 79,79 84,99" fill="#727272" stroke="#727272"/>
<polygon points="101,109 122,95 116,72 110,71 108,73 97,104" fill="#606060" stroke="#606060"/>
<polygon points="130,98 142,93 147,83 123,68 116,72 122,95" fill="#828282" stroke="#828282"/>
<polygon points="169,106 176,100 171,80 156,78 147,83 142,93 153,111" fill="#7e7e7e" stroke="#7e7e7e"/>
<polygon points="201,94 186,105 176,100 171,80 178,72 198,69 200,72" fill="#6e6e6e" stroke="#6e6e6e"/>
<polygon points="217,99 201,94 200,72 223,85" fill="#5c5c5c" stroke="#5c5c5c"/>
<polygon points="217,99 223,85 238,76 239,76 248,92 245,100 222,116" fill="#7e7e7e" stroke="#7e7e7e"/>
<polygon points="239,76 248,63 263,66 271,94 248,92" fill="#838383" stroke="#838383"/>
<polygon points="263,66 274,64 289,74 292,86 289,93 273,95 271,94" fill="#737373" stroke="#737373"/>
<polygon points="325,101 322,80 318,78 292,86 289,93 291,95" fill="#5a5a5a" stroke="#5a5a5a"/>
<polygon points="325,101 322,80 346,68 347,70 353,92 353,93 326,102" fill="#828282" stroke="#828282"/>
<polygon points="347,70 364,68 384,79 353,92" fill="#676767" stroke="#676767"/>
<polygon points="389,96 391,80 384,79 353,92 353,93 358,101 372,106" fill="#6e6e6e" stroke="#6e6e6e"/>
<polygon points="395,103 434,114 544,109 393,77 391,80 389,96" fill="#727272" stroke="#727272"/>
<polygon points="-111,130 9,126 1,106 -52,100 -147,126" fill="#707070" stroke="#707070"/>
<polygon points="9,126 9,127 25,126 28,124 27,95 12,92 1,106" fill="#636363" stroke="#636363"/>
<polygon points="46,125 28,124 27,95 29,94 56,106" fill="#787878" stroke="#787878"/>
<polygon points="77,133 76,134 50,130 46,125 56,106 58,105 69,107" fill="#717171" stroke="#717171"/>
<polygon points="101,109 97,104 84,99 69,107 77,133 94,125 102,114" fill="#717171" stroke="#717171"/>
<polygon points="130,122 130,98 122,95 101,109 102,114 126,127" fill="#696969" stroke="#696969"/>
<polygon points="152,112 130,122 130,98 142,93 153,111" fill="#7f7f7f" stroke="#7f7f7f"/>
<polygon points="155,123 152,112 153,111 169,106 171,132" fill="#7d7d7d" stroke="#7d7d7d"/>
<polygon points="171,132 172,134 188,130 195,121 186,105 176,100 169,106" fill="#737373" stroke="#737373"/>
<polygon points="217,99 201,94 186,105 195,121 220,124 222,116" fill="#646464" stroke="#646464"/>
<polygon points="222,116 220,124 223,128 252,129 258,121 245,100" fill="#5b5b5b" stroke="#5b5b5b"/>
<polygon points="248,92 271,94 273,95 265,118 258,121 245,100" fill="#5b5b5b" stroke="#5b5b5b"/>
<polygon points="295,113 281,126 265,118 273,95 289,93 291,95" fill="#686868" stroke="#686868"/>
<polygon points="325,101 291,95 295,113 297,115 320,119 325,112 326,102" fill="#787878" stroke="#787878"/>
<polygon points="326,102 353,93 358,101 350,120 347,120 325,112" fill="#6d6d6d" stroke="#6d6d6d"/>
<polygon points="377,122 372,135 365,135 350,120 358,101 372,106" fill="#797979" stroke="#797979"/>
<polygon points="395,103 392,119 377,122 372,106 389,96" fill="#848484" stroke="#848484"/>
<polygon points="395,103 434,114 400,127 392,119" fill="#696969" stroke="#696969"/>
<polygon points="-111,130 -5,152 4,142 9,127 9,126" fill="#7e7e7e" stroke="#7e7e7e"/>
<polygon points="25,126 29,157 28,159 4,142 9,127" fill="#818181" stroke="#818181"/>
<polygon points="50,130 48,152 47,153 29,157 25,126 28,124 46,125" fill="#636363" stroke="#636363"/>
<polygon points="76,134 77,147 48,152 50,130" fill="#727272" stroke="#727272"/>
<polygon points="105,151 79,150 77,147 76,134 77,133 94,125 106,148" fill="#606060" stroke="#606060"/>
<polygon points="106,148 94,125 102,114 126,127 127,132" fill="#858585" stroke="#858585"/>
<polygon points="132,137 146,141 155,123 152,112 130,122 126,127 127,132" fill="#7e7e7e" stroke="#7e7e7e"/>
<polygon points="155,123 146,141 148,143 167,145 172,134 171,132" fill="#747474" stroke="#747474"/>
<polygon points="177,161 173,161 167,145 172,134 188,130 193,147" fill="#717171" stroke="#717171"/>
<polygon points="206,151 215,149 222,137 223,128 220,124 195,121 188,130 193,147" fill="#7e7e7e" stroke="#7e7e7e"/>
<polygon points="223,128 252,129 261,149 245,157 222,137" fill="#6d6d6d" stroke="#6d6d6d"/>
<polygon points="266,151 283,144 281,126 265,118 258,121 252,129 261,149" fill="#818181" stroke="#818181"/>
<polygon points="302,139 297,115 295,113 281,126 283,144 288,146" fill="#7b7b7b" stroke="#7b7b7b"/>
<polygon points="302,139 297,115 320,119 321,136 317,139" fill="#757575" stroke="#757575"/>
<polygon points="325,112 347,120 335,141 321,136 320,119" fill="#707070" stroke="#707070"/>
<polygon points="343,150 365,135 350,120 347,120 335,141" fill="#747474" stroke="#747474"/>
<polygon points="377,122 372,135 380,146 381,146 394,142 400,127 392,119" fill="#606060" stroke="#606060"/>
<polygon points="400,127 394,142 431,159 660,116 544,109 434,114" fill="#757575" stroke="#757575"/>
<polygon points="-488,159 -147,126 -111,130 -5,152 5,170 4,170 -103,197" fill="#7c7c7c" stroke="#7c7c7c"/>
<polygon points="4,142 -5,152 5,170 27,161 28,159" fill="#686868" stroke="#686868"/>
<polygon points="50,182 37,183 27,161 28,159 29,157 47,153 61,175" fill="#676767" stroke="#676767"/>
<polygon points="73,176 61,175 47,153 48,152 77,147 79,150 76,173" fill="#858585" stroke="#858585"/>
<polygon points="113,173 76,173 79,150 105,151" fill="#686868" stroke="#686868"/>
<polygon points="114,174 128,165 132,137 127,132 106,148 105,151 113,173" fill="#777777" stroke="#777777"/>
<polygon points="128,165 146,166 148,143 146,141 132,137" fill="#676767" stroke="#676767"/>
<polygon points="148,143 167,145 173,161 161,172 154,172 146,166" fill="#848484" stroke="#848484"/>
<polygon points="193,173 206,151 193,147 177,161" fill="#5c5c5c" stroke="#5c5c5c"/>
<polygon points="193,173 194,175 221,169 215,149 206,151" fill="#7f7f7f" stroke="#7f7f7f"/>
<polygon points="222,137 245,157 237,174 223,170 221,169 215,149" fill="#656565" stroke="#656565"/>
<polygon points="245,184 270,176 266,151 261,149 245,157 237,174" fill="#828282" stroke="#828282"/>
<polygon points="288,146 283,144 266,151 270,176 276,180 297,175 302,172" fill="#7f7f7f" stroke="#7f7f7f"/>
<polygon points="302,139 288,146 302,172 313,171 317,139" fill="#767676" stroke="#767676"/>
<polygon points="317,139 321,136 335,141 343,150 343,159 321,175 313,171" fill="#5f5f5f" stroke="#5f5f5f"/>
<polygon points="343,150 365,135 372,135 380,146 362,169 358,168 343,159" fill="#717171" stroke="#717171"/>
<polygon points="362,169 380,146 381,146 399,179 397,181 370,181" fill="#818181" stroke="#818181"/>
<polygon points="381,146 399,179 431,159 394,142" fill="#717171" stroke="#717171"/>
<polygon points="-103,197 4,170 8,194 -71,203" fill="#6a6a6a" stroke="#6a6a6a"/>
<polygon points="12,197 8,194 4,170 5,170 27,161 37,183 36,184" fill="#848484" stroke="#848484"/>
<polygon points="42,209 54,200 50,182 37,183 36,184" fill="#5f5f5f" stroke="#5f5f5f"/>
<polygon points="77,191 73,176 61,175 50,182 54,200 67,204" fill="#676767" stroke="#676767"/>
<polygon points="114,174 114,175 91,201 77,191 73,176 76,173 113,173" fill="#6a6a6a" stroke="#6a6a6a"/>
<polygon points="91,201 114,175 126,194 124,209 94,209" fill="#828282" stroke="#828282"/>
<polygon points="114,174 114,175 126,194 142,189 154,172 146,166 128,165" fill="#5d5d5d" stroke="#5d5d5d"/>
<polygon points="154,172 142,189 157,201 169,189 161,172" fill="#6e6e6e" stroke="#6e6e6e"/>
<polygon points="193,173 194,175 194,193 173,191 169,189 161,172 173,161 177,161" fill="#5d5d5d" stroke="#5d5d5d"/>
<polygon points="194,175 194,193 198,199 209,200 223,170 221,169" fill="#5e5e5e" stroke="#5e5e5e"/>
<polygon points="245,184 243,195 222,208 209,200 223,170 237,174" fill="#6f6f6f" stroke="#6f6f6f"/>
<polygon points="245,184 243,195 255,206 266,210 276,199 276,180 270,176" fill="#7d7d7d" stroke="#7d7d7d"/>
<polygon points="300,206 297,175 276,180 276,199 298,207" fill="#7d7d7d" stroke="#7d7d7d"/>
<polygon points="313,171 321,175 324,181 313,208 300,206 297,175 302,172" fill="#676767" stroke="#676767"/>
<polygon points="343,159 358,168 340,193 324,181 321,175" fill="#757575" stroke="#757575"/>
<polygon points="362,169 370,181 365,193 347,205 340,193 358,168" fill="#6e6e6e" stroke="#6e6e6e"/>
<polygon points="370,181 397,181 398,185 379,207 365,193" fill="#5f5f5f" stroke="#5f5f5f"/>
<polygon points="-71,203 8,194 12,197 12,199 5,223 -7,230" fill="#7f7f7f" stroke="#7f7f7f"/>
<polygon points="25,232 42,228 39,217 12,199 5,223" fill="#717171" stroke="#717171"/>
<polygon points="39,217 12,199 12,197 36,184 42,209" fill="#7b7b7b" stroke="#7b7b7b"/>
<polygon points="67,204 54,200 42,209 39,217 42,228 43,228 48,229 66,218" fill="#626262" stroke="#626262"/>
<polygon points="77,191 91,201 94,209 88,221 82,223 66,218 67,204" fill="#616161" stroke="#616161"/>
<polygon points="88,221 106,238 128,219 128,218 124,209 94,209" fill="#606060" stroke="#606060"/>
<polygon points="145,222 128,218 124,209 126,194 142,189 157,201 155,218" fill="#5b5b5b" stroke="#5b5b5b"/>
<polygon points="155,218 157,201 169,189 173,191 171,222" fill="#7f7f7f" stroke="#7f7f7f"/>
<polygon points="171,222 173,191 194,193 198,199 183,226 181,227" fill="#707070" stroke="#707070"/>
<polygon points="198,199 183,226 204,234 224,218 222,208 209,200" fill="#828282" stroke="#828282"/>
<polygon points="255,206 243,195 222,208 224,218 232,228 240,228" fill="#656565" stroke="#656565"/>
<polygon points="255,206 240,228 254,234 270,226 266,210" fill="#7c7c7c" stroke="#7c7c7c"/>
<polygon points="298,207 291,223 288,227 277,231 270,226 266,210 276,199" fill="#656565" stroke="#656565"/>
<polygon points="300,206 313,208 324,220 321,225 291,223 298,207" fill="#757575" stroke="#757575"/>
<polygon points="347,205 346,212 333,219 324,220 313,208 324,181 340,193" fill="#5d5d5d" stroke="#5d5d5d"/>
<polygon points="365,193 379,207 382,224 369,230 346,212 347,205" fill="#7a7a7a" stroke="#7a7a7a"/>
<polygon points="382,224 392,226 400,223 399,188 398,185 379,207" fill="#838383" stroke="#838383"/>
<polygon points="400,223 463,231 464,230 399,188" fill="#676767" stroke="#676767"/>
<polygon points="-1,254 18,245 25,232 5,223 -7,230" fill="#5f5f5f" stroke="#5f5f5f"/>
<polygon points="43,228 42,228 25,232 18,245 33,260" fill="#7a7a7a" stroke="#7a7a7a"/>
<polygon points="66,218 48,229 60,246 77,249 82,223" fill="#777777" stroke="#777777"/>
<polygon points="82,223 77,249 78,251 98,245 106,240 106,238 88,221" fill="#737373" stroke="#737373"/>
<polygon points="106,238 128,219 130,245 118,258 106,240" fill="#707070" stroke="#707070"/>
<polygon points="145,222 128,218 128,219 130,245 150,252 150,250" fill="#616161" stroke="#616161"/>
<polygon points="145,222 150,250 178,238 181,227 171,222 155,218" fill="#5f5f5f" stroke="#5f5f5f"/>
<polygon points="178,238 181,248 197,250 206,240 204,234 183,226 181,227" fill="#7a7a7a" stroke="#7a7a7a"/>
<polygon points="218,251 230,242 232,228 224,218 204,234 206,240" fill="#838383" stroke="#838383"/>
<polygon points="244,252 253,244 254,234 240,228 232,228 230,242" fill="#6c6c6c" stroke="#6c6c6c"/>
<polygon points="271,261 279,253 277,231 270,226 254,234 253,244" fill="#7c7c7c" stroke="#7c7c7c"/>
<polygon points="310,243 288,227 277,231 279,253 292,255" fill="#7a7a7a" stroke="#7a7a7a"/>
<polygon points="310,243 288,227 291,223 321,225 313,243" fill="#636363" stroke="#636363"/>
<polygon points="313,243 321,225 324,220 333,219 342,247 339,253 316,246" fill="#7b7b7b" stroke="#7b7b7b"/>
<polygon points="342,247 367,236 369,230 346,212 333,219" fill="#6c6c6c" stroke="#6c6c6c"/>
<polygon points="382,224 392,226 395,262 369,246 367,236 369,230" fill="#7a7a7a" stroke="#7a7a7a"/>
<polygon points="392,226 395,262 396,264 463,231 400,223" fill="#7f7f7f" stroke="#7f7f7f"/>
<polygon points="-1,254 18,245 33,260 34,265 20,279 15,277 0,262 -2,255" fill="#626262" stroke="#626262"/>
<polygon points="48,229 60,246 49,266 34,265 33,260 43,228" fill="#7a7a7a" stroke="#7a7a7a"/>
<polygon points="60,246 77,249 78,251 82,271 71,277 59,275 49,266" fill="#838383" stroke="#838383"/>
<polygon points="78,251 82,271 100,278 98,245" fill="#5d5d5d" stroke="#5d5d5d"/>
<polygon points="106,240 98,245 100,278 101,278 105,277 118,265 118,258" fill="#686868" stroke="#686868"/>
<polygon points="150,265 139,270 118,265 118,258 130,245 150,252" fill="#656565" stroke="#656565"/>
<polygon points="150,250 150,252 150,265 173,275 179,269 181,248 178,238" fill="#686868" stroke="#686868"/>
<polygon points="179,269 206,268 197,250 181,248" fill="#6e6e6e" stroke="#6e6e6e"/>
<polygon points="216,270 218,251 206,240 197,250 206,268" fill="#7a7a7a" stroke="#7a7a7a"/>
<polygon points="216,270 218,273 245,267 244,252 230,242 218,251" fill="#5c5c5c" stroke="#5c5c5c"/>
<polygon points="245,267 252,271 270,264 271,261 253,244 244,252" fill="#656565" stroke="#656565"/>
<polygon points="301,271 299,281 281,284 270,264 271,261 279,253 292,255" fill="#666666" stroke="#666666"/>
<polygon points="310,243 292,255 301,271 315,264 316,246 313,243" fill="#696969" stroke="#696969"/>
<polygon points="316,246 339,253 341,259 325,271 315,264" fill="#696969" stroke="#696969"/>
<polygon points="339,253 341,259 356,272 358,271 369,246 367,236 342,247" fill="#7c7c7c" stroke="#7c7c7c"/>
<polygon points="358,271 369,246 395,262 396,264 396,264 362,273" fill="#666666" stroke="#666666"/>
<polygon points="15,277 -124,364 0,262" fill="#7b7b7b" stroke="#7b7b7b"/>
<polygon points="49,266 59,275 32,315 20,279 34,265" fill="#7c7c7c" stroke="#7c7c7c"/>
<polygon points="68,516 71,277 59,275 32,315 56,657" fill="#707070" stroke="#707070"/>
<polygon points="100,278 101,278 68,516 71,277 82,271" fill="#717171" stroke="#717171"/>
<polygon points="139,270 136,300 105,277 118,265" fill="#777777" stroke="#777777"/>
<polygon points="173,275 174,299 160,381 136,300 139,270 150,265" fill="#767676" stroke="#767676"/>
<polygon points="179,269 206,268 216,270 218,273 218,279 174,299 173,275" fill="#848484" stroke="#848484"/>
<polygon points="245,267 252,271 252,350 245,382 218,279 218,273" fill="#727272" stroke="#727272"/>
<polygon points="270,264 281,284 252,350 252,271" fill="#818181" stroke="#818181"/>
<polygon points="301,271 299,281 324,305 325,271 315,264" fill="#666666" stroke="#666666"/>
<polygon points="325,271 341,259 356,272 329,316 324,305" fill="#707070" stroke="#707070"/>
<polygon points="329,316 356,272 358,271 362,273 381,299 346,575" fill="#6b6b6b" stroke="#6b6b6b"/>
<polygon points="381,299 399,277 396,264 362,273" fill="#6f6f6f" stroke="#6f6f6f"/>
<path d="M394 -4L396 -2M396 -2L389 15M389 15L398 30M439 34L398 30M389 15L375 15M381 47L378 45M378 45L366 24M391 80L384 79M384 79L364 68M393 66L382 47M382 47L364 68M439 34L393 66M393 77L544 109M399 277L396 264M-2 3L-1 6M-111 21L-5 18M-3 17L-1 6M375 15L369 1M369 1L372 -15M344 51L343 29M343 29L349 24M369 1L350 6M349 24L350 6M360 -38L344 -5M344 -5L350 6M-5 18L3 45M-8 51L3 45M-2 3L7 -131M23 -3L-1 6M23 -3L25 -41M362 273L358 271M399 277L381 299M399 188L400 223M431 159L399 179M397 181L398 185M399 188L398 185M395 262L392 226M400 223L392 226M270 8L274 19M244 33L240 27M244 -8L252 4M276 -4L270 8M343 29L331 24M344 -5L328 -2M331 24L328 -2M308 -39L325 -3M294 -10L303 12M303 12L325 -3M325 -3L328 -2M71 277L68 516M59 275L32 315M71 277L82 271M82 271L100 278M136 300L105 277M124 43L126 28M126 28L118 20M118 20L101 40M128 2L117 11M128 2L105 -32M105 -32L94 1M94 1L99 8M117 11L99 8M126 28L147 24M128 2L146 1M118 20L117 11M146 1L147 24M143 -319L148 -2M392 226L382 224M369 246L367 236M367 236L369 230M399 179L381 146M394 142L381 146M384 79L353 92M364 68L347 70M353 92L347 70M344 51L343 53M343 53L346 68M347 70L346 68M94 -198L67 1M67 1L67 1M25 -41L55 0M23 -3L31 10M31 10L46 6M46 6L55 0M45 51L48 39M45 51L21 51M48 39L31 12M19 49L21 51M23 20L31 12M31 10L31 12M54 33L48 39M3 45L19 49M5 81L19 60M19 60L21 51M27 161L5 170M27 161L28 159M-5 152L4 142M28 159L4 142M45 51L45 51M45 51L45 78M45 78L32 89M346 212L369 230M346 212L333 219M356 272L341 259M342 247L339 253M324 305L325 271M207 49L217 30M227 22L240 27M246 48L208 50M247 46L276 41M282 26L276 41M136 300L139 270M105 277L118 265M118 265L139 270M91 29L98 41M91 29L69 24M69 24L69 24M69 24L78 55M98 41L95 48M99 8L91 29M101 40L98 41M54 33L69 24M45 51L73 59M73 59L78 55M124 43L132 52M132 52L146 49M146 49L152 42M152 42L153 33M162 -184L178 -1M196 -10L218 -4M176 2L178 -1M227 22L218 0M218 -4L218 0M340 193L347 205M340 193L358 168M347 205L365 193M365 193L370 181M324 220L313 208M324 181L313 208M324 181L340 193M379 207L365 193M397 181L370 181M394 142L400 127M309 52L318 78M346 68L322 80M318 78L322 80M27 161L37 183M47 153L61 175M47 153L29 157M37 183L50 182M29 157L28 159M61 175L50 182M29 157L25 126M5 81L12 92M73 59L76 77M45 78L58 85M58 85L76 77M110 71L95 48M108 73L79 79M76 77L79 79M222 208L224 218M222 208L209 200M224 218L204 234M204 234L183 226M209 200L198 199M270 226L266 210M266 210L255 206M232 228L240 228M243 195L255 206M279 253L277 231M279 253L271 261M277 231L270 226M254 234L253 244M281 284L270 264M232 228L230 242M230 242L244 252M271 261L270 264M315 264L301 271M315 264L316 246M316 246L313 243M292 255L310 243M292 255L301 271M299 281L301 271M325 271L315 264M339 253L316 246M321 225L313 243M279 253L292 255M277 231L288 227M288 227L310 243M321 225L291 223M291 223L288 227M302 13L322 25M289 25L308 49M331 24L322 25M303 12L302 13M282 26L289 25M308 51L308 49M274 64L278 48M278 48L302 55M289 74L302 55M276 41L278 48M308 51L302 55M318 78L292 86M292 86L289 74M100 278L98 245M130 245L128 219M128 219L106 238M106 240L106 238M98 245L106 240M179 23L184 39M203 45L198 19M203 45L184 39M198 19L196 17M153 33L179 23M176 2L182 16M218 0L196 17M207 49L203 45M217 30L198 19M207 55L198 69M172 52L178 72M198 69L178 72M324 181L321 175M358 168L343 159M321 175L343 159M347 120L350 120M347 120L335 141M365 135L350 120M365 135L343 150M335 141L343 150M380 146L372 135M365 135L372 135M343 159L343 150M392 119L395 103M372 106L377 122M372 106L389 96M372 135L377 122M358 101L372 106M391 80L389 96M353 93L358 101M206 240L197 250M197 250L206 268M206 268L216 270M204 234L206 240M230 242L218 251M218 273L216 270M206 268L179 269M181 248L179 269M130 245L150 252M174 299L173 275M150 265L173 275M173 275L179 269M291 95L325 101M291 95L295 113M297 115L320 119M325 112L326 102M326 102L325 101M322 80L325 101M292 86L289 93M289 93L291 95M273 95L265 118M265 118L281 126M281 126L295 113M347 120L325 112M321 136L335 141M36 184L42 209M12 197L12 199M12 199L39 217M42 209L39 217M37 183L36 184M50 182L54 200M54 200L42 209M4 170L5 170M4 170L8 194M8 194L12 197M-124 364L0 262M-124 364L15 277M1 106L9 126M1 106L-52 100M9 127L9 126M28 124L27 95M28 124L25 126M12 92L1 106M29 94L56 106M58 85L58 105M56 106L58 105M28 124L46 125M56 106L46 125M47 153L48 152M77 147L76 134M50 130L76 134M146 49L156 78M178 72L171 80M110 71L116 72M132 52L123 68M116 72L123 68M123 68L147 83M147 83L142 93M122 95L130 98M223 170L209 200M194 193L194 175M194 193L198 199M221 169L194 175M276 180L276 199M276 199L298 207M298 207L300 206M291 223L298 207M313 208L300 206M270 176L245 184M270 176L266 151M261 149L266 151M261 149L245 157M245 157L237 174M243 195L245 184M252 129L261 149M258 121L265 118M223 170L237 174M273 95L271 94M274 64L263 66M271 94L263 66M246 48L248 63M248 63L263 66M79 150L76 173M79 150L77 147M61 175L73 176M76 173L73 176M302 172L313 171M302 172L288 146M313 171L317 139M288 146L302 139M317 139L302 139M297 175L302 172M283 144L288 146M321 136L317 139M297 115L302 139M181 227L171 222M150 250L145 222M155 218L145 222M173 191L171 222M169 189L157 201M157 201L155 218M128 218L128 219M128 218L145 222M157 201L142 189M124 209L126 194M39 217L42 228M42 228L25 232M5 223L25 232M34 265L33 260M34 265L49 266M33 260L43 228M49 266L60 246M43 228L48 229M59 275L49 266M42 228L43 228M25 232L18 245M18 245L33 260M84 99L97 104M97 104L101 109M94 125L77 133M102 114L101 109M58 105L69 107M108 73L97 104M186 105L176 100M200 72L201 94M221 169L215 149M245 157L222 137M215 149L222 137M252 129L223 128M222 137L223 128M142 189L154 172M102 114L126 127M126 127L130 122M223 85L217 99M223 85L238 76M238 76L239 76M222 116L217 99M258 121L245 100M248 63L239 76M200 72L223 85M201 94L217 99M207 55L238 76M186 105L195 121M91 201L77 191M88 221L82 223M66 218L67 204M67 204L77 191M124 209L94 209M126 194L114 175M114 175L91 201M77 249L82 223M48 229L66 218M54 200L67 204M-7 230L-1 254M-2 255L-1 254M5 223L-7 230M18 245L-1 254M8 194L-71 203M4 170L-103 197M0 262L-2 255M193 147L206 151M193 147L177 161M177 161L193 173M188 130L193 147M188 130L195 121M215 149L206 151M172 134L167 145M172 134L188 130M173 161L167 145M161 172L173 161M154 172L146 166M167 145L148 143M153 111L169 106M153 111L152 112M152 112L155 123M169 106L171 132M171 132L155 123M176 100L169 106M142 93L153 111M130 122L152 112M172 134L171 132M146 141L155 123M127 132L132 137M132 137L128 165M106 148L105 151M128 165L114 174M113 173L114 174M146 141L132 137M94 125L106 148M146 166L128 165M79 150L105 151" fill="none" stroke="#202020" stroke-width="1.9" stroke-opacity="0.62" stroke-linecap="round"/>
</g></g></g>
<rect x="1520.4" y="1590.25" width="395.2" height="272.75" fill="#666"/>
<g clip-path="url(#cle3)"><g filter="url(#sem3)">
<rect x="1500.4" y="1570.25" width="435.2" height="312.75" fill="#666"/>
<g transform="translate(1520.4 1590.25)">
<polygon points="14,-36 -6,-9 3,12 19,-14" fill="#5c5c5c" stroke="#5c5c5c"/>
<polygon points="49,-1 31,1 19,-14 14,-36 33,-198 56,-26" fill="#7d7d7d" stroke="#7d7d7d"/>
<polygon points="53,5 70,8 76,-6 56,-26 49,-1" fill="#686868" stroke="#686868"/>
<polygon points="116,0 95,10 95,10 90,-10 109,-41 118,-3" fill="#737373" stroke="#737373"/>
<polygon points="118,-3 133,3 146,-10 113,-71 109,-41" fill="#6f6f6f" stroke="#6f6f6f"/>
<polygon points="203,-56 182,-4 161,-1 157,-6 210,-125" fill="#585858" stroke="#585858"/>
<polygon points="211,-9 203,-56 182,-4 190,10" fill="#747474" stroke="#747474"/>
<polygon points="224,-201 210,-125 203,-56 211,-9 216,-1 234,-3" fill="#747474" stroke="#747474"/>
<polygon points="236,-288 257,-61 257,-7 236,-1 234,-3 224,-201" fill="#7a7a7a" stroke="#7a7a7a"/>
<polygon points="257,-61 281,-3 258,-5 257,-7" fill="#6b6b6b" stroke="#6b6b6b"/>
<polygon points="236,-288 240,-355 300,-10 292,2 289,3 281,-3 257,-61" fill="#636363" stroke="#636363"/>
<polygon points="3,18 3,12 -6,-9 -319,31 -132,29" fill="#636363" stroke="#636363"/>
<polygon points="3,19 23,19 31,1 19,-14 3,12 3,18" fill="#717171" stroke="#717171"/>
<polygon points="53,5 48,22 30,26 23,19 31,1 49,-1" fill="#747474" stroke="#747474"/>
<polygon points="53,5 48,22 55,29 78,20 70,8" fill="#696969" stroke="#696969"/>
<polygon points="70,8 78,20 79,21 95,10 90,-10 76,-6" fill="#777777" stroke="#777777"/>
<polygon points="118,26 116,0 95,10 115,29" fill="#6e6e6e" stroke="#6e6e6e"/>
<polygon points="138,19 133,3 118,-3 116,0 118,26" fill="#686868" stroke="#686868"/>
<polygon points="138,19 133,3 146,-10 157,-6 161,-1 159,14 154,20 142,21" fill="#616161" stroke="#616161"/>
<polygon points="191,18 190,20 159,14 161,-1 182,-4 190,10" fill="#727272" stroke="#727272"/>
<polygon points="216,-1 211,-9 190,10 191,18 216,16" fill="#5d5d5d" stroke="#5d5d5d"/>
<polygon points="236,-1 237,18 231,24 226,24 216,16 216,-1 234,-3" fill="#686868" stroke="#686868"/>
<polygon points="236,-1 237,18 259,13 258,-5 257,-7" fill="#767676" stroke="#767676"/>
<polygon points="289,3 268,20 259,13 258,-5 281,-3" fill="#696969" stroke="#696969"/>
<polygon points="269,26 268,20 289,3 292,2 300,15 274,32" fill="#6c6c6c" stroke="#6c6c6c"/>
<polygon points="292,2 300,15 308,23 321,18 316,-6 300,-10" fill="#717171" stroke="#717171"/>
<polygon points="351,5 331,19 321,18 316,-6 326,-11 347,-4 351,4" fill="#5f5f5f" stroke="#5f5f5f"/>
<polygon points="372,3 366,1 351,4 351,5 351,6 370,33 374,32" fill="#7a7a7a" stroke="#7a7a7a"/>
<polygon points="396,32 374,32 372,3 381,4 398,28" fill="#646464" stroke="#646464"/>
<polygon points="398,28 430,11 389,-3 381,4" fill="#717171" stroke="#717171"/>
<polygon points="3,19 5,46 -132,29 3,18" fill="#696969" stroke="#696969"/>
<polygon points="3,19 23,19 30,26 30,42 16,51 7,50 5,46" fill="#666666" stroke="#666666"/>
<polygon points="30,26 30,42 48,52 52,52 55,50 55,29 48,22" fill="#666666" stroke="#666666"/>
<polygon points="78,20 55,29 55,50 60,50 81,26 79,21" fill="#767676" stroke="#767676"/>
<polygon points="94,53 97,47 81,26 60,50 61,50" fill="#7a7a7a" stroke="#7a7a7a"/>
<polygon points="115,29 95,10 95,10 79,21 81,26 97,47 112,41" fill="#5b5b5b" stroke="#5b5b5b"/>
<polygon points="121,47 112,41 115,29 118,26 138,19 142,21 136,49" fill="#6c6c6c" stroke="#6c6c6c"/>
<polygon points="136,49 139,51 155,46 161,38 154,20 142,21" fill="#6c6c6c" stroke="#6c6c6c"/>
<polygon points="188,36 190,20 159,14 154,20 161,38 185,41" fill="#5a5a5a" stroke="#5a5a5a"/>
<polygon points="216,16 191,18 190,20 188,36 215,41 226,24" fill="#6c6c6c" stroke="#6c6c6c"/>
<polygon points="234,54 244,51 243,40 231,24 226,24 215,41 218,54" fill="#595959" stroke="#595959"/>
<polygon points="231,24 243,40 269,26 268,20 259,13 237,18" fill="#595959" stroke="#595959"/>
<polygon points="249,56 244,51 243,40 269,26 274,32 277,39 273,47" fill="#707070" stroke="#707070"/>
<polygon points="274,32 300,15 308,23 302,43 277,39" fill="#585858" stroke="#585858"/>
<polygon points="304,45 324,50 337,41 331,19 321,18 308,23 302,43" fill="#707070" stroke="#707070"/>
<polygon points="351,6 351,5 331,19 337,41 342,43 355,41" fill="#616161" stroke="#616161"/>
<polygon points="370,33 362,43 355,41 351,6" fill="#7b7b7b" stroke="#7b7b7b"/>
<polygon points="396,32 397,47 376,60 368,55 362,43 370,33 374,32" fill="#6e6e6e" stroke="#6e6e6e"/>
<polygon points="5,46 7,50 -1,63 -12,70 -525,40 -319,31 -132,29" fill="#737373" stroke="#737373"/>
<polygon points="26,80 27,73 16,51 7,50 -1,63 19,81" fill="#787878" stroke="#787878"/>
<polygon points="27,73 48,52 30,42 16,51" fill="#6f6f6f" stroke="#6f6f6f"/>
<polygon points="62,77 73,68 61,50 60,50 55,50 52,52 54,64" fill="#7b7b7b" stroke="#7b7b7b"/>
<polygon points="73,68 61,50 94,53 94,69 94,69" fill="#626262" stroke="#626262"/>
<polygon points="120,74 94,69 94,53 97,47 112,41 121,47 122,71" fill="#707070" stroke="#707070"/>
<polygon points="122,71 121,47 136,49 139,51 141,64" fill="#757575" stroke="#757575"/>
<polygon points="145,69 160,75 166,67 155,46 139,51 141,64" fill="#727272" stroke="#727272"/>
<polygon points="186,60 166,67 155,46 161,38 185,41" fill="#7b7b7b" stroke="#7b7b7b"/>
<polygon points="212,64 208,68 189,63 186,60 185,41 188,36 215,41 218,54" fill="#595959" stroke="#595959"/>
<polygon points="231,70 212,64 218,54 234,54" fill="#7c7c7c" stroke="#7c7c7c"/>
<polygon points="252,71 249,56 244,51 234,54 231,70 233,73" fill="#7c7c7c" stroke="#7c7c7c"/>
<polygon points="252,72 275,76 279,71 273,47 249,56 252,71" fill="#5d5d5d" stroke="#5d5d5d"/>
<polygon points="273,47 277,39 302,43 304,45 299,65 299,66 279,71" fill="#6f6f6f" stroke="#6f6f6f"/>
<polygon points="299,65 304,45 324,50 328,67 325,70" fill="#5b5b5b" stroke="#5b5b5b"/>
<polygon points="324,50 337,41 342,43 347,70 328,67" fill="#7c7c7c" stroke="#7c7c7c"/>
<polygon points="362,43 368,55 347,70 347,70 342,43 355,41" fill="#767676" stroke="#767676"/>
<polygon points="397,47 400,49 397,72 394,73 376,60 376,60" fill="#777777" stroke="#777777"/>
<polygon points="397,72 420,84 463,77 400,49" fill="#797979" stroke="#797979"/>
<polygon points="-12,70 -525,40 -591,40 0,98 2,92" fill="#5d5d5d" stroke="#5d5d5d"/>
<polygon points="19,81 2,92 -12,70 -1,63" fill="#646464" stroke="#646464"/>
<polygon points="36,84 54,64 52,52 48,52 27,73 26,80 31,85" fill="#787878" stroke="#787878"/>
<polygon points="36,84 54,64 62,77 62,82 51,89" fill="#666666" stroke="#666666"/>
<polygon points="62,82 77,90 90,88 94,69 73,68 62,77" fill="#747474" stroke="#747474"/>
<polygon points="126,89 124,90 91,90 90,88 94,69 94,69 120,74" fill="#7c7c7c" stroke="#7c7c7c"/>
<polygon points="128,90 145,69 141,64 122,71 120,74 126,89" fill="#7e7e7e" stroke="#7e7e7e"/>
<polygon points="128,90 130,91 161,87 160,75 145,69" fill="#5b5b5b" stroke="#5b5b5b"/>
<polygon points="183,94 189,63 186,60 166,67 160,75 161,87 166,95 181,95" fill="#767676" stroke="#767676"/>
<polygon points="212,82 202,97 183,94 189,63 208,68" fill="#6d6d6d" stroke="#6d6d6d"/>
<polygon points="233,73 231,70 212,64 208,68 212,82 225,86" fill="#656565" stroke="#656565"/>
<polygon points="252,72 248,85 229,90 225,86 233,73 252,71" fill="#777777" stroke="#777777"/>
<polygon points="252,72 275,76 276,84 256,102 248,85" fill="#7d7d7d" stroke="#7d7d7d"/>
<polygon points="304,82 299,66 279,71 275,76 276,84 284,92 298,92" fill="#707070" stroke="#707070"/>
<polygon points="304,82 299,66 299,65 325,70 322,84" fill="#686868" stroke="#686868"/>
<polygon points="322,84 325,70 328,67 347,70 347,70 351,83 347,89 328,95" fill="#5f5f5f" stroke="#5f5f5f"/>
<polygon points="376,60 376,60 373,86 351,83 347,70 368,55" fill="#717171" stroke="#717171"/>
<polygon points="376,60 394,73 384,88 374,87 373,86" fill="#5d5d5d" stroke="#5d5d5d"/>
<polygon points="394,73 384,88 399,96 420,84 397,72" fill="#737373" stroke="#737373"/>
<polygon points="3,115 5,113 0,98 -591,40 -3518,23 -1206,109" fill="#6a6a6a" stroke="#6a6a6a"/>
<polygon points="29,106 6,113 5,113 0,98 2,92 19,81 26,80 31,85" fill="#7e7e7e" stroke="#7e7e7e"/>
<polygon points="41,115 54,104 51,89 36,84 31,85 29,106" fill="#777777" stroke="#777777"/>
<polygon points="54,104 67,106 77,90 62,82 51,89" fill="#717171" stroke="#717171"/>
<polygon points="67,106 77,90 90,88 91,90 96,106 90,114 71,116" fill="#6a6a6a" stroke="#6a6a6a"/>
<polygon points="96,106 91,90 124,90 107,110" fill="#747474" stroke="#747474"/>
<polygon points="128,90 130,91 138,114 135,117 116,120 107,110 124,90 126,89" fill="#5d5d5d" stroke="#5d5d5d"/>
<polygon points="130,91 138,114 155,115 156,113 166,95 161,87" fill="#6c6c6c" stroke="#6c6c6c"/>
<polygon points="181,95 166,95 156,113 183,116 184,115" fill="#7b7b7b" stroke="#7b7b7b"/>
<polygon points="183,94 202,97 210,115 208,121 184,115 181,95" fill="#6e6e6e" stroke="#6e6e6e"/>
<polygon points="225,86 212,82 202,97 210,115 231,106 229,90" fill="#676767" stroke="#676767"/>
<polygon points="248,85 256,102 256,106 252,108 239,110 231,106 229,90" fill="#6e6e6e" stroke="#6e6e6e"/>
<polygon points="256,102 276,84 284,92 278,118 256,106" fill="#767676" stroke="#767676"/>
<polygon points="298,92 284,92 278,118 279,119 306,106" fill="#585858" stroke="#585858"/>
<polygon points="304,82 322,84 328,95 321,112 306,106 298,92" fill="#676767" stroke="#676767"/>
<polygon points="328,95 347,89 355,112 343,120 324,116 321,114 321,112" fill="#717171" stroke="#717171"/>
<polygon points="351,83 347,89 355,112 366,114 371,109 374,87 373,86" fill="#7b7b7b" stroke="#7b7b7b"/>
<polygon points="374,87 384,88 399,96 396,112 371,109" fill="#5f5f5f" stroke="#5f5f5f"/>
<polygon points="396,112 399,96 420,84 463,77 580,86 397,114" fill="#7e7e7e" stroke="#7e7e7e"/>
<polygon points="-13,138 -65,159 -1206,109 3,115" fill="#747474" stroke="#747474"/>
<polygon points="-13,138 -3,141 15,137 16,133 6,113 5,113 3,115" fill="#696969" stroke="#696969"/>
<polygon points="41,115 42,122 39,127 16,133 6,113 29,106" fill="#696969" stroke="#696969"/>
<polygon points="41,115 42,122 65,132 71,116 67,106 54,104" fill="#7d7d7d" stroke="#7d7d7d"/>
<polygon points="65,132 68,140 92,135 90,114 71,116" fill="#636363" stroke="#636363"/>
<polygon points="96,137 111,131 116,120 107,110 96,106 90,114 92,135" fill="#5f5f5f" stroke="#5f5f5f"/>
<polygon points="111,131 123,146 134,128 135,117 116,120" fill="#6e6e6e" stroke="#6e6e6e"/>
<polygon points="155,115 165,134 159,144 145,144 134,128 135,117 138,114" fill="#797979" stroke="#797979"/>
<polygon points="155,115 165,134 176,134 183,116 156,113" fill="#616161" stroke="#616161"/>
<polygon points="208,121 209,127 208,128 187,139 176,134 183,116 184,115" fill="#5a5a5a" stroke="#5a5a5a"/>
<polygon points="239,110 231,106 210,115 208,121 209,127 232,135 235,135" fill="#727272" stroke="#727272"/>
<polygon points="239,110 235,135 250,140 252,138 252,108" fill="#6c6c6c" stroke="#6c6c6c"/>
<polygon points="252,108 256,106 278,118 279,119 279,124 252,138" fill="#777777" stroke="#777777"/>
<polygon points="306,106 279,119 279,124 283,129 295,131 321,114 321,112" fill="#676767" stroke="#676767"/>
<polygon points="321,114 324,116 322,131 304,140 295,131" fill="#5e5e5e" stroke="#5e5e5e"/>
<polygon points="324,116 322,131 327,145 350,148 351,146 343,120" fill="#787878" stroke="#787878"/>
<polygon points="366,114 373,135 371,138 351,146 343,120 355,112" fill="#606060" stroke="#606060"/>
<polygon points="371,109 396,112 397,114 398,128 373,135 366,114" fill="#606060" stroke="#606060"/>
<polygon points="398,128 405,135 868,97 580,86 397,114" fill="#595959" stroke="#595959"/>
<polygon points="5,157 -3,141 -13,138 -65,159 -51,163 -2,165" fill="#7f7f7f" stroke="#7f7f7f"/>
<polygon points="5,157 -3,141 15,137 19,150" fill="#737373" stroke="#737373"/>
<polygon points="23,152 38,150 39,127 16,133 15,137 19,150" fill="#747474" stroke="#747474"/>
<polygon points="42,122 39,127 38,150 48,156 66,151 68,140 65,132" fill="#6f6f6f" stroke="#6f6f6f"/>
<polygon points="96,137 99,150 84,161 72,160 66,151 68,140 92,135" fill="#656565" stroke="#656565"/>
<polygon points="96,137 99,150 113,160 124,151 123,146 111,131" fill="#717171" stroke="#717171"/>
<polygon points="124,151 132,153 145,144 134,128 123,146" fill="#707070" stroke="#707070"/>
<polygon points="132,153 145,144 159,144 162,163 138,162" fill="#7f7f7f" stroke="#7f7f7f"/>
<polygon points="159,144 165,134 176,134 187,139 190,159 164,166 162,163" fill="#5c5c5c" stroke="#5c5c5c"/>
<polygon points="204,162 213,159 208,128 187,139 190,159 195,163" fill="#626262" stroke="#626262"/>
<polygon points="232,135 222,161 213,159 208,128 209,127" fill="#616161" stroke="#616161"/>
<polygon points="250,140 251,144 234,172 233,171 222,161 232,135 235,135" fill="#686868" stroke="#686868"/>
<polygon points="250,140 251,144 271,160 281,158 283,129 279,124 252,138" fill="#727272" stroke="#727272"/>
<polygon points="296,159 305,151 304,140 295,131 283,129 281,158 283,160" fill="#5a5a5a" stroke="#5a5a5a"/>
<polygon points="321,153 327,145 322,131 304,140 305,151" fill="#666666" stroke="#666666"/>
<polygon points="327,176 347,158 350,151 350,148 327,145 321,153 324,173" fill="#7b7b7b" stroke="#7b7b7b"/>
<polygon points="350,151 371,169 380,153 371,138 351,146 350,148" fill="#616161" stroke="#616161"/>
<polygon points="373,135 371,138 380,153 397,157 401,153 405,135 398,128" fill="#616161" stroke="#616161"/>
<polygon points="3,196 -3,195 -51,163 -2,165 12,181" fill="#707070" stroke="#707070"/>
<polygon points="12,181 -2,165 5,157 19,150 23,152 22,178" fill="#5c5c5c" stroke="#5c5c5c"/>
<polygon points="30,181 42,176 48,156 38,150 23,152 22,178" fill="#595959" stroke="#595959"/>
<polygon points="70,180 72,160 66,151 48,156 42,176 52,181" fill="#747474" stroke="#747474"/>
<polygon points="71,181 93,184 100,179 84,161 72,160 70,180" fill="#656565" stroke="#656565"/>
<polygon points="111,178 113,160 99,150 84,161 100,179" fill="#585858" stroke="#585858"/>
<polygon points="117,183 136,173 138,162 132,153 124,151 113,160 111,178" fill="#585858" stroke="#585858"/>
<polygon points="136,173 138,162 162,163 164,166 162,179 150,180" fill="#7b7b7b" stroke="#7b7b7b"/>
<polygon points="192,188 189,190 165,185 162,179 164,166 190,159 195,163" fill="#777777" stroke="#777777"/>
<polygon points="211,180 204,162 195,163 192,188 204,189" fill="#7b7b7b" stroke="#7b7b7b"/>
<polygon points="211,180 233,171 222,161 213,159 204,162" fill="#6a6a6a" stroke="#6a6a6a"/>
<polygon points="238,179 234,172 251,144 271,160 255,181" fill="#6d6d6d" stroke="#6d6d6d"/>
<polygon points="255,181 271,160 281,158 283,160 287,186 261,189" fill="#595959" stroke="#595959"/>
<polygon points="296,159 307,172 295,189 291,190 287,186 283,160" fill="#6b6b6b" stroke="#6b6b6b"/>
<polygon points="296,159 305,151 321,153 324,173 307,172" fill="#6f6f6f" stroke="#6f6f6f"/>
<polygon points="327,176 347,158 354,175 345,183 327,176" fill="#767676" stroke="#767676"/>
<polygon points="373,178 371,169 350,151 347,158 354,175" fill="#7e7e7e" stroke="#7e7e7e"/>
<polygon points="373,179 396,173 397,157 380,153 371,169 373,178" fill="#646464" stroke="#646464"/>
<polygon points="398,175 486,189 401,153 397,157 396,173" fill="#6b6b6b" stroke="#6b6b6b"/>
<polygon points="-65,159 -51,163 -3,195 -29,223 -284,232 -54309,-962 -3518,23 -1206,109" fill="#797979" stroke="#797979"/>
<polygon points="33,196 30,181 22,178 12,181 3,196 7,202 29,200" fill="#666666" stroke="#666666"/>
<polygon points="45,202 33,196 30,181 42,176 52,181 52,200" fill="#616161" stroke="#616161"/>
<polygon points="52,200 52,181 70,180 71,181 69,200 63,203" fill="#5e5e5e" stroke="#5e5e5e"/>
<polygon points="71,181 93,184 89,208 69,200" fill="#7d7d7d" stroke="#7d7d7d"/>
<polygon points="93,213 91,212 89,208 93,184 100,179 111,178 117,183 121,196 111,206" fill="#595959" stroke="#595959"/>
<polygon points="117,183 136,173 150,180 129,200 121,196" fill="#5a5a5a" stroke="#5a5a5a"/>
<polygon points="141,213 129,200 150,180 162,179 165,185 158,204" fill="#6c6c6c" stroke="#6c6c6c"/>
<polygon points="189,190 165,185 158,204 171,215 189,205" fill="#5f5f5f" stroke="#5f5f5f"/>
<polygon points="204,189 222,201 204,216 194,211 189,205 189,190 192,188" fill="#696969" stroke="#696969"/>
<polygon points="227,201 222,201 204,189 211,180 233,171 234,172 238,179" fill="#666666" stroke="#666666"/>
<polygon points="232,209 257,205 262,199 261,189 255,181 238,179 227,201" fill="#727272" stroke="#727272"/>
<polygon points="262,199 281,214 287,210 291,190 287,186 261,189" fill="#717171" stroke="#717171"/>
<polygon points="295,189 312,196 306,214 287,210 291,190" fill="#5c5c5c" stroke="#5c5c5c"/>
<polygon points="307,172 324,173 327,176 327,176 322,192 312,196 295,189" fill="#787878" stroke="#787878"/>
<polygon points="327,176 345,183 353,202 334,208 322,192" fill="#7f7f7f" stroke="#7f7f7f"/>
<polygon points="372,193 373,179 373,178 354,175 345,183 353,202 354,202" fill="#656565" stroke="#656565"/>
<polygon points="385,204 398,195 398,175 396,173 373,179 372,193" fill="#6d6d6d" stroke="#6d6d6d"/>
<polygon points="602,219 486,189 398,175 398,195 500,216" fill="#7e7e7e" stroke="#7e7e7e"/>
<polygon points="7,202 9,221 -1,230 -29,223 -3,195 3,196" fill="#757575" stroke="#757575"/>
<polygon points="29,200 7,202 9,221 26,222" fill="#5e5e5e" stroke="#5e5e5e"/>
<polygon points="45,202 33,196 29,200 26,222 36,228 41,227" fill="#5b5b5b" stroke="#5b5b5b"/>
<polygon points="45,202 41,227 46,229 60,230 63,203 52,200" fill="#787878" stroke="#787878"/>
<polygon points="63,203 69,200 89,208 91,212 62,232 60,230" fill="#797979" stroke="#797979"/>
<polygon points="99,232 93,213 111,206 121,230 110,236" fill="#686868" stroke="#686868"/>
<polygon points="111,206 121,196 129,200 141,213 141,216 128,230 121,230" fill="#737373" stroke="#737373"/>
<polygon points="171,219 156,236 141,216 141,213 158,204 171,215" fill="#686868" stroke="#686868"/>
<polygon points="189,205 171,215 171,219 182,230 194,211" fill="#707070" stroke="#707070"/>
<polygon points="206,227 192,238 185,238 182,230 194,211 204,216 206,227" fill="#6b6b6b" stroke="#6b6b6b"/>
<polygon points="206,227 204,216 222,201 227,201 232,209 234,219 230,228" fill="#656565" stroke="#656565"/>
<polygon points="232,209 234,219 255,226 255,226 257,205" fill="#606060" stroke="#606060"/>
<polygon points="275,222 255,226 257,205 262,199 281,214 280,215" fill="#626262" stroke="#626262"/>
<polygon points="280,215 281,214 287,210 306,214 313,223 299,238" fill="#797979" stroke="#797979"/>
<polygon points="322,192 334,208 328,225 313,223 306,214 312,196" fill="#676767" stroke="#676767"/>
<polygon points="361,225 352,233 331,230 328,225 334,208 353,202 354,202" fill="#777777" stroke="#777777"/>
<polygon points="386,209 367,226 361,225 354,202 372,193 385,204" fill="#727272" stroke="#727272"/>
<polygon points="390,236 398,223 386,209 367,226 376,235" fill="#7b7b7b" stroke="#7b7b7b"/>
<polygon points="386,209 398,223 500,216 398,195 385,204" fill="#727272" stroke="#727272"/>
<polygon points="-23,260 -284,232 -29,223 -1,230 3,248" fill="#616161" stroke="#616161"/>
<polygon points="36,228 29,244 8,252 7,251 3,248 -1,230 9,221 26,222" fill="#747474" stroke="#747474"/>
<polygon points="41,227 36,228 29,244 40,265 43,264 46,229" fill="#7f7f7f" stroke="#7f7f7f"/>
<polygon points="60,230 62,232 69,244 68,248 44,264 43,264 46,229" fill="#626262" stroke="#626262"/>
<polygon points="91,240 69,244 62,232 91,212 93,213 99,232" fill="#777777" stroke="#777777"/>
<polygon points="95,252 114,252 110,236 99,232 91,240" fill="#797979" stroke="#797979"/>
<polygon points="114,252 115,253 136,258 138,257 139,256 128,230 121,230 110,236" fill="#7f7f7f" stroke="#7f7f7f"/>
<polygon points="128,230 141,216 156,236 158,246 139,256" fill="#5f5f5f" stroke="#5f5f5f"/>
<polygon points="175,247 166,249 158,246 156,236 171,219 182,230 185,238" fill="#7c7c7c" stroke="#7c7c7c"/>
<polygon points="206,227 192,238 207,259 219,252" fill="#5b5b5b" stroke="#5b5b5b"/>
<polygon points="206,227 219,252 232,250 230,228 206,227" fill="#606060" stroke="#606060"/>
<polygon points="230,228 234,219 255,226 254,245 236,252 232,250" fill="#676767" stroke="#676767"/>
<polygon points="275,222 255,226 255,226 254,245 257,247 276,244" fill="#7e7e7e" stroke="#7e7e7e"/>
<polygon points="275,222 276,244 286,250 297,245 299,238 280,215" fill="#616161" stroke="#616161"/>
<polygon points="297,245 308,252 326,253 331,230 328,225 313,223 299,238" fill="#747474" stroke="#747474"/>
<polygon points="356,249 352,233 331,230 326,253 329,258 348,257" fill="#636363" stroke="#636363"/>
<polygon points="376,235 367,226 361,225 352,233 356,249 368,253" fill="#7f7f7f" stroke="#7f7f7f"/>
<polygon points="390,236 376,235 368,253 374,260 389,253 392,244" fill="#656565" stroke="#656565"/>
<polygon points="390,236 398,223 500,216 602,219 779,241 469,261 392,244" fill="#606060" stroke="#606060"/>
<polygon points="-6,276 7,251 3,248 -23,260" fill="#646464" stroke="#646464"/>
<polygon points="-6,276 -5,281 24,280 25,277 8,252 7,251" fill="#646464" stroke="#646464"/>
<polygon points="40,265 29,244 8,252 25,277 32,273" fill="#737373" stroke="#737373"/>
<polygon points="68,284 44,264 68,248 78,268" fill="#666666" stroke="#666666"/>
<polygon points="95,252 92,268 78,268 68,248 69,244 91,240" fill="#727272" stroke="#727272"/>
<polygon points="95,252 92,268 94,268 106,267 115,253 114,252" fill="#717171" stroke="#717171"/>
<polygon points="115,253 136,258 127,278 120,280 106,267" fill="#717171" stroke="#717171"/>
<polygon points="139,256 158,246 166,249 170,271 158,284 138,257" fill="#777777" stroke="#777777"/>
<polygon points="175,247 166,249 170,271 191,275 198,269" fill="#6b6b6b" stroke="#6b6b6b"/>
<polygon points="192,238 185,238 175,247 198,269 203,267 207,259" fill="#606060" stroke="#606060"/>
<polygon points="219,252 207,259 203,267 215,280 239,271 236,252 232,250" fill="#6f6f6f" stroke="#6f6f6f"/>
<polygon points="236,252 239,271 240,272 252,275 263,265 257,247 254,245" fill="#767676" stroke="#767676"/>
<polygon points="276,244 257,247 263,265 281,271 283,269 286,250" fill="#787878" stroke="#787878"/>
<polygon points="297,245 308,252 304,275 283,269 286,250" fill="#747474" stroke="#747474"/>
<polygon points="308,252 326,253 329,258 327,276 319,282 308,279 304,275" fill="#6a6a6a" stroke="#6a6a6a"/>
<polygon points="348,257 329,258 327,276 348,285 354,273" fill="#767676" stroke="#767676"/>
<polygon points="368,253 356,249 348,257 354,273 367,270 374,262 374,260" fill="#616161" stroke="#616161"/>
<polygon points="389,253 408,270 391,283 374,262 374,260" fill="#7d7d7d" stroke="#7d7d7d"/>
<polygon points="392,244 469,261 408,270 389,253" fill="#797979" stroke="#797979"/>
<polygon points="32,273 25,277 24,280 63,567 76,400 67,297" fill="#5d5d5d" stroke="#5d5d5d"/>
<polygon points="68,284 67,297 32,273 40,265 43,264 44,264" fill="#626262" stroke="#626262"/>
<polygon points="68,284 67,297 76,400 102,303 94,268 92,268 78,268" fill="#686868" stroke="#686868"/>
<polygon points="94,268 102,303 120,280 106,267" fill="#595959" stroke="#595959"/>
<polygon points="138,257 158,284 154,305 127,278 136,258" fill="#5a5a5a" stroke="#5a5a5a"/>
<polygon points="170,271 158,284 154,305 176,436 191,275" fill="#7d7d7d" stroke="#7d7d7d"/>
<polygon points="203,267 198,269 191,275 176,436 212,879 230,631 227,389 215,280" fill="#646464" stroke="#646464"/>
<polygon points="215,280 227,389 240,272 239,271" fill="#7f7f7f" stroke="#7f7f7f"/>
<polygon points="240,272 227,389 230,631 273,314 272,301 252,275" fill="#6c6c6c" stroke="#6c6c6c"/>
<polygon points="281,271 272,301 252,275 263,265" fill="#686868" stroke="#686868"/>
<polygon points="283,269 304,275 308,279 273,314 272,301 281,271" fill="#777777" stroke="#777777"/>
<polygon points="354,273 348,285 373,339 377,321 367,270" fill="#737373" stroke="#737373"/>
<polygon points="367,270 377,321 391,283 374,262" fill="#5e5e5e" stroke="#5e5e5e"/>
<path d="M430 11L389 -3M-51 163L-3 195M-3 195L-29 223M0 98L-591 40M5 113L3 115M-3 141L-13 138M5 113L6 113M6 113L16 133M15 137L16 133M401 153L397 157M397 157L396 173M396 173L398 175M371 169L380 153M371 138L351 146M351 146L350 148M350 148L350 151M398 195L398 175M322 131L327 145M322 131L324 116M351 146L343 120M343 120L324 116M580 86L397 114M405 135L398 128M397 114L398 128M399 96L420 84M399 96L396 112M397 114L396 112M371 138L373 135M398 128L373 135M39 127L16 133M39 127L38 150M15 137L19 150M38 150L23 152M19 150L23 152M-3 141L5 157M19 150L5 157M3 248L7 251M3 248L-23 260M7 251L-6 276M-29 223L-1 230M-5 281L-6 276M8 252L7 251M-6 -9L3 12M0 98L2 92M145 144L132 153M145 144L159 144M162 163L159 144M162 163L138 162M138 162L132 153M164 166L162 163M165 134L159 144M176 134L187 139M162 179L150 180M162 179L164 166M138 162L136 173M150 180L136 173M134 128L145 144M134 128L135 117M135 117L138 114M165 134L155 115M183 116L176 134M183 116L156 113M129 200L141 213M158 204L141 213M347 158L350 151M347 158L354 175M354 175L373 178M396 173L373 179M322 131L304 140M304 140L305 151M327 145L321 153M305 151L321 153M327 276L348 285M391 283L408 270M373 135L366 114M396 112L371 109M366 114L371 109M399 96L384 88M384 88L374 87M371 109L374 87M463 77L400 49M420 84L397 72M400 49L397 72M156 236L171 219M158 204L171 215M141 213L141 216M191 275L170 271M182 230L194 211M182 230L171 219M171 215L189 205M194 211L189 205M189 205L189 190M157 -6L161 -1M161 -1L182 -4M166 67L155 46M161 38L155 46M161 38L185 41M185 41L186 60M159 14L190 20M159 14L154 20M190 20L188 36M185 41L188 36M190 20L191 18M182 -4L190 10M190 10L191 18M190 10L211 -9M326 -11L347 -4M22 178L12 181M48 156L42 176M42 176L30 181M-3 195L3 196M12 181L3 196M9 221L-1 230M9 221L7 202M3 196L7 202M55 29L78 20M81 26L79 21M79 21L78 20M30 42L30 26M30 42L48 52M48 52L52 52M52 52L55 50M55 29L48 22M48 22L30 26M-1 63L19 81M-1 63L7 50M16 51L7 50M16 51L27 73M19 81L26 80M2 92L19 81M30 42L16 51M48 52L27 73M-132 29L5 46M-132 29L3 18M5 46L3 19M7 50L5 46M23 19L30 26M19 -14L31 1M23 19L31 1M97 47L94 53M60 50L61 50M61 50L94 53M95 10L116 0M95 10L90 -10M109 -41L118 -3M133 3L118 -3M76 -6L70 8M70 8L53 5M56 -26L49 -1M78 20L70 8M48 22L53 5M31 1L49 -1M132 153L124 151M123 146L124 151M136 173L117 183M84 161L99 150M84 161L100 179M99 150L113 160M100 179L111 178M113 160L124 151M107 110L96 106M90 114L96 106M111 131L96 137M91 90L124 90M91 90L96 106M124 90L107 110M123 146L111 131M72 160L84 161M158 284L138 257M127 278L136 258M158 246L166 249M138 257L139 256M158 246L156 236M139 256L128 230M89 208L93 184M93 184L71 181M69 200L71 181M72 160L70 180M42 176L52 181M52 181L70 180M70 180L71 181M354 202L372 193M367 226L386 209M372 193L385 204M353 202L354 202M334 208L353 202M328 225L331 230M331 230L352 233M352 233L361 225M398 195L385 204M500 216L398 223M398 223L386 209M334 208L322 192M313 223L306 214M306 214L312 196M345 183L327 176M322 192L327 176M347 158L327 176M321 153L324 173M327 176L327 176M272 301L252 275M227 389L240 272M252 275L240 272M308 279L304 275M327 276L329 258M329 258L326 253M355 112L347 89M374 87L373 86M347 89L351 83M373 86L351 83M373 86L376 60M347 70L342 43M347 70L328 67M337 41L324 50M328 67L324 50M347 -4L351 4M351 4L366 1M331 19L351 5M331 19L321 18M316 -6L321 18M191 275L198 269M166 249L175 247M198 269L175 247M185 238L175 247M195 163L192 188M195 163L204 162M192 188L204 189M204 189L211 180M190 159L195 163M189 190L192 188M208 128L187 139M208 128L213 159M222 161L213 159M233 171L211 180M204 216L194 211M222 201L204 189M331 19L337 41M308 23L302 43M324 50L304 45M302 43L304 45M300 15L292 2M259 13L258 -5M259 13L268 20M281 -3L289 3M295 131L321 114M328 67L325 70M325 70L299 65M208 128L209 127M222 161L232 135M209 127L232 135M202 97L210 115M184 115L208 121M184 115L181 95M181 95L183 94M183 116L184 115M166 95L181 95M166 67L160 75M160 75L161 87M276 84L256 102M284 92L278 118M278 118L256 106M112 41L121 47M115 29L118 26M118 26L138 19M142 21L136 49M97 47L112 41M95 10L115 29M139 51L155 46M139 51L136 49M154 20L142 21M189 63L208 68M208 68L212 82M94 69L94 53M94 69L94 69M94 69L73 68M141 64L145 69M141 64L122 71M145 69L128 90M122 71L120 74M120 74L126 89M126 89L128 90M94 69L120 74M91 90L90 88M124 90L126 89M90 88L94 69M52 52L54 64M54 64L62 77M90 88L77 90M77 90L62 82M62 77L62 82M68 140L65 132M77 90L67 106M71 116L67 106M39 127L42 122M121 196L111 206M89 208L91 212M91 212L93 213M111 206L93 213M67 297L32 273M8 252L29 244M32 273L40 265M29 244L36 228M26 222L29 200M30 181L33 196M102 303L94 268M106 267L94 268M136 258L115 253M106 267L115 253M391 283L374 262M348 285L354 273M367 270L354 273M329 258L348 257M354 273L348 257M331 230L326 253M352 233L356 249M348 257L356 249M291 190L295 189M295 189L307 172M307 172L296 159M283 160L296 159M306 214L287 210M287 210L291 190M281 158L283 129M281 158L283 160M295 131L283 129M263 265L281 271M304 275L283 269M281 271L283 269M239 271L215 280M198 269L203 267M215 280L203 267M263 265L257 247M257 247L254 245M254 245L236 252M255 181L238 179M262 199L257 205M257 205L232 209M238 179L227 201M227 201L232 209M287 186L261 189M271 160L255 181M234 172L238 179M234 172L251 144M251 144L271 160M255 226L257 205M255 226L234 219M234 219L232 209M234 172L233 171M222 201L227 201M376 60L376 60M347 70L351 83M376 60L397 47M302 43L277 39M300 15L274 32M289 3L292 2M299 66L279 71M277 39L273 47M279 71L273 47M269 26L243 40M244 51L243 40M273 47L249 56M243 40L231 24M237 18L231 24M188 36L215 41M191 18L216 16M215 41L226 24M211 -9L216 -1M216 16L216 -1M257 -7L236 -1M234 -3L236 -1M258 -5L257 -7M237 18L236 -1M281 -3L257 -61M226 24L231 24M321 112L328 95M306 106L298 92M328 95L322 84M322 84L304 82M298 92L304 82M279 124L279 119M279 119L306 106M347 89L328 95M279 119L278 118M347 70L347 70M325 70L322 84M276 84L275 76M235 135L239 110M252 138L250 140M252 138L252 108M252 108L239 110M232 135L235 135M231 106L239 110M251 144L250 140M279 124L252 138M256 106L252 108M218 54L234 54M218 54L212 64M212 64L231 70M234 54L231 70M215 41L218 54M244 51L234 54M229 90L225 86M233 73L252 71M252 71L252 72M231 106L229 90M256 102L248 85M212 82L225 86M231 70L233 73M275 76L252 72M51 89L36 84M51 89L54 104M54 104L41 115M31 85L36 84M29 106L41 115M54 64L36 84M62 82L51 89M67 106L54 104M42 122L41 115M26 80L31 85M6 113L29 106M68 248L78 268M68 248L44 264M78 268L68 284M94 268L92 268M92 268L78 268M46 229L41 227M46 229L60 230M41 227L45 202M60 230L63 203M52 200L45 202M43 264L46 229M36 228L41 227M33 196L45 202M62 232L91 212M69 200L63 203M52 181L52 200M110 236L99 232M110 236L114 252M114 252L95 252M99 232L91 240M91 240L95 252M93 213L99 232M92 268L95 252M69 244L91 240M374 260L368 253M374 260L389 253M368 253L376 235M389 253L392 244M376 235L390 236M392 244L390 236M367 226L376 235M469 261L392 244M286 250L276 244M286 250L297 245M299 238L280 215M276 244L275 222M280 215L275 222M257 247L276 244M313 223L299 238M281 214L280 215M255 226L275 222M207 259L192 238M355 41L351 6M362 43L370 33M351 6L370 33M342 43L355 41M351 5L351 6M374 32L396 32M374 32L372 3M381 4L398 28M381 4L372 3M398 28L396 32M370 33L374 32M430 11L398 28M232 250L230 228M232 250L219 252M219 252L206 227M230 228L206 227M206 227L206 227M236 252L232 250M207 259L219 252M192 238L206 227M204 216L206 227" fill="none" stroke="#202020" stroke-width="1.9" stroke-opacity="0.62" stroke-linecap="round"/>
</g></g></g>
<rect x="1520.4" y="772" width="395.2" height="272.75" fill="none" stroke="#000" stroke-width="2.6"/>
<text x="1551" y="821.7" font-size="29.5" font-weight="bold" fill="#fff">PP</text>
<text x="1791.5" y="1007.8" font-size="29.5" font-weight="bold" fill="#fff">20 µm</text>
<rect x="1794.5" y="1019.1" width="87.5" height="8.2" fill="#fff"/>
<rect x="1520.4" y="1044.75" width="395.2" height="272.75" fill="none" stroke="#000" stroke-width="2.6"/>
<text x="1551" y="1093.8" font-size="29.5" font-weight="bold" fill="#fff">PPMA51</text>
<text x="1791.5" y="1277.2" font-size="29.5" font-weight="bold" fill="#fff">20 µm</text>
<rect x="1794.5" y="1287.2" width="87.5" height="8.2" fill="#fff"/>
<rect x="1520.4" y="1317.5" width="395.2" height="272.75" fill="none" stroke="#000" stroke-width="2.6"/>
<text x="1551" y="1364" font-size="29.5" font-weight="bold" fill="#fff">PPMA21</text>
<text x="1791.5" y="1552.8" font-size="29.5" font-weight="bold" fill="#fff">20 µm</text>
<rect x="1794.5" y="1561.4" width="87.5" height="8.2" fill="#fff"/>
<rect x="1520.4" y="1590.25" width="395.2" height="272.75" fill="none" stroke="#000" stroke-width="2.6"/>
<text x="1551" y="1639" font-size="29.5" font-weight="bold" fill="#fff">PPMA11</text>
<text x="1791.5" y="1824.1" font-size="29.5" font-weight="bold" fill="#fff">20 µm</text>
<rect x="1794.5" y="1836.7" width="87.5" height="8.2" fill="#fff"/>
<text x="1456.8" y="761.4" font-size="60" font-weight="bold">e</text>
</g>
</svg></body></html>
